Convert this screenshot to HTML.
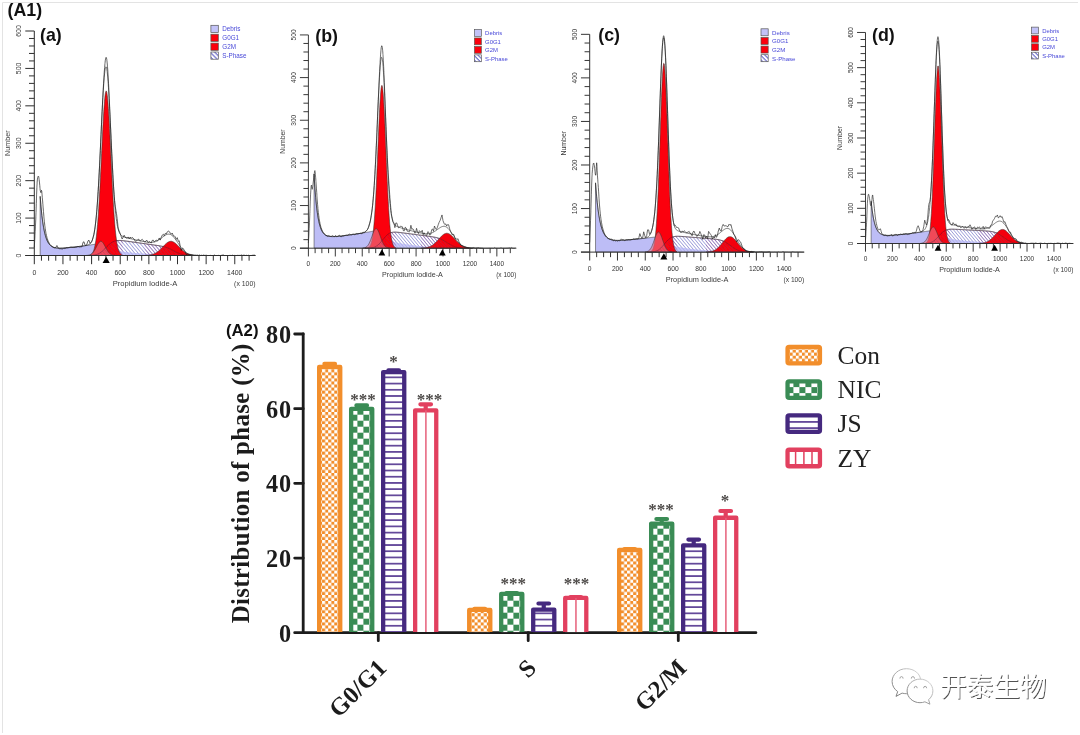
<!DOCTYPE html>
<html lang="en"><head><meta charset="utf-8"><title>Cell cycle distribution</title>
<style>
html,body{margin:0;padding:0;background:#fff;}
body{width:1080px;height:735px;overflow:hidden;}
svg{display:block;}
</style></head><body>
<svg width="1080" height="735" viewBox="0 0 1080 735">
<defs>
<pattern id="hatch" width="2.6" height="2.6" patternUnits="userSpaceOnUse" patternTransform="rotate(-40)"><rect width="2.6" height="2.6" fill="#fff" fill-opacity="0.85"/><rect width="0.62" height="2.6" fill="#7878cc"/></pattern>
<pattern id="hatch2" width="2.6" height="2.6" patternUnits="userSpaceOnUse" patternTransform="rotate(-40)"><rect width="0.6" height="2.6" fill="#8a2a7a" fill-opacity="0.55"/></pattern>
<pattern id="hatchL" width="3.2" height="3.2" patternUnits="userSpaceOnUse" patternTransform="rotate(45)"><rect width="3.2" height="3.2" fill="#fff"/><rect width="3.2" height="1.3" fill="#7a7ad0"/></pattern>
<filter id="soft" x="0" y="0" width="100%" height="100%" filterUnits="userSpaceOnUse"><feGaussianBlur stdDeviation="0.38"/></filter>

<pattern id="pO" width="6.1" height="6.1" patternUnits="userSpaceOnUse"><rect width="6.1" height="6.1" fill="#fff"/><rect x="3.05" width="3.05" height="3.05" fill="#f28e2b"/><rect y="3.05" width="3.05" height="3.05" fill="#f28e2b"/></pattern>
<pattern id="pG" width="12" height="12" patternUnits="userSpaceOnUse"><rect width="12" height="12" fill="#fff"/><rect x="6" width="6" height="6" fill="#3a8c55"/><rect y="6" width="6" height="6" fill="#3a8c55"/></pattern>
<pattern id="pP" width="40" height="6.21" patternUnits="userSpaceOnUse"><rect width="40" height="6.21" fill="#fff"/><rect width="40" height="0.85" fill="#5d4196"/><rect y="5.36" width="40" height="0.85" fill="#5d4196"/></pattern>
<filter id="wsh" x="-10%" y="-10%" width="130%" height="130%"><feGaussianBlur in="SourceAlpha" stdDeviation="0.55"/><feOffset dx="1" dy="1"/><feComponentTransfer><feFuncA type="linear" slope="0.68"/></feComponentTransfer><feMerge><feMergeNode/><feMergeNode in="SourceGraphic"/></feMerge></filter>
<linearGradient id="wg" x1="1" y1="0" x2="0" y2="1"><stop offset="0" stop-color="#d8d8d8"/><stop offset="0.45" stop-color="#a8a8a8"/><stop offset="1" stop-color="#6e6e6e"/></linearGradient>
<filter id="wsh3" x="-10%" y="-10%" width="130%" height="130%"><feGaussianBlur stdDeviation="0.35"/></filter>
<filter id="wsh2" x="-50%" y="-50%" width="200%" height="200%"><feGaussianBlur in="SourceAlpha" stdDeviation="0.4"/><feOffset dx="0.6" dy="0.6"/><feComponentTransfer><feFuncA type="linear" slope="0.5"/></feComponentTransfer><feMerge><feMergeNode/><feMergeNode in="SourceGraphic"/></feMerge></filter>
</defs>
<rect width="1080" height="735" fill="#fff"/>
<path d="M2.5 733V2.5H1078" fill="none" stroke="#e3e3e3" stroke-width="1"/>
<g font-family="'Liberation Sans', sans-serif" filter="url(#soft)">
<g transform="translate(34.3 255.5) scale(1 1)">
<path d="M5.87 0 L5.87 -59.12 L6.44 -51.81 L7.02 -45.5 L7.59 -40.07 L8.16 -35.4 L8.74 -31.36 L9.31 -27.89 L9.88 -24.9 L10.45 -22.33 L11.03 -20.11 L11.6 -18.21 L12.17 -16.57 L12.74 -15.16 L13.32 -13.95 L13.89 -12.91 L14.46 -12.02 L15.04 -11.25 L15.61 -10.6 L16.18 -10.04 L16.75 -9.57 L17.33 -9.16 L17.9 -8.82 L18.47 -8.53 L19.05 -8.28 L19.62 -8.08 L20.19 -7.91 L20.76 -7.77 L21.34 -7.65 L21.91 -7.56 L22.48 -7.49 L23.06 -7.43 L23.63 -7.39 L24.2 -7.36 L24.77 -7.34 L25.35 -7.34 L25.92 -7.34 L26.49 -7.34 L27.06 -7.36 L27.64 -7.38 L28.21 -7.4 L28.78 -7.43 L29.36 -7.46 L29.93 -7.5 L30.5 -7.54 L31.07 -7.58 L31.65 -7.63 L32.22 -7.67 L32.79 -7.72 L33.37 -7.77 L33.94 -7.83 L34.51 -7.88 L35.08 -7.94 L35.66 -7.99 L36.23 -8.05 L36.8 -8.11 L37.38 -8.17 L37.95 -8.23 L38.52 -8.29 L39.09 -8.36 L39.67 -8.42 L40.24 -8.49 L40.81 -8.55 L41.38 -8.62 L41.96 -8.69 L42.53 -8.75 L43.1 -8.82 L43.68 -8.89 L44.25 -8.96 L44.82 -9.03 L45.39 -9.11 L45.97 -9.18 L46.54 -9.25 L47.11 -9.33 L47.69 -9.4 L48.26 -9.47 L48.83 -9.55 L49.4 -9.63 L49.98 -9.7 L50.55 -9.78 L51.12 -9.86 L51.7 -9.94 L52.27 -10.02 L52.84 -10.1 L53.41 -10.18 L53.99 -10.26 L54.56 -10.34 L55.13 -10.42 L55.7 -10.5 L56.28 -10.59 L56.85 -10.67 L57.42 -10.76 L58 -10.84 L58.57 -10.93 L59.14 -11.01 L59.71 -11.1 L60.29 -11.19 L60.86 -11.27 L61.43 -11.36 L62.01 -11.45 L62.58 -11.54 L63.15 -11.63 L63.72 -11.72 L64.3 -11.81 L64.87 -11.9 L65.44 -12 L66.02 -12.09 L66.59 -12.18 L67.16 -12.28 L67.73 -12.2 L68.31 -11.65 L68.88 -11.13 L69.45 -10.64 L70.02 -10.19 L70.6 -9.76 L71.17 -9.36 L71.74 -8.99 L72.32 -8.64 L72.89 -8.32 L73.46 -8.01 L74.03 -7.72 L74.61 -7.45 L75.18 -7.2 L75.75 -6.96 L76.33 -6.74 L76.9 -6.52 L77.47 -6.32 L78.04 -6.13 L78.62 -5.96 L79.19 -5.79 L79.76 -5.63 L80.34 -5.47 L80.91 -5.33 L81.48 -5.19 L82.05 -5.06 L82.63 -4.94 L83.2 -4.82 L83.77 -4.7 L84.34 -4.59 L84.92 -4.49 L85.49 -4.39 L86.06 -4.29 L86.64 -4.2 L87.21 -4.11 L87.78 -4.03 L88.35 -3.94 L88.93 -3.86 L89.5 -3.79 L90.07 -3.71 L90.65 -3.64 L91.22 -3.57 L91.79 -3.5 L92.36 -3.43 L92.94 -3.37 L93.51 -3.3 L94.08 -3.24 L94.66 -3.18 L95.23 -3.12 L95.8 -3.06 L96.37 -3.01 L96.95 -2.95 L97.52 -2.9 L98.09 -2.84 L98.66 -2.79 L99.24 -2.74 L99.81 -2.69 L100.38 -2.64 L100.96 -2.59 L101.53 -2.54 L102.1 -2.49 L102.67 -2.45 L103.25 -2.4 L103.82 -2.35 L104.39 -2.31 L104.97 -2.26 L105.54 -2.22 L106.11 -2.18 L106.68 -2.13 L107.26 -2.09 L107.83 -2.05 L108.4 -2.01 L108.98 -1.97 L109.55 -1.93 L110.12 -1.89 L110.69 -1.85 L111.27 -1.81 L111.84 -1.77 L112.41 -1.73 L112.98 -1.69 L113.56 -1.66 L114.13 -1.62 L114.7 -1.58 L115.28 -1.55 L115.85 -1.51 L116.42 -1.47 L116.99 -1.44 L117.57 -1.4 L118.14 -1.37 L118.71 -1.34 L119.29 -1.3 L119.86 -1.27 L120.43 -1.24 L121 -1.2 L121.58 -1.17 L122.15 -1.14 L122.72 -1.11 L123.3 -1.08 L123.87 -1.05 L124.44 -1.02 L125.01 -0.99 L125.59 -0.96 L126.16 -0.93 L126.73 -0.9 L127.3 -0.87 L127.88 -0.84 L128.45 -0.82 L129.02 -0.79 L129.6 -0.76 L130.17 -0.74 L130.74 -0.71 L131.31 -0.68 L131.89 -0.66 L132.46 -0.63 L133.03 -0.61 L133.61 -0.58 L134.18 -0.56 L134.75 -0.54 L135.32 -0.52 L135.9 -0.49 L136.47 -0.47 L137.04 -0.45 L137.62 -0.43 L138.19 -0.41 L138.76 -0.39 L139.33 -0.37 L139.91 -0.35 L140.48 -0.33 L141.05 -0.31 L141.62 -0.29 L142.2 -0.27 L142.77 -0.26 L143.34 -0.24 L143.92 -0.22 L144.49 -0.21 L145.06 -0.19 L145.63 -0.18 L146.21 -0.16 L146.78 -0.15 L147.35 -0.14 L147.93 -0.12 L148.5 -0.11 L149.07 -0.1 L149.64 -0.09 L150.22 -0.08 L150.79 -0.07 L151.36 -0.06 L151.94 -0.05 L152.51 -0.04 L153.08 -0.03 L153.65 -0.03 L154.23 -0.02 L154.8 -0.01 L155.37 -0.01 L155.94 -0.01 L156.52 -0 L157.09 -0 L157.52 0Z" fill="#bdbdf6" stroke="#333" stroke-width="0.55" stroke-linejoin="round"/>
<path d="M51.7 0 L51.7 -0.01 L52.27 -0.02 L52.84 -0.02 L53.41 -0.03 L53.99 -0.04 L54.56 -0.05 L55.13 -0.07 L55.7 -0.09 L56.28 -0.11 L56.85 -0.14 L57.42 -0.18 L58 -0.23 L58.57 -0.28 L59.14 -0.35 L59.71 -0.43 L60.29 -0.53 L60.86 -0.65 L61.43 -0.78 L62.01 -0.94 L62.58 -1.12 L63.15 -1.33 L63.72 -1.57 L64.3 -1.84 L64.87 -2.13 L65.44 -2.46 L66.02 -2.82 L66.59 -3.22 L67.16 -3.65 L67.73 -4.1 L68.31 -4.59 L68.88 -5.11 L69.45 -5.65 L70.02 -6.21 L70.6 -6.8 L71.17 -7.39 L71.74 -8 L72.32 -8.61 L72.89 -9.17 L73.46 -9.73 L74.03 -10.27 L74.61 -10.79 L75.18 -11.29 L75.75 -11.76 L76.33 -12.2 L76.9 -12.61 L77.47 -12.99 L78.04 -13.33 L78.62 -13.64 L79.19 -13.92 L79.76 -14.16 L80.34 -14.36 L80.91 -14.54 L81.48 -14.68 L82.05 -14.8 L82.63 -14.89 L83.2 -14.96 L83.77 -15 L84.34 -15.03 L84.92 -15.04 L85.49 -15.03 L86.06 -15.02 L86.64 -14.99 L87.21 -14.95 L87.78 -14.9 L88.35 -14.85 L88.93 -14.79 L89.5 -14.72 L90.07 -14.66 L90.65 -14.58 L91.22 -14.51 L91.79 -14.44 L92.36 -14.36 L92.94 -14.28 L93.51 -14.2 L94.08 -14.13 L94.66 -14.05 L95.23 -13.97 L95.8 -13.89 L96.37 -13.81 L96.95 -13.72 L97.52 -13.64 L98.09 -13.56 L98.66 -13.48 L99.24 -13.4 L99.81 -13.32 L100.38 -13.24 L100.96 -13.16 L101.53 -13.08 L102.1 -13 L102.67 -12.91 L103.25 -12.83 L103.82 -12.75 L104.39 -12.67 L104.97 -12.59 L105.54 -12.51 L106.11 -12.43 L106.68 -12.35 L107.26 -12.27 L107.83 -12.19 L108.4 -12.1 L108.98 -12.02 L109.55 -11.94 L110.12 -11.86 L110.69 -11.78 L111.27 -11.7 L111.84 -11.62 L112.41 -11.54 L112.98 -11.46 L113.56 -11.37 L114.13 -11.29 L114.7 -11.21 L115.28 -11.13 L115.85 -11.05 L116.42 -10.97 L116.99 -10.89 L117.57 -10.81 L118.14 -10.72 L118.71 -10.64 L119.29 -10.56 L119.86 -10.48 L120.43 -10.39 L121 -10.31 L121.58 -10.23 L122.15 -10.14 L122.72 -10.06 L123.3 -9.97 L123.87 -9.88 L124.44 -9.79 L125.01 -9.69 L125.59 -9.59 L126.16 -9.49 L126.73 -9.39 L127.3 -9.27 L127.88 -9.16 L128.45 -9.03 L129.02 -8.9 L129.6 -8.76 L130.17 -8.61 L130.74 -8.45 L131.31 -8.28 L131.89 -8.1 L132.46 -7.91 L133.03 -7.7 L133.61 -7.48 L134.18 -7.25 L134.75 -7 L135.32 -6.74 L135.9 -6.47 L136.47 -6.19 L137.04 -5.9 L137.62 -5.6 L138.19 -5.3 L138.76 -4.99 L139.33 -4.68 L139.91 -4.36 L140.48 -4.05 L141.05 -3.74 L141.62 -3.48 L142.2 -3.21 L142.77 -2.95 L143.34 -2.7 L143.92 -2.46 L144.49 -2.22 L145.06 -2 L145.63 -1.78 L146.21 -1.59 L146.78 -1.4 L147.35 -1.23 L147.93 -1.07 L148.5 -0.93 L149.07 -0.8 L149.64 -0.68 L150.22 -0.58 L150.79 -0.49 L151.36 -0.41 L151.94 -0.34 L152.51 -0.28 L153.08 -0.23 L153.65 -0.19 L154.23 -0.15 L154.8 -0.12 L155.37 -0.1 L155.94 -0.08 L156.52 -0.06 L157.09 -0.05 L157.66 -0.04 L158.24 -0.03 L158.81 -0.02 L159.38 -0.02 L159.95 -0.01 L160.53 -0.01 L161.1 -0.01 L161.67 -0.01 L161.67 0Z" fill="#fff" />
<path d="M51.7 0 L51.7 -0.01 L52.27 -0.02 L52.84 -0.02 L53.41 -0.03 L53.99 -0.04 L54.56 -0.05 L55.13 -0.07 L55.7 -0.09 L56.28 -0.11 L56.85 -0.14 L57.42 -0.18 L58 -0.23 L58.57 -0.28 L59.14 -0.35 L59.71 -0.43 L60.29 -0.53 L60.86 -0.65 L61.43 -0.78 L62.01 -0.94 L62.58 -1.12 L63.15 -1.33 L63.72 -1.57 L64.3 -1.84 L64.87 -2.13 L65.44 -2.46 L66.02 -2.82 L66.59 -3.22 L67.16 -3.65 L67.73 -4.1 L68.31 -4.59 L68.88 -5.11 L69.45 -5.65 L70.02 -6.21 L70.6 -6.8 L71.17 -7.39 L71.74 -8 L72.32 -8.61 L72.89 -9.17 L73.46 -9.73 L74.03 -10.27 L74.61 -10.79 L75.18 -11.29 L75.75 -11.76 L76.33 -12.2 L76.9 -12.61 L77.47 -12.99 L78.04 -13.33 L78.62 -13.64 L79.19 -13.92 L79.76 -14.16 L80.34 -14.36 L80.91 -14.54 L81.48 -14.68 L82.05 -14.8 L82.63 -14.89 L83.2 -14.96 L83.77 -15 L84.34 -15.03 L84.92 -15.04 L85.49 -15.03 L86.06 -15.02 L86.64 -14.99 L87.21 -14.95 L87.78 -14.9 L88.35 -14.85 L88.93 -14.79 L89.5 -14.72 L90.07 -14.66 L90.65 -14.58 L91.22 -14.51 L91.79 -14.44 L92.36 -14.36 L92.94 -14.28 L93.51 -14.2 L94.08 -14.13 L94.66 -14.05 L95.23 -13.97 L95.8 -13.89 L96.37 -13.81 L96.95 -13.72 L97.52 -13.64 L98.09 -13.56 L98.66 -13.48 L99.24 -13.4 L99.81 -13.32 L100.38 -13.24 L100.96 -13.16 L101.53 -13.08 L102.1 -13 L102.67 -12.91 L103.25 -12.83 L103.82 -12.75 L104.39 -12.67 L104.97 -12.59 L105.54 -12.51 L106.11 -12.43 L106.68 -12.35 L107.26 -12.27 L107.83 -12.19 L108.4 -12.1 L108.98 -12.02 L109.55 -11.94 L110.12 -11.86 L110.69 -11.78 L111.27 -11.7 L111.84 -11.62 L112.41 -11.54 L112.98 -11.46 L113.56 -11.37 L114.13 -11.29 L114.7 -11.21 L115.28 -11.13 L115.85 -11.05 L116.42 -10.97 L116.99 -10.89 L117.57 -10.81 L118.14 -10.72 L118.71 -10.64 L119.29 -10.56 L119.86 -10.48 L120.43 -10.39 L121 -10.31 L121.58 -10.23 L122.15 -10.14 L122.72 -10.06 L123.3 -9.97 L123.87 -9.88 L124.44 -9.79 L125.01 -9.69 L125.59 -9.59 L126.16 -9.49 L126.73 -9.39 L127.3 -9.27 L127.88 -9.16 L128.45 -9.03 L129.02 -8.9 L129.6 -8.76 L130.17 -8.61 L130.74 -8.45 L131.31 -8.28 L131.89 -8.1 L132.46 -7.91 L133.03 -7.7 L133.61 -7.48 L134.18 -7.25 L134.75 -7 L135.32 -6.74 L135.9 -6.47 L136.47 -6.19 L137.04 -5.9 L137.62 -5.6 L138.19 -5.3 L138.76 -4.99 L139.33 -4.68 L139.91 -4.36 L140.48 -4.05 L141.05 -3.74 L141.62 -3.48 L142.2 -3.21 L142.77 -2.95 L143.34 -2.7 L143.92 -2.46 L144.49 -2.22 L145.06 -2 L145.63 -1.78 L146.21 -1.59 L146.78 -1.4 L147.35 -1.23 L147.93 -1.07 L148.5 -0.93 L149.07 -0.8 L149.64 -0.68 L150.22 -0.58 L150.79 -0.49 L151.36 -0.41 L151.94 -0.34 L152.51 -0.28 L153.08 -0.23 L153.65 -0.19 L154.23 -0.15 L154.8 -0.12 L155.37 -0.1 L155.94 -0.08 L156.52 -0.06 L157.09 -0.05 L157.66 -0.04 L158.24 -0.03 L158.81 -0.02 L159.38 -0.02 L159.95 -0.01 L160.53 -0.01 L161.1 -0.01 L161.67 -0.01 L161.67 0Z" fill="url(#hatch)" stroke="#333" stroke-width="0.55" stroke-linejoin="round"/>
<path d="M77.61 0 L77.61 -6.27 L78.19 -6.09 L78.76 -5.91 L79.33 -5.75 L79.91 -5.59 L80.48 -5.44 L81.05 -5.29 L81.62 -5.16 L82.2 -5.03 L82.77 -4.91 L83.34 -4.79 L83.92 -4.68 L84.49 -4.57 L85.06 -4.46 L85.63 -4.37 L86.21 -4.27 L86.78 -4.18 L87.35 -4.09 L87.92 -4.01 L88.5 -3.92 L89.07 -3.84 L89.64 -3.77 L90.22 -3.69 L90.79 -3.62 L91.36 -3.55 L91.93 -3.48 L92.51 -3.42 L93.08 -3.35 L93.65 -3.29 L94.23 -3.23 L94.8 -3.17 L95.37 -3.11 L95.94 -3.05 L96.52 -2.99 L97.09 -2.94 L97.66 -2.88 L98.24 -2.83 L98.81 -2.78 L99.38 -2.73 L99.95 -2.68 L100.53 -2.63 L101.1 -2.58 L101.67 -2.53 L102.24 -2.48 L102.82 -2.43 L103.39 -2.39 L103.96 -2.34 L104.54 -2.3 L105.11 -2.25 L105.68 -2.21 L106.25 -2.17 L106.83 -2.12 L107.4 -2.08 L107.97 -2.04 L108.55 -2 L109.12 -1.96 L109.69 -1.92 L110.26 -1.88 L110.84 -1.84 L111.41 -1.8 L111.98 -1.76 L112.56 -1.72 L113.13 -1.68 L113.7 -1.65 L114.27 -1.61 L114.85 -1.57 L115.42 -1.54 L115.99 -1.5 L116.56 -1.47 L117.14 -1.43 L117.71 -1.4 L118.28 -1.36 L118.86 -1.33 L119.43 -1.29 L120 -1.26 L120.57 -1.23 L121.15 -1.2 L121.72 -1.16 L122.29 -1.13 L122.87 -1.1 L123.44 -1.07 L124.01 -1.04 L124.58 -1.01 L125.16 -0.98 L125.73 -0.95 L126.3 -0.92 L126.88 -0.89 L127.45 -0.86 L128.02 -0.84 L128.59 -0.81 L129.17 -0.78 L129.74 -0.75 L130.31 -0.73 L130.88 -0.7 L131.46 -0.68 L132.03 -0.65 L132.6 -0.63 L133.18 -0.6 L133.75 -0.58 L134.32 -0.56 L134.89 -0.53 L135.47 -0.51 L136.04 -0.49 L136.61 -0.47 L137.19 -0.44 L137.76 -0.42 L138.33 -0.4 L138.9 -0.38 L139.48 -0.36 L140.05 -0.34 L140.62 -0.32 L141.2 -0.31 L141.77 -0.29 L142.34 -0.27 L142.91 -0.25 L143.49 -0.24 L144.06 -0.22 L144.63 -0.2 L145.2 -0.19 L145.78 -0.17 L146.35 -0.16 L146.92 -0.15 L147.5 -0.13 L148.07 -0.12 L148.64 -0.11 L149.21 -0.1 L149.79 -0.09 L150.36 -0.08 L150.93 -0.07 L151.51 -0.06 L152.08 -0.05 L152.65 -0.04 L153.22 -0.03 L153.8 -0.02 L154.37 -0.02 L154.94 -0.01 L155.52 -0.01 L156.09 -0 L156.66 -0 L157.23 -0 L157.52 0Z" fill="#b4b4f4" opacity="0.75"/>
<path d="M55.82 0 L55.82 -0.51 L56.39 -0.76 L56.96 -1.13 L57.54 -1.64 L58.11 -2.35 L58.68 -3.32 L59.26 -4.63 L59.83 -6.35 L60.4 -8.59 L60.97 -11.45 L61.55 -15.03 L62.12 -19.46 L62.69 -24.81 L63.27 -31.18 L63.84 -38.61 L64.41 -47.12 L64.98 -56.66 L65.56 -67.14 L66.13 -78.39 L66.7 -90.2 L67.28 -102.28 L67.85 -114.27 L68.42 -125.82 L68.99 -136.51 L69.57 -145.94 L70.14 -153.76 L70.71 -159.63 L71.28 -163.31 L71.86 -164.63 L72.43 -163.55 L73 -160.1 L73.58 -154.44 L74.15 -146.8 L74.72 -137.51 L75.29 -126.93 L75.87 -115.46 L76.44 -103.48 L77.01 -91.4 L77.59 -79.55 L78.16 -68.23 L78.73 -57.67 L79.3 -48.03 L79.88 -39.41 L80.45 -31.88 L81.02 -25.4 L81.6 -19.95 L82.17 -15.44 L82.74 -11.77 L83.31 -8.85 L83.89 -6.55 L84.46 -4.78 L85.03 -3.44 L85.6 -2.43 L86.18 -1.7 L86.75 -1.17 L87.32 -0.79 L87.9 -0.53 L87.95 0Z" fill="#fb0207" stroke="#333" stroke-width="0.55" stroke-linejoin="round"/>
<path d="M110.49 0 L110.49 -0.08 L111.07 -0.11 L111.64 -0.13 L112.21 -0.16 L112.78 -0.2 L113.36 -0.25 L113.93 -0.3 L114.5 -0.36 L115.08 -0.44 L115.65 -0.53 L116.22 -0.63 L116.79 -0.75 L117.37 -0.88 L117.94 -1.04 L118.51 -1.22 L119.09 -1.42 L119.66 -1.64 L120.23 -1.9 L120.8 -2.18 L121.38 -2.49 L121.95 -2.83 L122.52 -3.2 L123.09 -3.61 L123.67 -4.04 L124.24 -4.51 L124.81 -5 L125.39 -5.52 L125.96 -6.07 L126.53 -6.63 L127.1 -7.21 L127.68 -7.81 L128.25 -8.41 L128.82 -9.02 L129.4 -9.62 L129.97 -10.21 L130.54 -10.78 L131.11 -11.33 L131.69 -11.85 L132.26 -12.33 L132.83 -12.77 L133.41 -13.16 L133.98 -13.5 L134.55 -13.77 L135.12 -13.98 L135.7 -14.13 L136.27 -14.21 L136.84 -14.21 L137.41 -14.15 L137.99 -14.02 L138.56 -13.82 L139.13 -13.56 L139.71 -13.23 L140.28 -12.85 L140.85 -12.42 L141.42 -11.95 L142 -11.44 L142.57 -10.89 L143.14 -10.32 L143.72 -9.74 L144.29 -9.14 L144.86 -8.53 L145.43 -7.93 L146.01 -7.33 L146.58 -6.75 L147.15 -6.18 L147.73 -5.63 L148.3 -5.1 L148.87 -4.6 L149.44 -4.13 L150.02 -3.69 L150.59 -3.28 L151.16 -2.9 L151.73 -2.56 L152.31 -2.24 L152.88 -1.95 L153.45 -1.69 L154.03 -1.46 L154.6 -1.25 L155.17 -1.07 L155.74 -0.91 L156.32 -0.77 L156.89 -0.65 L157.46 -0.54 L158.04 -0.45 L158.61 -0.38 L159.18 -0.31 L159.75 -0.26 L160.33 -0.21 L160.9 -0.17 L161.47 -0.14 L162.05 -0.11 L162.62 -0.09 L162.73 0Z" fill="#f4060c" stroke="#333" stroke-width="0.55" stroke-linejoin="round"/>
<path d="M52.38 0 L52.38 -0.08 L52.96 -0.13 L53.53 -0.19 L54.1 -0.27 L54.67 -0.39 L55.25 -0.54 L55.82 -0.75 L56.39 -1.02 L56.96 -1.36 L57.54 -1.78 L58.11 -2.3 L58.68 -2.91 L59.26 -3.64 L59.83 -4.46 L60.4 -5.38 L60.97 -6.39 L61.55 -7.46 L62.12 -8.57 L62.69 -9.68 L63.27 -10.75 L63.84 -11.74 L64.41 -12.61 L64.98 -13.32 L65.56 -13.84 L66.13 -14.14 L66.7 -14.21 L67.28 -14.05 L67.85 -13.66 L68.42 -13.06 L68.99 -12.28 L69.57 -11.35 L70.14 -10.32 L70.71 -9.23 L71.28 -8.12 L71.86 -7.03 L72.43 -5.98 L73 -5 L73.58 -4.12 L74.15 -3.33 L74.72 -2.65 L75.29 -2.08 L75.87 -1.6 L76.44 -1.21 L77.01 -0.9 L77.59 -0.66 L78.16 -0.48 L78.73 -0.34 L79.3 -0.23 L79.88 -0.16 L80.45 -0.11 L80.79 0Z" fill="#e8788c" fill-opacity="0.62" stroke="#333" stroke-width="0.55" stroke-linejoin="round"/>
<path d="M51.7 0 L51.7 -0.01 L52.27 -0.02 L52.84 -0.02 L53.41 -0.03 L53.99 -0.04 L54.56 -0.05 L55.13 -0.07 L55.7 -0.09 L56.28 -0.11 L56.85 -0.14 L57.42 -0.18 L58 -0.23 L58.57 -0.28 L59.14 -0.35 L59.71 -0.43 L60.29 -0.53 L60.86 -0.65 L61.43 -0.78 L62.01 -0.94 L62.58 -1.12 L63.15 -1.33 L63.72 -1.57 L64.3 -1.84 L64.87 -2.13 L65.44 -2.46 L66.02 -2.82 L66.59 -3.22 L67.16 -3.65 L67.73 -4.1 L68.31 -4.59 L68.88 -5.11 L69.45 -5.65 L70.02 -6.21 L70.6 -6.8 L71.17 -7.39 L71.74 -8 L72.32 -8.61 L72.89 -9.17 L73.46 -9.73 L74.03 -10.27 L74.61 -10.79 L75.18 -11.29 L75.75 -11.76 L76.33 -12.2 L76.9 -12.61 L77.47 -12.99 L78.04 -13.33 L78.62 -13.64 L79.19 -13.92 L79.76 -14.16 L80.34 -14.36 L80.91 -14.54 L81.48 -14.68 L82.05 -14.8 L82.63 -14.89 L83.2 -14.96 L83.77 -15 L84.34 -15.03 L84.92 -15.04 L85.49 -15.03 L86.06 -15.02 L86.64 -14.99 L87.21 -14.95 L87.78 -14.9 L88.35 -14.85 L88.43 0Z" fill="url(#hatch2)" opacity="0.8"/>
<path d="M110.49 0 L110.49 -11.81 L111.07 -11.73 L111.64 -11.65 L112.21 -11.57 L112.78 -11.48 L113.36 -11.4 L113.93 -11.32 L114.5 -11.24 L115.08 -11.16 L115.65 -11.08 L116.22 -11 L116.79 -10.92 L117.37 -10.83 L117.94 -10.75 L118.51 -10.67 L119.09 -10.59 L119.66 -10.51 L120.23 -10.42 L120.8 -10.34 L121.38 -10.26 L121.95 -10.17 L122.52 -10.09 L123.09 -10 L123.67 -9.91 L124.24 -9.82 L124.81 -9.72 L125.39 -9.63 L125.96 -9.53 L126.53 -9.42 L127.1 -9.31 L127.68 -9.2 L128.25 -9.08 L128.82 -8.95 L129.4 -8.81 L129.97 -8.67 L130.54 -8.51 L131.11 -8.34 L131.69 -8.17 L132.26 -7.98 L132.83 -7.77 L133.41 -7.56 L133.98 -7.33 L134.55 -7.09 L135.12 -6.83 L135.7 -6.57 L136.27 -6.29 L136.84 -6 L137.41 -5.71 L137.99 -5.41 L138.56 -5.1 L139.13 -4.79 L139.71 -4.47 L140.28 -4.16 L140.85 -3.85 L141.42 -3.57 L142 -3.31 L142.57 -3.04 L143.14 -2.79 L143.72 -2.54 L144.29 -2.3 L144.86 -2.07 L145.43 -1.86 L146.01 -1.65 L146.58 -1.46 L147.15 -1.29 L147.73 -1.12 L148.3 -0.98 L148.87 -0.84 L149.44 -0.72 L150.02 -0.61 L150.59 -0.52 L151.16 -0.44 L151.73 -0.36 L152.31 -0.3 L152.88 -0.25 L153.45 -0.2 L154.03 -0.16 L154.6 -0.13 L155.17 -0.11 L155.74 -0.08 L156.32 -0.07 L156.89 -0.05 L157.46 -0.04 L158.04 -0.03 L158.61 -0.02 L159.18 -0.02 L159.75 -0.01 L160.33 -0.01 L160.9 -0.01 L161.47 -0.01 L161.67 0Z" fill="url(#hatch2)" opacity="0.8"/>
<path d="M51.7 -0.01 L52.41 -0.02 L53.13 -0.02 L53.84 -0.04 L54.56 -0.05 L55.28 -0.07 L55.99 -0.1 L56.71 -0.13 L57.42 -0.18 L58.14 -0.24 L58.86 -0.32 L59.57 -0.41 L60.29 -0.53 L61 -0.68 L61.72 -0.86 L62.44 -1.08 L63.15 -1.33 L63.87 -1.63 L64.58 -1.98 L65.3 -2.38 L66.02 -2.82 L66.73 -3.32 L67.45 -3.87 L68.16 -4.47 L68.88 -5.11 L69.6 -5.79 L70.31 -6.5 L71.03 -7.24 L71.74 -8 L72.46 -8.75 L73.18 -9.45 L73.89 -10.13 L74.61 -10.79 L75.32 -11.41 L76.04 -11.99 L76.76 -12.51 L77.47 -12.99 L78.19 -13.41 L78.9 -13.78 L79.62 -14.1 L80.34 -14.36 L81.05 -14.58 L81.77 -14.74 L82.48 -14.87 L83.2 -14.96 L83.92 -15.01 L84.63 -15.04 L85.35 -15.04 L86.06 -15.02 L86.78 -14.98 L87.5 -14.92 L88.21 -14.86 L88.93 -14.79 L89.64 -14.71 L90.36 -14.62 L91.08 -14.53 L91.79 -14.44 L92.51 -14.34 L93.22 -14.24 L93.94 -14.15 L94.66 -14.05 L95.37 -13.95 L96.09 -13.85 L96.8 -13.74 L97.52 -13.64 L98.24 -13.54 L98.95 -13.44 L99.67 -13.34 L100.38 -13.24 L101.1 -13.14 L101.82 -13.04 L102.53 -12.94 L103.25 -12.83 L103.96 -12.73 L104.68 -12.63 L105.4 -12.53 L106.11 -12.43 L106.83 -12.33 L107.54 -12.23 L108.26 -12.12 L108.98 -12.02 L109.69 -11.92 L110.41 -11.82 L111.12 -11.72 L111.84 -11.62 L112.56 -11.52 L113.27 -11.42 L113.99 -11.31 L114.7 -11.21 L115.42 -11.11 L116.14 -11.01 L116.85 -10.91 L117.57 -10.81 L118.28 -10.7 L119 -10.6 L119.72 -10.5 L120.43 -10.39 L121.15 -10.29 L121.86 -10.18 L122.58 -10.08 L123.3 -9.97 L124.01 -9.85 L124.73 -9.74 L125.44 -9.62 L126.16 -9.49 L126.88 -9.36 L127.59 -9.22 L128.31 -9.06 L129.02 -8.9 L129.74 -8.73 L130.46 -8.53 L131.17 -8.33 L131.89 -8.1 L132.6 -7.86 L133.32 -7.59 L134.04 -7.31 L134.75 -7 L135.47 -6.68 L136.18 -6.33 L136.9 -5.98 L137.62 -5.6 L138.33 -5.22 L139.05 -4.83 L139.76 -4.44 L140.48 -4.05 L141.2 -3.68 L141.91 -3.34 L142.63 -3.02 L143.34 -2.7 L144.06 -2.4 L144.78 -2.11 L145.49 -1.84 L146.21 -1.59 L146.92 -1.36 L147.64 -1.15 L148.36 -0.96 L149.07 -0.8 L149.79 -0.66 L150.5 -0.53 L151.22 -0.43 L151.94 -0.34 L152.65 -0.27 L153.37 -0.21 L154.08 -0.16 L154.8 -0.12 L155.52 -0.09 L156.23 -0.07 L156.95 -0.05 L157.66 -0.04 L158.38 -0.03 L159.1 -0.02 L159.81 -0.01 L160.53 -0.01 L161.24 -0.01" fill="none" stroke="#3a1030" stroke-width="0.45" opacity="0.85"/>
<path d="M5.87 -59.12 L6.73 -48.54 L7.59 -40.07 L8.45 -33.3 L9.31 -27.89 L10.17 -23.57 L11.03 -20.11 L11.89 -17.35 L12.74 -15.16 L13.6 -13.41 L14.46 -12.02 L15.32 -10.91 L16.18 -10.04 L17.04 -9.36 L17.9 -8.82 L18.76 -8.4 L19.62 -8.08 L20.48 -7.84 L21.34 -7.65 L22.2 -7.52 L23.06 -7.43 L23.91 -7.38 L24.77 -7.34 L25.63 -7.34 L26.49 -7.34 L27.35 -7.37 L28.21 -7.4 L29.07 -7.45 L29.93 -7.5 L30.79 -7.56 L31.65 -7.63 L32.51 -7.7 L33.37 -7.77 L34.22 -7.85 L35.08 -7.94 L35.94 -8.02 L36.8 -8.11 L37.66 -8.2 L38.52 -8.29 L39.38 -8.39 L40.24 -8.49 L41.1 -8.59 L41.96 -8.69 L42.82 -8.79 L43.68 -8.89 L44.54 -9 L45.39 -9.11 L46.25 -9.22 L47.11 -9.33 L47.97 -9.44 L48.83 -9.56 L49.69 -9.68 L50.55 -9.81 L51.41 -9.96 L52.27 -10.14 L53.13 -10.37 L53.99 -10.67 L54.85 -11.11 L55.28 -11.41 L55.7 -11.76 L56.13 -12.2 L56.56 -12.72 L56.99 -13.37 L57.42 -14.14 L57.85 -15.09 L58.28 -16.22 L58.71 -17.57 L59.14 -19.18 L59.57 -21.08 L60 -23.32 L60.43 -25.92 L60.86 -28.93 L61.29 -32.39 L61.72 -36.33 L62.15 -40.79 L62.58 -45.78 L63.01 -51.34 L63.44 -57.47 L63.87 -64.17 L64.3 -71.43 L64.73 -79.2 L65.16 -87.45 L65.59 -96.11 L66.02 -105.1 L66.44 -114.32 L66.87 -123.66 L67.3 -132.97 L67.73 -141.96 L68.16 -150.3 L68.59 -158.2 L69.02 -165.49 L69.45 -172.01 L69.88 -177.63 L70.31 -182.21 L70.74 -185.65 L71.17 -187.86 L71.6 -188.78 L72.03 -188.38 L72.46 -186.67 L72.89 -183.65 L73.32 -179.43 L73.75 -174.08 L74.18 -167.73 L74.61 -160.51 L75.04 -152.58 L75.47 -144.09 L75.9 -135.22 L76.33 -126.12 L76.76 -116.95 L77.18 -107.86 L77.61 -98.98 L78.04 -90.42 L78.47 -82.28 L78.9 -74.63 L79.33 -67.53 L79.76 -61.01 L80.19 -55.09 L80.62 -49.77 L81.05 -45.05 L81.48 -40.89 L81.91 -37.26 L82.34 -34.12 L82.77 -31.44 L83.2 -29.16 L83.63 -27.24 L84.06 -25.64 L84.49 -24.31 L84.92 -23.21 L85.35 -22.3 L85.78 -21.56 L86.21 -20.95 L86.64 -20.45 L87.07 -20.04 L87.5 -19.7 L87.92 -19.41 L88.35 -19.17 L88.78 -18.96 L89.21 -18.78 L90.07 -18.47 L90.93 -18.2 L91.79 -17.96 L92.65 -17.73 L93.51 -17.51 L94.37 -17.3 L95.23 -17.09 L96.09 -16.88 L96.95 -16.68 L97.81 -16.47 L98.66 -16.27 L99.52 -16.08 L100.38 -15.88 L101.24 -15.68 L102.1 -15.49 L102.96 -15.3 L103.82 -15.11 L104.68 -14.92 L105.54 -14.74 L106.4 -14.56 L107.26 -14.38 L108.12 -14.21 L108.98 -14.04 L109.83 -13.87 L110.69 -13.72 L111.55 -13.57 L112.41 -13.44 L113.27 -13.33 L114.13 -13.23 L114.99 -13.16 L115.85 -13.12 L116.71 -13.11 L117.57 -13.14 L118.43 -13.22 L119.29 -13.36 L120.14 -13.55 L121 -13.8 L121.86 -14.12 L122.72 -14.51 L123.58 -14.96 L124.44 -15.48 L125.3 -16.06 L126.16 -16.68 L127.02 -17.34 L127.88 -18.02 L128.74 -18.7 L129.6 -19.35 L130.46 -19.95 L131.31 -20.48 L132.17 -20.91 L133.03 -21.22 L133.89 -21.39 L134.75 -21.39 L135.61 -21.23 L136.47 -20.88 L137.33 -20.36 L138.19 -19.66 L139.05 -18.81 L139.91 -17.82 L140.77 -16.71 L141.62 -15.54 L142.48 -14.33 L143.34 -13.06 L144.2 -11.78 L145.06 -10.51 L145.92 -9.28 L146.78 -8.09 L147.64 -6.99 L148.5 -5.96 L149.36 -5.03 L150.22 -4.2 L151.08 -3.47 L151.94 -2.83 L152.79 -2.29 L153.65 -1.82 L154.51 -1.44 L155.37 -1.12 L156.23 -0.86 L157.09 -0.66 L157.95 -0.5 L158.81 -0.37 L159.67 -0.28 L160.53 -0.2 L161.39 -0.15 L162.25 -0.11 L163.1 -0.08 L163.96 -0.05 L164.82 -0.04 L165.68 -0.03 L166.54 -0.02 L167.4 -0.01 L168.26 -0.01 L169.12 -0.01 L169.98 -0 L170.84 -0 L171.7 -0 L172.56 -0 L173.42 -0 L174.27 -0 L175.13 -0 L175.99 -0 L176.85 -0 L177.71 -0 L178.57 -0 L179.43 -0 L180.29 -0 L181.15 -0 L182.01 -0 L182.87 -0 L183.73 -0 L184.58 -0 L185.44 -0" fill="none" stroke="#222" stroke-width="0.6" stroke-linejoin="round"/>
<path d="M0 -8.23 L0.29 -13.51 L0.57 -18.6 L0.86 -23.79 L1.15 -29.34 L1.43 -35.55 L1.72 -43.14 L2 -51.91 L2.29 -60.65 L2.58 -68.16 L2.86 -73.38 L3.15 -76.49 L3.44 -78.15 L3.72 -79 L4.01 -79.49 L4.3 -79.02 L4.58 -77.74 L4.87 -75.96 L5.16 -73.42 L5.44 -70.19 L5.73 -67.1 L6.01 -64.86 L6.3 -63.44 L6.59 -62.86 L6.87 -63.89 L7.16 -65.25 L7.45 -64.24 L7.73 -61.36 L8.02 -57.82 L8.31 -54.49 L8.59 -51.09 L8.88 -47.61 L9.16 -44.15 L9.59 -38.8 L10.02 -34.28 L10.45 -30.45 L10.88 -27.19 L11.31 -24.41 L11.74 -22.04 L12.17 -20.01 L12.6 -18.27 L13.03 -16.77 L13.46 -15.48 L13.89 -14.37 L14.32 -13.41 L14.75 -12.57 L15.18 -11.85 L15.61 -11.22 L16.04 -10.67 L16.47 -10.2 L16.9 -9.78 L17.33 -9.42 L17.76 -9.11 L18.19 -8.84 L18.62 -8.6 L19.62 -7.66 L20.62 -7.68 L21.62 -8.16 L22.63 -10.03 L23.63 -7.66 L24.63 -7.14 L25.63 -6.52 L26.64 -6.92 L27.64 -6.43 L28.64 -6.61 L29.64 -7.65 L30.64 -6.78 L31.65 -7.69 L32.65 -7.85 L33.65 -7.73 L34.65 -8.04 L35.66 -8.24 L36.66 -8.56 L37.66 -8.25 L38.66 -8.1 L39.67 -8.13 L40.67 -8.08 L41.67 -8.5 L42.67 -8.43 L43.68 -9.19 L44.68 -8.41 L45.68 -8.55 L46.68 -8.74 L47.69 -8.75 L48.69 -13.14 L49.69 -13.74 L50.69 -10.54 L51.7 -9.77 L52.7 -11.54 L53.7 -14.66 L54.7 -15.33 L55.7 -12.06 L56.71 -12.81 L57.71 -14.47 L58.71 -17.73 L59.71 -21.41 L60.72 -27.73 L61.72 -36.29 L62.08 -39.99 L62.44 -44.05 L62.79 -48.49 L63.15 -53.32 L63.51 -58.55 L63.87 -64.17 L64.23 -70.18 L64.58 -76.56 L64.94 -83.27 L65.3 -90.31 L65.66 -97.61 L66.02 -105.14 L66.37 -112.85 L66.73 -120.68 L67.09 -128.56 L67.45 -136.43 L67.81 -143.99 L68.16 -151.25 L68.52 -158.33 L68.88 -165.15 L69.24 -171.64 L69.6 -177.69 L69.95 -183.21 L70.31 -188.06 L70.67 -192.12 L71.03 -195.25 L71.39 -197.3 L71.74 -198.19 L72.1 -197.83 L72.46 -196.2 L72.82 -193.33 L73.18 -189.31 L73.53 -184.27 L73.89 -178.37 L74.25 -171.76 L74.61 -164.62 L74.97 -157.08 L75.32 -149.28 L75.68 -141.33 L76.04 -133.32 L76.4 -125.33 L76.76 -117.42 L77.11 -109.65 L77.47 -102.08 L77.83 -94.75 L78.19 -87.72 L78.55 -81.02 L78.9 -74.72 L79.26 -68.86 L79.62 -63.52 L79.98 -58.78 L80.34 -54.71 L80.69 -51.34 L81.05 -48.62 L81.41 -46.38 L81.77 -44.35 L82.13 -42.25 L82.48 -39.86 L82.84 -37.13 L83.84 -27.51 L84.85 -24.33 L85.85 -22.07 L86.85 -19.25 L87.85 -16.46 L88.86 -18.41 L89.86 -20.26 L90.86 -18.14 L91.86 -17.66 L92.87 -17.22 L93.87 -18.56 L94.87 -16.68 L95.87 -18.5 L96.87 -17.15 L97.88 -18.23 L98.88 -17.19 L99.88 -16.37 L100.88 -14.28 L101.89 -14.56 L102.89 -15.06 L103.89 -16.3 L104.89 -15.96 L105.9 -14.44 L106.9 -15.33 L107.9 -16.24 L108.9 -14.84 L109.91 -13.9 L110.91 -13.56 L111.91 -14.97 L112.91 -14.93 L113.92 -12.86 L114.92 -13.95 L115.92 -13.1 L116.92 -12.5 L117.93 -15.07 L118.93 -15.39 L119.93 -13.58 L120.93 -14.37 L121.93 -15.5 L122.94 -14.7 L123.94 -15.63 L124.94 -17.52 L125.94 -15.39 L126.95 -18.25 L127.95 -20.33 L128.95 -21.3 L129.95 -19.73 L130.96 -22.03 L131.96 -21.55 L132.96 -23.62 L133.96 -24.38 L134.97 -24 L135.97 -22.26 L136.97 -21.48 L137.97 -22.51 L138.98 -19.61 L139.98 -19.63 L140.98 -18.58 L141.98 -16.12 L142.99 -17.85 L143.99 -14.11 L144.99 -14.67 L145.99 -8.19 L146.99 -4.97 L148 -7.47 L149 -6.97 L150 -4.86 L151 -4 L152.01 -0.76 L153.01 -1.23 L154.01 -1.11 L155.01 -1.02 L156.02 -1.09 L157.02 -0.74 L158.02 -0.6 L159.02 -0.2 L160.03 -0.09 L161.03 -0.15 L162.03 -0.04 L163.03 -0.39 L164.04 0 L165.04 -0.49 L166.04 0 L167.04 -0.26 L168.05 0 L169.05 -0.4 L170.05 -0.16 L171.05 -0.15 L172.05 -0.24 L173.06 0 L174.06 0 L175.06 0 L176.06 -0.13 L177.07 0 L178.07 0 L179.07 0 L180.07 -0.5 L181.08 0 L182.08 0 L183.08 0 L184.08 -0.11 L185.09 0 L186.09 0 L187.09 -0.15 L188.09 -0.45 L189.1 -0.55 L190.1 0 L191.1 0 L192.1 0 L193.11 0 L194.11 0 L195.11 -0.05 L196.11 -0.08 L197.11 0 L198.12 -0.31 L199.12 0 L200.12 -0.09 L201.12 -0.03 L202.13 0 L203.13 -0.13 L204.13 -0.08 L205.13 -0.1 L206.14 -0.1 L207.14 -0.54 L208.14 -0.08 L209.14 -0.29 L210.15 -0.25 L211.15 0 L212.15 -0.2 L213.15 0 L214.16 -0.25 L215.16 0 L216.16 0 L217.16 -0.03 L218.17 -0.23 L219.17 -0.31 L220.17 -0.33 L221.17 -0.04" fill="none" stroke="#1a1a1a" stroke-width="0.65" stroke-linejoin="round"/>
<g stroke="#2e2e2e" stroke-width="1" fill="none"><path d="M-9 0H221.24"/><path d="M0 0V-224.5"/><path d="M-9 0H0M-5.3 -7.48H0M-5.3 -14.97H0M-5.3 -22.45H0M-5.3 -29.93H0M-9 -37.42H0M-5.3 -44.9H0M-5.3 -52.38H0M-5.3 -59.87H0M-5.3 -67.35H0M-9 -74.83H0M-5.3 -82.32H0M-5.3 -89.8H0M-5.3 -97.28H0M-5.3 -104.77H0M-9 -112.25H0M-5.3 -119.73H0M-5.3 -127.22H0M-5.3 -134.7H0M-5.3 -142.18H0M-9 -149.67H0M-5.3 -157.15H0M-5.3 -164.63H0M-5.3 -172.12H0M-5.3 -179.6H0M-9 -187.08H0M-5.3 -194.57H0M-5.3 -202.05H0M-5.3 -209.53H0M-5.3 -217.02H0M-9 -224.5H0"/><path d="M0 0V8.7M7.16 0V5.2M14.32 0V5.2M21.48 0V5.2M28.64 0V8.7M35.8 0V5.2M42.96 0V5.2M50.12 0V5.2M57.28 0V8.7M64.44 0V5.2M71.6 0V5.2M78.76 0V5.2M85.92 0V8.7M93.08 0V5.2M100.24 0V5.2M107.4 0V5.2M114.56 0V8.7M121.72 0V5.2M128.88 0V5.2M136.04 0V5.2M143.2 0V8.7M150.36 0V5.2M157.52 0V5.2M164.68 0V5.2M171.84 0V8.7M179 0V5.2M186.16 0V5.2M193.32 0V5.2M200.48 0V8.7M207.64 0V5.2M214.8 0V5.2"/></g>
<g font-size="6.9" fill="#333" text-anchor="middle"><text x="0" y="19">0</text><text x="28.64" y="19">200</text><text x="57.28" y="19">400</text><text x="85.92" y="19">600</text><text x="114.56" y="19">800</text><text x="143.2" y="19">1000</text><text x="171.84" y="19">1200</text><text x="200.48" y="19">1400</text><text transform="translate(-13.3 0) rotate(-90)">0</text><text transform="translate(-13.3 -37.42) rotate(-90)">100</text><text transform="translate(-13.3 -74.83) rotate(-90)">200</text><text transform="translate(-13.3 -112.25) rotate(-90)">300</text><text transform="translate(-13.3 -149.67) rotate(-90)">400</text><text transform="translate(-13.3 -187.08) rotate(-90)">500</text><text transform="translate(-13.3 -224.5) rotate(-90)">600</text></g>
<text x="110.69" y="30.8" font-size="7.6" fill="#3a3a3a" text-anchor="middle">Propidium Iodide-A</text>
<text x="221.24" y="30.8" font-size="6.9" fill="#3a3a3a" text-anchor="end">(x 100)</text>
<text transform="translate(-24.5 -112.25) rotate(-90)" font-size="7.2" fill="#3a3a3a" text-anchor="middle">Number</text>
<path d="M71.89 1.2L75.49 7.6H68.29Z" fill="#000"/>
<rect x="176.6" y="-230.2" width="7.4" height="7.2" fill="#c3c3f8" stroke="#555" stroke-width="0.7"/>
<text x="188" y="-224.2" font-size="6.3" fill="#4848d8">Debris</text>
<rect x="176.6" y="-221.3" width="7.4" height="7.2" fill="#fb0207" stroke="#555" stroke-width="0.7"/>
<text x="188" y="-215.3" font-size="6.3" fill="#4848d8">G0G1</text>
<rect x="176.6" y="-212.4" width="7.4" height="7.2" fill="#fb0207" stroke="#555" stroke-width="0.7"/>
<text x="188" y="-206.4" font-size="6.3" fill="#4848d8">G2M</text>
<rect x="176.6" y="-203.5" width="7.4" height="7.2" fill="#fff"/>
<rect x="176.6" y="-203.5" width="7.4" height="7.2" fill="url(#hatchL)" stroke="#555" stroke-width="0.7"/>
<text x="188" y="-197.5" font-size="6.3" fill="#4848d8">S-Phase</text>
</g>
<g transform="translate(308.4 248.2) scale(0.94 0.95)">
<path d="M6.01 0 L6.01 -78.13 L6.59 -68.53 L7.16 -60.3 L7.73 -53.25 L8.31 -47.21 L8.88 -42.03 L9.45 -37.6 L10.02 -33.81 L10.6 -30.56 L11.17 -27.77 L11.74 -25.39 L12.32 -23.35 L12.89 -21.61 L13.46 -20.13 L14.03 -18.86 L14.61 -17.77 L15.18 -16.85 L15.75 -16.06 L16.32 -15.4 L16.9 -14.83 L17.47 -14.35 L18.04 -13.95 L18.62 -13.6 L19.19 -13.32 L19.76 -13.08 L20.33 -12.89 L20.91 -12.72 L21.48 -12.59 L22.05 -12.49 L22.63 -12.4 L23.2 -12.34 L23.77 -12.29 L24.34 -12.26 L24.92 -12.24 L25.49 -12.23 L26.06 -12.23 L26.64 -12.24 L27.21 -12.26 L27.78 -12.28 L28.35 -12.31 L28.93 -12.34 L29.5 -12.38 L30.07 -12.42 L30.64 -12.46 L31.22 -12.51 L31.79 -12.56 L32.36 -12.61 L32.94 -12.67 L33.51 -12.72 L34.08 -12.78 L34.65 -12.84 L35.23 -12.9 L35.8 -12.96 L36.37 -13.03 L36.95 -13.09 L37.52 -13.16 L38.09 -13.22 L38.66 -13.29 L39.24 -13.36 L39.81 -13.43 L40.38 -13.5 L40.96 -13.57 L41.53 -13.65 L42.1 -13.72 L42.67 -13.8 L43.25 -13.87 L43.82 -13.95 L44.39 -14.02 L44.96 -14.1 L45.54 -14.18 L46.11 -14.26 L46.68 -14.34 L47.26 -14.42 L47.83 -14.5 L48.4 -14.58 L48.97 -14.66 L49.55 -14.75 L50.12 -14.83 L50.69 -14.92 L51.27 -15 L51.84 -15.09 L52.41 -15.17 L52.98 -15.26 L53.56 -15.35 L54.13 -15.44 L54.7 -15.53 L55.28 -15.62 L55.85 -15.71 L56.42 -15.8 L56.99 -15.89 L57.57 -15.98 L58.14 -16.07 L58.71 -16.17 L59.28 -16.26 L59.86 -16.36 L60.43 -16.45 L61 -16.55 L61.58 -16.64 L62.15 -16.74 L62.72 -16.84 L63.29 -16.94 L63.87 -17.03 L64.44 -17.13 L65.01 -17.23 L65.59 -17.33 L66.16 -17.44 L66.73 -17.54 L67.3 -17.64 L67.88 -17.74 L68.45 -17.85 L69.02 -17.95 L69.6 -18.06 L70.17 -18.16 L70.74 -18.27 L71.31 -18.37 L71.89 -18.48 L72.46 -18.59 L73.03 -18.69 L73.6 -18.8 L74.18 -18.41 L74.75 -17.56 L75.32 -16.77 L75.9 -16.02 L76.47 -15.33 L77.04 -14.68 L77.61 -14.08 L78.19 -13.51 L78.76 -12.98 L79.33 -12.48 L79.91 -12.01 L80.48 -11.57 L81.05 -11.16 L81.62 -10.77 L82.2 -10.41 L82.77 -10.06 L83.34 -9.74 L83.92 -9.43 L84.49 -9.14 L85.06 -8.87 L85.63 -8.61 L86.21 -8.36 L86.78 -8.13 L87.35 -7.9 L87.92 -7.69 L88.5 -7.49 L89.07 -7.3 L89.64 -7.11 L90.22 -6.94 L90.79 -6.77 L91.36 -6.61 L91.93 -6.45 L92.51 -6.31 L93.08 -6.16 L93.65 -6.02 L94.23 -5.89 L94.8 -5.76 L95.37 -5.64 L95.94 -5.52 L96.52 -5.4 L97.09 -5.29 L97.66 -5.18 L98.24 -5.07 L98.81 -4.96 L99.38 -4.86 L99.95 -4.76 L100.53 -4.67 L101.1 -4.57 L101.67 -4.48 L102.24 -4.39 L102.82 -4.3 L103.39 -4.21 L103.96 -4.13 L104.54 -4.04 L105.11 -3.96 L105.68 -3.88 L106.25 -3.8 L106.83 -3.72 L107.4 -3.64 L107.97 -3.57 L108.55 -3.49 L109.12 -3.42 L109.69 -3.34 L110.26 -3.27 L110.84 -3.2 L111.41 -3.13 L111.98 -3.06 L112.56 -3 L113.13 -2.93 L113.7 -2.86 L114.27 -2.8 L114.85 -2.73 L115.42 -2.67 L115.99 -2.61 L116.56 -2.54 L117.14 -2.48 L117.71 -2.42 L118.28 -2.36 L118.86 -2.3 L119.43 -2.24 L120 -2.18 L120.57 -2.13 L121.15 -2.07 L121.72 -2.02 L122.29 -1.96 L122.87 -1.91 L123.44 -1.85 L124.01 -1.8 L124.58 -1.75 L125.16 -1.69 L125.73 -1.64 L126.3 -1.59 L126.88 -1.54 L127.45 -1.49 L128.02 -1.45 L128.59 -1.4 L129.17 -1.35 L129.74 -1.31 L130.31 -1.26 L130.88 -1.22 L131.46 -1.17 L132.03 -1.13 L132.6 -1.08 L133.18 -1.04 L133.75 -1 L134.32 -0.96 L134.89 -0.92 L135.47 -0.88 L136.04 -0.84 L136.61 -0.8 L137.19 -0.77 L137.76 -0.73 L138.33 -0.7 L138.9 -0.66 L139.48 -0.63 L140.05 -0.59 L140.62 -0.56 L141.2 -0.53 L141.77 -0.5 L142.34 -0.47 L142.91 -0.44 L143.49 -0.41 L144.06 -0.38 L144.63 -0.35 L145.2 -0.33 L145.78 -0.3 L146.35 -0.28 L146.92 -0.25 L147.5 -0.23 L148.07 -0.21 L148.64 -0.19 L149.21 -0.17 L149.79 -0.15 L150.36 -0.13 L150.93 -0.11 L151.51 -0.1 L152.08 -0.08 L152.65 -0.07 L153.22 -0.05 L153.8 -0.04 L154.37 -0.03 L154.94 -0.02 L155.52 -0.01 L156.09 -0.01 L156.66 -0 L157.23 -0 L157.52 0Z" fill="#bdbdf6" stroke="#333" stroke-width="0.55" stroke-linejoin="round"/>
<path d="M60.23 0 L60.23 -0.01 L60.8 -0.02 L61.38 -0.02 L61.95 -0.03 L62.52 -0.05 L63.09 -0.06 L63.67 -0.08 L64.24 -0.11 L64.81 -0.14 L65.39 -0.18 L65.96 -0.23 L66.53 -0.3 L67.1 -0.37 L67.68 -0.47 L68.25 -0.58 L68.82 -0.72 L69.39 -0.88 L69.97 -1.07 L70.54 -1.29 L71.11 -1.55 L71.69 -1.84 L72.26 -2.17 L72.83 -2.54 L73.4 -2.95 L73.98 -3.4 L74.55 -3.89 L75.12 -4.42 L75.7 -4.99 L76.27 -5.6 L76.84 -6.24 L77.41 -6.9 L77.99 -7.58 L78.56 -8.29 L79.13 -9 L79.71 -9.7 L80.28 -10.37 L80.85 -11.03 L81.42 -11.67 L82 -12.28 L82.57 -12.86 L83.14 -13.4 L83.71 -13.91 L84.29 -14.37 L84.86 -14.8 L85.43 -15.18 L86.01 -15.51 L86.58 -15.81 L87.15 -16.06 L87.72 -16.28 L88.3 -16.46 L88.87 -16.6 L89.44 -16.71 L90.02 -16.8 L90.59 -16.86 L91.16 -16.9 L91.73 -16.91 L92.31 -16.92 L92.88 -16.9 L93.45 -16.88 L94.03 -16.84 L94.6 -16.8 L95.17 -16.75 L95.74 -16.7 L96.32 -16.64 L96.89 -16.58 L97.46 -16.51 L98.03 -16.44 L98.61 -16.37 L99.18 -16.3 L99.75 -16.23 L100.33 -16.16 L100.9 -16.09 L101.47 -16.01 L102.04 -15.94 L102.62 -15.86 L103.19 -15.79 L103.76 -15.72 L104.34 -15.64 L104.91 -15.57 L105.48 -15.5 L106.05 -15.42 L106.63 -15.35 L107.2 -15.27 L107.77 -15.2 L108.35 -15.13 L108.92 -15.05 L109.49 -14.98 L110.06 -14.9 L110.64 -14.83 L111.21 -14.75 L111.78 -14.68 L112.35 -14.61 L112.93 -14.53 L113.5 -14.46 L114.07 -14.38 L114.65 -14.31 L115.22 -14.24 L115.79 -14.16 L116.36 -14.09 L116.94 -14.01 L117.51 -13.94 L118.08 -13.87 L118.66 -13.79 L119.23 -13.72 L119.8 -13.64 L120.37 -13.57 L120.95 -13.5 L121.52 -13.42 L122.09 -13.35 L122.67 -13.27 L123.24 -13.2 L123.81 -13.12 L124.38 -13.05 L124.96 -12.97 L125.53 -12.9 L126.1 -12.82 L126.67 -12.75 L127.25 -12.67 L127.82 -12.59 L128.39 -12.52 L128.97 -12.44 L129.54 -12.36 L130.11 -12.27 L130.68 -12.19 L131.26 -12.1 L131.83 -12.01 L132.4 -11.92 L132.98 -11.82 L133.55 -11.72 L134.12 -11.61 L134.69 -11.49 L135.27 -11.37 L135.84 -11.24 L136.41 -11.1 L136.99 -10.95 L137.56 -10.79 L138.13 -10.62 L138.7 -10.43 L139.28 -10.23 L139.85 -10.02 L140.42 -9.79 L140.99 -9.55 L141.57 -9.29 L142.14 -9.02 L142.71 -8.73 L143.29 -8.42 L143.86 -8.11 L144.43 -7.78 L145 -7.44 L145.58 -7.08 L146.15 -6.73 L146.72 -6.36 L147.3 -5.99 L147.87 -5.62 L148.44 -5.25 L149.01 -4.89 L149.59 -4.56 L150.16 -4.24 L150.73 -3.92 L151.31 -3.6 L151.88 -3.3 L152.45 -3 L153.02 -2.72 L153.6 -2.45 L154.17 -2.2 L154.74 -1.96 L155.31 -1.74 L155.89 -1.54 L156.46 -1.35 L157.03 -1.18 L157.61 -1.02 L158.18 -0.88 L158.75 -0.76 L159.32 -0.64 L159.9 -0.55 L160.47 -0.46 L161.04 -0.38 L161.62 -0.32 L162.19 -0.27 L162.76 -0.22 L163.33 -0.18 L163.91 -0.14 L164.48 -0.12 L165.05 -0.09 L165.63 -0.07 L166.2 -0.06 L166.77 -0.05 L167.34 -0.04 L167.92 -0.03 L168.49 -0.02 L169.06 -0.02 L169.63 -0.01 L170.21 -0.01 L170.78 -0.01 L170.92 0Z" fill="#fff" />
<path d="M60.23 0 L60.23 -0.01 L60.8 -0.02 L61.38 -0.02 L61.95 -0.03 L62.52 -0.05 L63.09 -0.06 L63.67 -0.08 L64.24 -0.11 L64.81 -0.14 L65.39 -0.18 L65.96 -0.23 L66.53 -0.3 L67.1 -0.37 L67.68 -0.47 L68.25 -0.58 L68.82 -0.72 L69.39 -0.88 L69.97 -1.07 L70.54 -1.29 L71.11 -1.55 L71.69 -1.84 L72.26 -2.17 L72.83 -2.54 L73.4 -2.95 L73.98 -3.4 L74.55 -3.89 L75.12 -4.42 L75.7 -4.99 L76.27 -5.6 L76.84 -6.24 L77.41 -6.9 L77.99 -7.58 L78.56 -8.29 L79.13 -9 L79.71 -9.7 L80.28 -10.37 L80.85 -11.03 L81.42 -11.67 L82 -12.28 L82.57 -12.86 L83.14 -13.4 L83.71 -13.91 L84.29 -14.37 L84.86 -14.8 L85.43 -15.18 L86.01 -15.51 L86.58 -15.81 L87.15 -16.06 L87.72 -16.28 L88.3 -16.46 L88.87 -16.6 L89.44 -16.71 L90.02 -16.8 L90.59 -16.86 L91.16 -16.9 L91.73 -16.91 L92.31 -16.92 L92.88 -16.9 L93.45 -16.88 L94.03 -16.84 L94.6 -16.8 L95.17 -16.75 L95.74 -16.7 L96.32 -16.64 L96.89 -16.58 L97.46 -16.51 L98.03 -16.44 L98.61 -16.37 L99.18 -16.3 L99.75 -16.23 L100.33 -16.16 L100.9 -16.09 L101.47 -16.01 L102.04 -15.94 L102.62 -15.86 L103.19 -15.79 L103.76 -15.72 L104.34 -15.64 L104.91 -15.57 L105.48 -15.5 L106.05 -15.42 L106.63 -15.35 L107.2 -15.27 L107.77 -15.2 L108.35 -15.13 L108.92 -15.05 L109.49 -14.98 L110.06 -14.9 L110.64 -14.83 L111.21 -14.75 L111.78 -14.68 L112.35 -14.61 L112.93 -14.53 L113.5 -14.46 L114.07 -14.38 L114.65 -14.31 L115.22 -14.24 L115.79 -14.16 L116.36 -14.09 L116.94 -14.01 L117.51 -13.94 L118.08 -13.87 L118.66 -13.79 L119.23 -13.72 L119.8 -13.64 L120.37 -13.57 L120.95 -13.5 L121.52 -13.42 L122.09 -13.35 L122.67 -13.27 L123.24 -13.2 L123.81 -13.12 L124.38 -13.05 L124.96 -12.97 L125.53 -12.9 L126.1 -12.82 L126.67 -12.75 L127.25 -12.67 L127.82 -12.59 L128.39 -12.52 L128.97 -12.44 L129.54 -12.36 L130.11 -12.27 L130.68 -12.19 L131.26 -12.1 L131.83 -12.01 L132.4 -11.92 L132.98 -11.82 L133.55 -11.72 L134.12 -11.61 L134.69 -11.49 L135.27 -11.37 L135.84 -11.24 L136.41 -11.1 L136.99 -10.95 L137.56 -10.79 L138.13 -10.62 L138.7 -10.43 L139.28 -10.23 L139.85 -10.02 L140.42 -9.79 L140.99 -9.55 L141.57 -9.29 L142.14 -9.02 L142.71 -8.73 L143.29 -8.42 L143.86 -8.11 L144.43 -7.78 L145 -7.44 L145.58 -7.08 L146.15 -6.73 L146.72 -6.36 L147.3 -5.99 L147.87 -5.62 L148.44 -5.25 L149.01 -4.89 L149.59 -4.56 L150.16 -4.24 L150.73 -3.92 L151.31 -3.6 L151.88 -3.3 L152.45 -3 L153.02 -2.72 L153.6 -2.45 L154.17 -2.2 L154.74 -1.96 L155.31 -1.74 L155.89 -1.54 L156.46 -1.35 L157.03 -1.18 L157.61 -1.02 L158.18 -0.88 L158.75 -0.76 L159.32 -0.64 L159.9 -0.55 L160.47 -0.46 L161.04 -0.38 L161.62 -0.32 L162.19 -0.27 L162.76 -0.22 L163.33 -0.18 L163.91 -0.14 L164.48 -0.12 L165.05 -0.09 L165.63 -0.07 L166.2 -0.06 L166.77 -0.05 L167.34 -0.04 L167.92 -0.03 L168.49 -0.02 L169.06 -0.02 L169.63 -0.01 L170.21 -0.01 L170.78 -0.01 L170.92 0Z" fill="url(#hatch)" stroke="#333" stroke-width="0.55" stroke-linejoin="round"/>
<path d="M83.92 0 L83.92 -9.43 L84.49 -9.14 L85.06 -8.87 L85.63 -8.61 L86.21 -8.36 L86.78 -8.13 L87.35 -7.9 L87.92 -7.69 L88.5 -7.49 L89.07 -7.3 L89.64 -7.11 L90.22 -6.94 L90.79 -6.77 L91.36 -6.61 L91.93 -6.45 L92.51 -6.31 L93.08 -6.16 L93.65 -6.02 L94.23 -5.89 L94.8 -5.76 L95.37 -5.64 L95.94 -5.52 L96.52 -5.4 L97.09 -5.29 L97.66 -5.18 L98.24 -5.07 L98.81 -4.96 L99.38 -4.86 L99.95 -4.76 L100.53 -4.67 L101.1 -4.57 L101.67 -4.48 L102.24 -4.39 L102.82 -4.3 L103.39 -4.21 L103.96 -4.13 L104.54 -4.04 L105.11 -3.96 L105.68 -3.88 L106.25 -3.8 L106.83 -3.72 L107.4 -3.64 L107.97 -3.57 L108.55 -3.49 L109.12 -3.42 L109.69 -3.34 L110.26 -3.27 L110.84 -3.2 L111.41 -3.13 L111.98 -3.06 L112.56 -3 L113.13 -2.93 L113.7 -2.86 L114.27 -2.8 L114.85 -2.73 L115.42 -2.67 L115.99 -2.61 L116.56 -2.54 L117.14 -2.48 L117.71 -2.42 L118.28 -2.36 L118.86 -2.3 L119.43 -2.24 L120 -2.18 L120.57 -2.13 L121.15 -2.07 L121.72 -2.02 L122.29 -1.96 L122.87 -1.91 L123.44 -1.85 L124.01 -1.8 L124.58 -1.75 L125.16 -1.69 L125.73 -1.64 L126.3 -1.59 L126.88 -1.54 L127.45 -1.49 L128.02 -1.45 L128.59 -1.4 L129.17 -1.35 L129.74 -1.31 L130.31 -1.26 L130.88 -1.22 L131.46 -1.17 L132.03 -1.13 L132.6 -1.08 L133.18 -1.04 L133.75 -1 L134.32 -0.96 L134.89 -0.92 L135.47 -0.88 L136.04 -0.84 L136.61 -0.8 L137.19 -0.77 L137.76 -0.73 L138.33 -0.7 L138.9 -0.66 L139.48 -0.63 L140.05 -0.59 L140.62 -0.56 L141.2 -0.53 L141.77 -0.5 L142.34 -0.47 L142.91 -0.44 L143.49 -0.41 L144.06 -0.38 L144.63 -0.35 L145.2 -0.33 L145.78 -0.3 L146.35 -0.28 L146.92 -0.25 L147.5 -0.23 L148.07 -0.21 L148.64 -0.19 L149.21 -0.17 L149.79 -0.15 L150.36 -0.13 L150.93 -0.11 L151.51 -0.1 L152.08 -0.08 L152.65 -0.07 L153.22 -0.05 L153.8 -0.04 L154.37 -0.03 L154.94 -0.02 L155.52 -0.01 L156.09 -0.01 L156.66 -0 L157.23 -0 L157.52 0Z" fill="#b4b4f4" opacity="0.75"/>
<path d="M63.58 0 L63.58 -0.53 L64.15 -0.83 L64.73 -1.27 L65.3 -1.91 L65.87 -2.82 L66.44 -4.09 L67.02 -5.84 L67.59 -8.19 L68.16 -11.27 L68.74 -15.25 L69.31 -20.27 L69.88 -26.46 L70.45 -33.94 L71.03 -42.77 L71.6 -52.94 L72.17 -64.37 L72.75 -76.9 L73.32 -90.24 L73.89 -104.03 L74.46 -117.82 L75.04 -131.08 L75.61 -143.26 L76.18 -153.82 L76.76 -162.25 L77.33 -168.12 L77.9 -171.14 L78.47 -171.14 L79.05 -168.12 L79.62 -162.25 L80.19 -153.82 L80.76 -143.26 L81.34 -131.08 L81.91 -117.82 L82.48 -104.03 L83.06 -90.24 L83.63 -76.9 L84.2 -64.37 L84.77 -52.94 L85.35 -42.77 L85.92 -33.94 L86.49 -26.46 L87.07 -20.27 L87.64 -15.25 L88.21 -11.27 L88.78 -8.19 L89.36 -5.84 L89.93 -4.09 L90.5 -2.82 L91.08 -1.91 L91.65 -1.27 L92.22 -0.83 L92.79 -0.53 L92.79 0Z" fill="#fb0207" stroke="#333" stroke-width="0.55" stroke-linejoin="round"/>
<path d="M119.72 0 L119.72 -0.09 L120.29 -0.12 L120.86 -0.14 L121.43 -0.17 L122.01 -0.21 L122.58 -0.26 L123.15 -0.31 L123.72 -0.37 L124.3 -0.45 L124.87 -0.54 L125.44 -0.63 L126.02 -0.75 L126.59 -0.88 L127.16 -1.03 L127.73 -1.2 L128.31 -1.4 L128.88 -1.61 L129.45 -1.86 L130.03 -2.13 L130.6 -2.42 L131.17 -2.75 L131.74 -3.11 L132.32 -3.5 L132.89 -3.92 L133.46 -4.37 L134.04 -4.85 L134.61 -5.36 L135.18 -5.9 L135.75 -6.46 L136.33 -7.05 L136.9 -7.65 L137.47 -8.27 L138.04 -8.9 L138.62 -9.53 L139.19 -10.17 L139.76 -10.79 L140.34 -11.41 L140.91 -12.01 L141.48 -12.58 L142.05 -13.13 L142.63 -13.63 L143.2 -14.09 L143.77 -14.51 L144.35 -14.87 L144.92 -15.17 L145.49 -15.4 L146.06 -15.58 L146.64 -15.68 L147.21 -15.71 L147.78 -15.68 L148.36 -15.58 L148.93 -15.4 L149.5 -15.17 L150.07 -14.87 L150.65 -14.51 L151.22 -14.09 L151.79 -13.63 L152.36 -13.13 L152.94 -12.58 L153.51 -12.01 L154.08 -11.41 L154.66 -10.79 L155.23 -10.17 L155.8 -9.53 L156.37 -8.9 L156.95 -8.27 L157.52 -7.65 L158.09 -7.05 L158.67 -6.46 L159.24 -5.9 L159.81 -5.36 L160.38 -4.85 L160.96 -4.37 L161.53 -3.92 L162.1 -3.5 L162.68 -3.11 L163.25 -2.75 L163.82 -2.42 L164.39 -2.13 L164.97 -1.86 L165.54 -1.61 L166.11 -1.4 L166.68 -1.2 L167.26 -1.03 L167.83 -0.88 L168.4 -0.75 L168.98 -0.63 L169.55 -0.54 L170.12 -0.45 L170.69 -0.37 L171.27 -0.31 L171.84 -0.26 L172.41 -0.21 L172.99 -0.17 L173.56 -0.14 L174.13 -0.12 L174.7 -0.09 L174.7 0Z" fill="#f4060c" stroke="#333" stroke-width="0.55" stroke-linejoin="round"/>
<path d="M57.82 0 L57.82 -0.12 L58.4 -0.18 L58.97 -0.27 L59.54 -0.4 L60.12 -0.56 L60.69 -0.79 L61.26 -1.09 L61.83 -1.48 L62.41 -1.97 L62.98 -2.59 L63.55 -3.34 L64.12 -4.23 L64.7 -5.28 L65.27 -6.48 L65.84 -7.82 L66.42 -9.29 L66.99 -10.84 L67.56 -12.45 L68.13 -14.05 L68.71 -15.61 L69.28 -17.05 L69.85 -18.31 L70.43 -19.35 L71 -20.1 L71.57 -20.54 L72.14 -20.65 L72.72 -20.41 L73.29 -19.84 L73.86 -18.97 L74.44 -17.83 L75.01 -16.49 L75.58 -15 L76.15 -13.41 L76.73 -11.8 L77.3 -10.21 L77.87 -8.69 L78.44 -7.27 L79.02 -5.98 L79.59 -4.84 L80.16 -3.85 L80.74 -3.02 L81.31 -2.32 L81.88 -1.76 L82.45 -1.31 L83.03 -0.96 L83.6 -0.69 L84.17 -0.49 L84.75 -0.34 L85.32 -0.23 L85.89 -0.16 L86.24 0Z" fill="#e8788c" fill-opacity="0.62" stroke="#333" stroke-width="0.55" stroke-linejoin="round"/>
<path d="M60.23 0 L60.23 -0.01 L60.8 -0.02 L61.38 -0.02 L61.95 -0.03 L62.52 -0.05 L63.09 -0.06 L63.67 -0.08 L64.24 -0.11 L64.81 -0.14 L65.39 -0.18 L65.96 -0.23 L66.53 -0.3 L67.1 -0.37 L67.68 -0.47 L68.25 -0.58 L68.82 -0.72 L69.39 -0.88 L69.97 -1.07 L70.54 -1.29 L71.11 -1.55 L71.69 -1.84 L72.26 -2.17 L72.83 -2.54 L73.4 -2.95 L73.98 -3.4 L74.55 -3.89 L75.12 -4.42 L75.7 -4.99 L76.27 -5.6 L76.84 -6.24 L77.41 -6.9 L77.99 -7.58 L78.56 -8.29 L79.13 -9 L79.71 -9.7 L80.28 -10.37 L80.85 -11.03 L81.42 -11.67 L82 -12.28 L82.57 -12.86 L83.14 -13.4 L83.71 -13.91 L84.29 -14.37 L84.86 -14.8 L85.43 -15.18 L86.01 -15.51 L86.58 -15.81 L87.15 -16.06 L87.72 -16.28 L88.3 -16.46 L88.87 -16.6 L89.44 -16.71 L90.02 -16.8 L90.59 -16.86 L91.16 -16.9 L91.73 -16.91 L92.31 -16.92 L92.88 -16.9 L93.22 0Z" fill="url(#hatch2)" opacity="0.8"/>
<path d="M119.72 0 L119.72 -13.66 L120.29 -13.58 L120.86 -13.51 L121.43 -13.43 L122.01 -13.36 L122.58 -13.28 L123.15 -13.21 L123.72 -13.14 L124.3 -13.06 L124.87 -12.99 L125.44 -12.91 L126.02 -12.83 L126.59 -12.76 L127.16 -12.68 L127.73 -12.61 L128.31 -12.53 L128.88 -12.45 L129.45 -12.37 L130.03 -12.29 L130.6 -12.2 L131.17 -12.11 L131.74 -12.02 L132.32 -11.93 L132.89 -11.83 L133.46 -11.73 L134.04 -11.63 L134.61 -11.51 L135.18 -11.39 L135.75 -11.26 L136.33 -11.12 L136.9 -10.98 L137.47 -10.82 L138.04 -10.65 L138.62 -10.46 L139.19 -10.27 L139.76 -10.05 L140.34 -9.83 L140.91 -9.59 L141.48 -9.33 L142.05 -9.06 L142.63 -8.77 L143.2 -8.47 L143.77 -8.16 L144.35 -7.83 L144.92 -7.49 L145.49 -7.14 L146.06 -6.78 L146.64 -6.42 L147.21 -6.05 L147.78 -5.68 L148.36 -5.31 L148.93 -4.94 L149.5 -4.61 L150.07 -4.29 L150.65 -3.96 L151.22 -3.65 L151.79 -3.34 L152.36 -3.05 L152.94 -2.76 L153.51 -2.49 L154.08 -2.24 L154.66 -2 L155.23 -1.77 L155.8 -1.57 L156.37 -1.38 L156.95 -1.2 L157.52 -1.04 L158.09 -0.9 L158.67 -0.77 L159.24 -0.66 L159.81 -0.56 L160.38 -0.47 L160.96 -0.4 L161.53 -0.33 L162.1 -0.27 L162.68 -0.22 L163.25 -0.18 L163.82 -0.15 L164.39 -0.12 L164.97 -0.1 L165.54 -0.08 L166.11 -0.06 L166.68 -0.05 L167.26 -0.04 L167.83 -0.03 L168.4 -0.02 L168.98 -0.02 L169.55 -0.01 L170.12 -0.01 L170.69 -0.01 L170.92 0Z" fill="url(#hatch2)" opacity="0.8"/>
<path d="M60.23 -0.01 L60.95 -0.02 L61.66 -0.03 L62.38 -0.04 L63.09 -0.06 L63.81 -0.09 L64.53 -0.12 L65.24 -0.17 L65.96 -0.23 L66.67 -0.31 L67.39 -0.42 L68.11 -0.55 L68.82 -0.72 L69.54 -0.93 L70.25 -1.18 L70.97 -1.48 L71.69 -1.84 L72.4 -2.26 L73.12 -2.74 L73.83 -3.28 L74.55 -3.89 L75.27 -4.56 L75.98 -5.29 L76.7 -6.07 L77.41 -6.9 L78.13 -7.76 L78.85 -8.64 L79.56 -9.53 L80.28 -10.37 L80.99 -11.19 L81.71 -11.97 L82.43 -12.71 L83.14 -13.4 L83.86 -14.03 L84.57 -14.59 L85.29 -15.09 L86.01 -15.51 L86.72 -15.88 L87.44 -16.17 L88.15 -16.41 L88.87 -16.6 L89.59 -16.74 L90.3 -16.83 L91.02 -16.89 L91.73 -16.91 L92.45 -16.91 L93.17 -16.89 L93.88 -16.85 L94.6 -16.8 L95.31 -16.74 L96.03 -16.67 L96.75 -16.59 L97.46 -16.51 L98.18 -16.42 L98.89 -16.34 L99.61 -16.25 L100.33 -16.16 L101.04 -16.07 L101.76 -15.98 L102.47 -15.88 L103.19 -15.79 L103.91 -15.7 L104.62 -15.61 L105.34 -15.51 L106.05 -15.42 L106.77 -15.33 L107.49 -15.24 L108.2 -15.14 L108.92 -15.05 L109.63 -14.96 L110.35 -14.87 L111.07 -14.77 L111.78 -14.68 L112.5 -14.59 L113.21 -14.5 L113.93 -14.4 L114.65 -14.31 L115.36 -14.22 L116.08 -14.13 L116.79 -14.03 L117.51 -13.94 L118.23 -13.85 L118.94 -13.76 L119.66 -13.66 L120.37 -13.57 L121.09 -13.48 L121.81 -13.38 L122.52 -13.29 L123.24 -13.2 L123.95 -13.11 L124.67 -13.01 L125.39 -12.92 L126.1 -12.82 L126.82 -12.73 L127.53 -12.63 L128.25 -12.54 L128.97 -12.44 L129.68 -12.33 L130.4 -12.23 L131.11 -12.12 L131.83 -12.01 L132.55 -11.89 L133.26 -11.77 L133.98 -11.64 L134.69 -11.49 L135.41 -11.34 L136.13 -11.17 L136.84 -10.99 L137.56 -10.79 L138.27 -10.57 L138.99 -10.34 L139.71 -10.08 L140.42 -9.79 L141.14 -9.49 L141.85 -9.16 L142.57 -8.8 L143.29 -8.42 L144 -8.03 L144.72 -7.61 L145.43 -7.17 L146.15 -6.73 L146.87 -6.27 L147.58 -5.81 L148.3 -5.34 L149.01 -4.89 L149.73 -4.48 L150.45 -4.08 L151.16 -3.68 L151.88 -3.3 L152.59 -2.93 L153.31 -2.59 L154.03 -2.26 L154.74 -1.96 L155.46 -1.69 L156.17 -1.44 L156.89 -1.22 L157.61 -1.02 L158.32 -0.85 L159.04 -0.7 L159.75 -0.57 L160.47 -0.46 L161.19 -0.37 L161.9 -0.29 L162.62 -0.23 L163.33 -0.18 L164.05 -0.14 L164.77 -0.1 L165.48 -0.08 L166.2 -0.06 L166.91 -0.04 L167.63 -0.03 L168.35 -0.02 L169.06 -0.02 L169.78 -0.01 L170.49 -0.01" fill="none" stroke="#3a1030" stroke-width="0.45" opacity="0.85"/>
<path d="M6.01 -78.13 L6.87 -64.25 L7.73 -53.25 L8.59 -44.52 L9.45 -37.6 L10.31 -32.12 L11.17 -27.77 L12.03 -24.33 L12.89 -21.61 L13.75 -19.47 L14.61 -17.77 L15.47 -16.44 L16.32 -15.4 L17.18 -14.58 L18.04 -13.95 L18.9 -13.46 L19.76 -13.08 L20.62 -12.8 L21.48 -12.59 L22.34 -12.44 L23.2 -12.34 L24.06 -12.28 L24.92 -12.24 L25.78 -12.23 L26.64 -12.24 L27.49 -12.27 L28.35 -12.31 L29.21 -12.36 L30.07 -12.42 L30.93 -12.49 L31.79 -12.56 L32.65 -12.64 L33.51 -12.72 L34.37 -12.81 L35.23 -12.9 L36.09 -12.99 L36.95 -13.09 L37.8 -13.19 L38.66 -13.29 L39.52 -13.4 L40.38 -13.5 L41.24 -13.61 L42.1 -13.72 L42.96 -13.83 L43.82 -13.95 L44.68 -14.06 L45.54 -14.18 L46.4 -14.3 L47.26 -14.42 L48.12 -14.54 L48.97 -14.66 L49.83 -14.79 L50.69 -14.92 L51.55 -15.04 L52.41 -15.17 L53.27 -15.31 L54.13 -15.44 L54.99 -15.58 L55.85 -15.73 L56.71 -15.9 L57.57 -16.09 L58.43 -16.32 L59.28 -16.61 L60.14 -17.01 L61 -17.57 L61.86 -18.35 L62.29 -18.85 L62.72 -19.44 L63.15 -20.14 L63.58 -20.97 L64.01 -21.94 L64.44 -23.07 L64.87 -24.38 L65.3 -25.91 L65.73 -27.67 L66.16 -29.7 L66.59 -32.04 L67.02 -34.71 L67.45 -37.75 L67.88 -41.21 L68.31 -45.13 L68.74 -49.53 L69.17 -54.47 L69.6 -59.98 L70.02 -66.09 L70.45 -72.81 L70.88 -80.15 L71.31 -88.1 L71.74 -96.62 L72.17 -105.67 L72.6 -115.16 L73.03 -124.99 L73.46 -135.04 L73.89 -145.13 L74.32 -154.36 L74.75 -163.3 L75.18 -171.74 L75.61 -179.48 L76.04 -186.3 L76.47 -192.01 L76.9 -196.43 L77.33 -199.43 L77.76 -200.89 L78.19 -200.75 L78.62 -199 L79.05 -195.66 L79.48 -190.82 L79.91 -184.56 L80.34 -177.07 L80.76 -168.54 L81.19 -159.17 L81.62 -149.2 L82.05 -138.84 L82.48 -128.32 L82.91 -117.85 L83.34 -107.61 L83.77 -97.76 L84.2 -88.44 L84.63 -79.75 L85.06 -71.77 L85.49 -64.53 L85.92 -58.05 L86.35 -52.32 L86.78 -47.32 L87.21 -43.01 L87.64 -39.34 L88.07 -36.24 L88.5 -33.65 L88.93 -31.51 L89.36 -29.75 L89.79 -28.32 L90.22 -27.17 L90.65 -26.24 L91.08 -25.49 L91.5 -24.89 L91.93 -24.4 L92.36 -24 L92.79 -23.67 L93.22 -23.39 L93.65 -23.16 L94.08 -22.95 L94.51 -22.76 L94.94 -22.59 L95.37 -22.43 L96.23 -22.13 L97.09 -21.85 L97.95 -21.58 L98.81 -21.31 L99.67 -21.05 L100.53 -20.8 L101.39 -20.55 L102.24 -20.3 L103.1 -20.06 L103.96 -19.82 L104.82 -19.58 L105.68 -19.35 L106.54 -19.12 L107.4 -18.89 L108.26 -18.67 L109.12 -18.44 L109.98 -18.22 L110.84 -18.01 L111.7 -17.79 L112.56 -17.58 L113.41 -17.37 L114.27 -17.17 L115.13 -16.96 L115.99 -16.76 L116.85 -16.57 L117.71 -16.38 L118.57 -16.19 L119.43 -16.02 L120.29 -15.85 L121.15 -15.7 L122.01 -15.56 L122.87 -15.44 L123.72 -15.34 L124.58 -15.26 L125.44 -15.21 L126.3 -15.2 L127.16 -15.23 L128.02 -15.31 L128.88 -15.44 L129.74 -15.62 L130.6 -15.86 L131.46 -16.17 L132.32 -16.54 L133.18 -16.97 L134.04 -17.46 L134.89 -18 L135.75 -18.58 L136.61 -19.2 L137.47 -19.83 L138.33 -20.47 L139.19 -21.07 L140.05 -21.64 L140.91 -22.14 L141.77 -22.55 L142.63 -22.86 L143.49 -23.03 L144.35 -23.06 L145.2 -22.93 L146.06 -22.65 L146.92 -22.19 L147.78 -21.58 L148.64 -20.81 L149.5 -19.93 L150.36 -18.95 L151.22 -17.85 L152.08 -16.66 L152.94 -15.41 L153.8 -14.12 L154.66 -12.82 L155.52 -11.53 L156.37 -10.28 L157.23 -9.08 L158.09 -7.95 L158.95 -6.89 L159.81 -5.92 L160.67 -5.04 L161.53 -4.25 L162.39 -3.55 L163.25 -2.94 L164.11 -2.41 L164.97 -1.95 L165.83 -1.57 L166.68 -1.25 L167.54 -0.99 L168.4 -0.77 L169.26 -0.6 L170.12 -0.46 L170.98 -0.35 L171.84 -0.26 L172.7 -0.2 L173.56 -0.14 L174.42 -0.11 L175.28 -0.08 L176.14 -0.05 L177 -0.04 L177.85 -0.03 L178.71 -0.02 L179.57 -0.01 L180.43 -0.01 L181.29 -0.01 L182.15 -0 L183.01 -0 L183.87 -0 L184.73 -0 L185.59 -0" fill="none" stroke="#222" stroke-width="0.6" stroke-linejoin="round"/>
<path d="M0 -5.39 L0.29 -10.6 L0.57 -15.69 L0.86 -21.02 L1.15 -26.94 L1.43 -34.01 L1.72 -41.88 L2 -49.58 L2.29 -56.12 L2.58 -61.09 L2.86 -64.6 L3.15 -66.45 L3.44 -65.69 L3.72 -63.28 L4.01 -61.96 L4.3 -62.97 L4.58 -65.07 L4.87 -67.35 L5.16 -69.52 L5.44 -71.84 L5.73 -74.16 L6.01 -76.33 L6.3 -78.72 L6.59 -80.94 L6.87 -81.72 L7.16 -80.31 L7.45 -77.46 L7.73 -74.09 L8.02 -70.49 L8.31 -66.52 L8.59 -62.41 L8.88 -58.37 L9.31 -51.83 L9.74 -46.27 L10.17 -41.53 L10.6 -37.49 L11.03 -34.02 L11.46 -31.05 L11.89 -28.5 L12.32 -26.3 L12.74 -24.4 L13.17 -22.76 L13.6 -21.34 L14.03 -20.1 L14.46 -19.04 L14.89 -18.11 L15.32 -17.3 L15.75 -16.59 L16.18 -15.98 L16.61 -15.45 L17.04 -14.98 L17.47 -14.57 L17.9 -14.22 L18.33 -13.91 L18.76 -13.41 L19.76 -12.91 L20.76 -12.57 L21.77 -13.4 L22.77 -12.66 L23.77 -12.46 L24.77 -12.6 L25.78 -13.25 L26.78 -12.45 L27.78 -12.06 L28.78 -13.38 L29.79 -12.06 L30.79 -12.21 L31.79 -12.78 L32.79 -13.74 L33.8 -12.65 L34.8 -11.73 L35.8 -12.92 L36.8 -12.83 L37.8 -12.94 L38.81 -13.44 L39.81 -13.57 L40.81 -13.73 L41.81 -13.54 L42.82 -14.35 L43.82 -14.78 L44.82 -14.35 L45.82 -14.1 L46.83 -14.65 L47.83 -14.8 L48.83 -14.27 L49.83 -14.47 L50.84 -15.31 L51.84 -15.16 L52.84 -15.11 L53.84 -15.45 L54.85 -15.56 L55.85 -15.73 L56.85 -15.06 L57.85 -16.68 L58.86 -16.7 L59.86 -16.55 L60.86 -17.81 L61.86 -18.59 L62.86 -19.74 L63.87 -22.09 L64.87 -25.54 L65.87 -28.92 L66.87 -34.67 L67.88 -41.48 L68.23 -44.52 L68.59 -48.03 L68.95 -51.94 L69.31 -56.25 L69.67 -60.96 L70.02 -66.09 L70.38 -71.65 L70.74 -77.64 L71.1 -84.05 L71.46 -90.88 L71.81 -98.11 L72.17 -105.71 L72.53 -113.63 L72.89 -121.82 L73.25 -130.24 L73.6 -138.81 L73.96 -147.35 L74.32 -155.4 L74.68 -163.41 L75.04 -171.27 L75.39 -178.9 L75.75 -186.17 L76.11 -192.93 L76.47 -199.02 L76.83 -204.26 L77.18 -208.45 L77.54 -211.41 L77.9 -212.97 L78.26 -213.01 L78.62 -211.49 L78.97 -208.4 L79.33 -203.85 L79.69 -197.97 L80.05 -190.95 L80.41 -183.02 L80.76 -174.42 L81.12 -165.36 L81.48 -156.03 L81.84 -146.61 L82.2 -137.25 L82.55 -128.1 L82.91 -119.27 L83.27 -110.88 L83.63 -103.01 L83.99 -95.71 L84.34 -88.99 L84.7 -82.8 L85.06 -77.04 L85.42 -71.6 L85.78 -66.38 L86.13 -61.31 L86.49 -56.38 L86.85 -51.65 L87.21 -47.21 L87.57 -43.15 L87.92 -39.57 L88.28 -36.5 L88.64 -33.92 L89 -32.66 L90 -27.8 L91 -26.6 L92.01 -21.64 L93.01 -26.56 L94.01 -26.56 L95.01 -23.54 L96.02 -21.5 L97.02 -22.14 L98.02 -23.2 L99.02 -22.9 L100.03 -22.56 L101.03 -18.42 L102.03 -18.34 L103.03 -22.11 L104.03 -21.27 L105.04 -17.97 L106.04 -17.86 L107.04 -16.87 L108.04 -19.06 L109.05 -24.15 L110.05 -19.82 L111.05 -20.48 L112.05 -19.23 L113.06 -15.93 L114.06 -16.17 L115.06 -20.89 L116.06 -17.14 L117.07 -15.39 L118.07 -18.47 L119.07 -17.38 L120.07 -16.76 L121.08 -18.89 L122.08 -14.12 L123.08 -16.21 L124.08 -14.38 L125.09 -13.25 L126.09 -13.93 L127.09 -17.47 L128.09 -16.57 L129.09 -13.73 L130.1 -14.38 L131.1 -19.29 L132.1 -20.39 L133.1 -17.76 L134.11 -23.35 L135.11 -21.06 L136.11 -19.66 L137.11 -21.65 L138.12 -24.67 L139.12 -27.4 L140.12 -29.14 L141.12 -32.11 L142.13 -35.01 L143.13 -29.18 L144.13 -26.52 L145.13 -24.86 L146.14 -25.61 L147.14 -23.3 L148.14 -24.91 L149.14 -24.7 L150.15 -20.95 L151.15 -17.51 L152.15 -15.71 L153.15 -13.82 L154.15 -14.98 L155.16 -13.41 L156.16 -9.5 L157.16 -10.33 L158.16 -9.26 L159.17 -10.03 L160.17 -6.77 L161.17 -5.1 L162.17 -3.23 L163.18 -2.69 L164.18 -2.45 L165.18 -1.94 L166.18 -1.38 L167.19 -1.26 L168.19 -0.9 L169.19 -0.72 L170.19 -0.18 L171.2 -0.31 L172.2 0 L173.2 0 L174.2 -0.06 L175.21 -0.74 L176.21 -0.57 L177.21 -0.19 L178.21 -0.01 L179.21 -0.33 L180.22 -0.55 L181.22 -0.56 L182.22 -0.11 L183.22 -0.09 L184.23 0 L185.23 0 L186.23 0 L187.23 0 L188.24 0 L189.24 0 L190.24 0 L191.24 0 L192.25 -0.08 L193.25 0 L194.25 0 L195.25 -0.06 L196.26 0 L197.26 0 L198.26 -0.7 L199.26 0 L200.27 0 L201.27 0 L202.27 0 L203.27 0 L204.27 -0.31 L205.28 -0.35 L206.28 0 L207.28 0 L208.28 0 L209.29 0 L210.29 0 L211.29 -0.11 L212.29 -0.07 L213.3 -0.28 L214.3 -0.39 L215.3 -0.06 L216.3 -0.69 L217.31 -0.04 L218.31 0 L219.31 0 L220.31 -0.31" fill="none" stroke="#1a1a1a" stroke-width="0.65" stroke-linejoin="round"/>
<g stroke="#2e2e2e" stroke-width="1" fill="none"><path d="M-9 0H221.24"/><path d="M0 0V-224.5"/><path d="M-9 0H0M-5.3 -8.98H0M-5.3 -17.96H0M-5.3 -26.94H0M-5.3 -35.92H0M-9 -44.9H0M-5.3 -53.88H0M-5.3 -62.86H0M-5.3 -71.84H0M-5.3 -80.82H0M-9 -89.8H0M-5.3 -98.78H0M-5.3 -107.76H0M-5.3 -116.74H0M-5.3 -125.72H0M-9 -134.7H0M-5.3 -143.68H0M-5.3 -152.66H0M-5.3 -161.64H0M-5.3 -170.62H0M-9 -179.6H0M-5.3 -188.58H0M-5.3 -197.56H0M-5.3 -206.54H0M-5.3 -215.52H0M-9 -224.5H0"/><path d="M0 0V8.7M7.16 0V5.2M14.32 0V5.2M21.48 0V5.2M28.64 0V8.7M35.8 0V5.2M42.96 0V5.2M50.12 0V5.2M57.28 0V8.7M64.44 0V5.2M71.6 0V5.2M78.76 0V5.2M85.92 0V8.7M93.08 0V5.2M100.24 0V5.2M107.4 0V5.2M114.56 0V8.7M121.72 0V5.2M128.88 0V5.2M136.04 0V5.2M143.2 0V8.7M150.36 0V5.2M157.52 0V5.2M164.68 0V5.2M171.84 0V8.7M179 0V5.2M186.16 0V5.2M193.32 0V5.2M200.48 0V8.7M207.64 0V5.2M214.8 0V5.2"/></g>
<g font-size="6.9" fill="#333" text-anchor="middle"><text x="0" y="19">0</text><text x="28.64" y="19">200</text><text x="57.28" y="19">400</text><text x="85.92" y="19">600</text><text x="114.56" y="19">800</text><text x="143.2" y="19">1000</text><text x="171.84" y="19">1200</text><text x="200.48" y="19">1400</text><text transform="translate(-13.3 0) rotate(-90)">0</text><text transform="translate(-13.3 -44.9) rotate(-90)">100</text><text transform="translate(-13.3 -89.8) rotate(-90)">200</text><text transform="translate(-13.3 -134.7) rotate(-90)">300</text><text transform="translate(-13.3 -179.6) rotate(-90)">400</text><text transform="translate(-13.3 -224.5) rotate(-90)">500</text></g>
<text x="110.69" y="30.8" font-size="7.6" fill="#3a3a3a" text-anchor="middle">Propidium Iodide-A</text>
<text x="221.24" y="30.8" font-size="6.9" fill="#3a3a3a" text-anchor="end">(x 100)</text>
<text transform="translate(-24.5 -112.25) rotate(-90)" font-size="7.2" fill="#3a3a3a" text-anchor="middle">Number</text>
<path d="M78.19 1.2L81.79 7.6H74.59Z" fill="#000"/>
<path d="M142.48 1.2L146.08 7.6H138.88Z" fill="#000"/>
<rect x="176.6" y="-230.2" width="7.4" height="7.2" fill="#c3c3f8" stroke="#555" stroke-width="0.7"/>
<text x="188" y="-224.2" font-size="6.3" fill="#4848d8">Debris</text>
<rect x="176.6" y="-221.3" width="7.4" height="7.2" fill="#fb0207" stroke="#555" stroke-width="0.7"/>
<text x="188" y="-215.3" font-size="6.3" fill="#4848d8">G0G1</text>
<rect x="176.6" y="-212.4" width="7.4" height="7.2" fill="#fb0207" stroke="#555" stroke-width="0.7"/>
<text x="188" y="-206.4" font-size="6.3" fill="#4848d8">G2M</text>
<rect x="176.6" y="-203.5" width="7.4" height="7.2" fill="#fff"/>
<rect x="176.6" y="-203.5" width="7.4" height="7.2" fill="url(#hatchL)" stroke="#555" stroke-width="0.7"/>
<text x="188" y="-197.5" font-size="6.3" fill="#4848d8">S-Phase</text>
</g>
<g transform="translate(589.7 252.1) scale(0.97 0.97)">
<path d="M6.01 0 L6.01 -71.39 L6.59 -63.83 L7.16 -57.21 L7.73 -51.42 L8.31 -46.36 L8.88 -41.93 L9.45 -38.06 L10.02 -34.67 L10.6 -31.71 L11.17 -29.12 L11.74 -26.86 L12.32 -24.88 L12.89 -23.16 L13.46 -21.65 L14.03 -20.33 L14.61 -19.18 L15.18 -18.18 L15.75 -17.31 L16.32 -16.55 L16.9 -15.89 L17.47 -15.31 L18.04 -14.81 L18.62 -14.38 L19.19 -14.01 L19.76 -13.68 L20.33 -13.4 L20.91 -13.16 L21.48 -12.96 L22.05 -12.78 L22.63 -12.63 L23.2 -12.51 L23.77 -12.4 L24.34 -12.32 L24.92 -12.25 L25.49 -12.19 L26.06 -12.14 L26.64 -12.11 L27.21 -12.08 L27.78 -12.07 L28.35 -12.06 L28.93 -12.06 L29.5 -12.06 L30.07 -12.07 L30.64 -12.08 L31.22 -12.1 L31.79 -12.12 L32.36 -12.14 L32.94 -12.17 L33.51 -12.2 L34.08 -12.23 L34.65 -12.26 L35.23 -12.3 L35.8 -12.34 L36.37 -12.38 L36.95 -12.42 L37.52 -12.46 L38.09 -12.5 L38.66 -12.55 L39.24 -12.59 L39.81 -12.64 L40.38 -12.69 L40.96 -12.73 L41.53 -12.78 L42.1 -12.83 L42.67 -12.88 L43.25 -12.93 L43.82 -12.99 L44.39 -13.04 L44.96 -13.09 L45.54 -13.15 L46.11 -13.2 L46.68 -13.25 L47.26 -13.31 L47.83 -13.37 L48.4 -13.42 L48.97 -13.48 L49.55 -13.54 L50.12 -13.59 L50.69 -13.65 L51.27 -13.71 L51.84 -13.77 L52.41 -13.83 L52.98 -13.89 L53.56 -13.95 L54.13 -14.01 L54.7 -14.08 L55.28 -14.14 L55.85 -14.2 L56.42 -14.26 L56.99 -14.33 L57.57 -14.39 L58.14 -14.46 L58.71 -14.52 L59.28 -14.59 L59.86 -14.65 L60.43 -14.72 L61 -14.78 L61.58 -14.85 L62.15 -14.92 L62.72 -14.99 L63.29 -15.05 L63.87 -15.12 L64.44 -15.19 L65.01 -15.26 L65.59 -15.33 L66.16 -15.4 L66.73 -15.47 L67.3 -15.54 L67.88 -15.62 L68.45 -15.69 L69.02 -15.76 L69.6 -15.83 L70.17 -15.91 L70.74 -15.98 L71.31 -16.05 L71.89 -16.13 L72.46 -15.78 L73.03 -15.06 L73.6 -14.38 L74.18 -13.75 L74.75 -13.16 L75.32 -12.6 L75.9 -12.09 L76.47 -11.6 L77.04 -11.15 L77.61 -10.72 L78.19 -10.32 L78.76 -9.95 L79.33 -9.6 L79.91 -9.26 L80.48 -8.95 L81.05 -8.66 L81.62 -8.38 L82.2 -8.12 L82.77 -7.87 L83.34 -7.64 L83.92 -7.42 L84.49 -7.21 L85.06 -7.01 L85.63 -6.82 L86.21 -6.64 L86.78 -6.47 L87.35 -6.3 L87.92 -6.15 L88.5 -6 L89.07 -5.85 L89.64 -5.72 L90.22 -5.58 L90.79 -5.46 L91.36 -5.34 L91.93 -5.22 L92.51 -5.1 L93.08 -5 L93.65 -4.89 L94.23 -4.79 L94.8 -4.69 L95.37 -4.59 L95.94 -4.5 L96.52 -4.41 L97.09 -4.32 L97.66 -4.23 L98.24 -4.15 L98.81 -4.06 L99.38 -3.98 L99.95 -3.9 L100.53 -3.83 L101.1 -3.75 L101.67 -3.68 L102.24 -3.6 L102.82 -3.53 L103.39 -3.46 L103.96 -3.39 L104.54 -3.33 L105.11 -3.26 L105.68 -3.19 L106.25 -3.13 L106.83 -3.07 L107.4 -3 L107.97 -2.94 L108.55 -2.88 L109.12 -2.82 L109.69 -2.76 L110.26 -2.7 L110.84 -2.64 L111.41 -2.59 L111.98 -2.53 L112.56 -2.47 L113.13 -2.42 L113.7 -2.36 L114.27 -2.31 L114.85 -2.26 L115.42 -2.21 L115.99 -2.15 L116.56 -2.1 L117.14 -2.05 L117.71 -2 L118.28 -1.95 L118.86 -1.9 L119.43 -1.85 L120 -1.81 L120.57 -1.76 L121.15 -1.71 L121.72 -1.67 L122.29 -1.62 L122.87 -1.58 L123.44 -1.53 L124.01 -1.49 L124.58 -1.45 L125.16 -1.4 L125.73 -1.36 L126.3 -1.32 L126.88 -1.28 L127.45 -1.24 L128.02 -1.2 L128.59 -1.16 L129.17 -1.12 L129.74 -1.08 L130.31 -1.04 L130.88 -1.01 L131.46 -0.97 L132.03 -0.93 L132.6 -0.9 L133.18 -0.86 L133.75 -0.83 L134.32 -0.8 L134.89 -0.76 L135.47 -0.73 L136.04 -0.7 L136.61 -0.67 L137.19 -0.64 L137.76 -0.61 L138.33 -0.58 L138.9 -0.55 L139.48 -0.52 L140.05 -0.49 L140.62 -0.46 L141.2 -0.44 L141.77 -0.41 L142.34 -0.39 L142.91 -0.36 L143.49 -0.34 L144.06 -0.31 L144.63 -0.29 L145.2 -0.27 L145.78 -0.25 L146.35 -0.23 L146.92 -0.21 L147.5 -0.19 L148.07 -0.17 L148.64 -0.16 L149.21 -0.14 L149.79 -0.12 L150.36 -0.11 L150.93 -0.09 L151.51 -0.08 L152.08 -0.07 L152.65 -0.06 L153.22 -0.05 L153.8 -0.04 L154.37 -0.03 L154.94 -0.02 L155.52 -0.01 L156.09 -0.01 L156.66 -0 L157.23 -0 L157.52 0Z" fill="#bdbdf6" stroke="#333" stroke-width="0.55" stroke-linejoin="round"/>
<path d="M59 0 L59 -0.01 L59.57 -0.02 L60.14 -0.02 L60.72 -0.03 L61.29 -0.04 L61.86 -0.06 L62.44 -0.08 L63.01 -0.11 L63.58 -0.14 L64.15 -0.19 L64.73 -0.24 L65.3 -0.31 L65.87 -0.4 L66.44 -0.5 L67.02 -0.63 L67.59 -0.78 L68.16 -0.96 L68.74 -1.17 L69.31 -1.41 L69.88 -1.69 L70.45 -2.01 L71.03 -2.38 L71.6 -2.78 L72.17 -3.22 L72.75 -3.71 L73.32 -4.24 L73.89 -4.8 L74.46 -5.4 L75.04 -6.03 L75.61 -6.69 L76.18 -7.37 L76.76 -8.06 L77.33 -8.76 L77.9 -9.43 L78.47 -10.09 L79.05 -10.74 L79.62 -11.36 L80.19 -11.95 L80.76 -12.51 L81.34 -13.04 L81.91 -13.52 L82.48 -13.96 L83.06 -14.36 L83.63 -14.71 L84.2 -15.02 L84.77 -15.29 L85.35 -15.52 L85.92 -15.71 L86.49 -15.87 L87.07 -16 L87.64 -16.1 L88.21 -16.18 L88.78 -16.24 L89.36 -16.27 L89.93 -16.29 L90.5 -16.3 L91.08 -16.3 L91.65 -16.29 L92.22 -16.27 L92.79 -16.24 L93.37 -16.21 L93.94 -16.18 L94.51 -16.14 L95.08 -16.1 L95.66 -16.06 L96.23 -16.02 L96.8 -15.98 L97.38 -15.94 L97.95 -15.89 L98.52 -15.85 L99.09 -15.8 L99.67 -15.76 L100.24 -15.71 L100.81 -15.67 L101.39 -15.62 L101.96 -15.58 L102.53 -15.54 L103.1 -15.49 L103.68 -15.45 L104.25 -15.4 L104.82 -15.36 L105.4 -15.31 L105.97 -15.27 L106.54 -15.22 L107.11 -15.18 L107.69 -15.13 L108.26 -15.09 L108.83 -15.04 L109.4 -15 L109.98 -14.95 L110.55 -14.91 L111.12 -14.86 L111.7 -14.82 L112.27 -14.77 L112.84 -14.73 L113.41 -14.68 L113.99 -14.64 L114.56 -14.59 L115.13 -14.55 L115.71 -14.5 L116.28 -14.46 L116.85 -14.41 L117.42 -14.37 L118 -14.32 L118.57 -14.28 L119.14 -14.23 L119.72 -14.19 L120.29 -14.14 L120.86 -14.1 L121.43 -14.05 L122.01 -14.01 L122.58 -13.96 L123.15 -13.91 L123.72 -13.87 L124.3 -13.82 L124.87 -13.77 L125.44 -13.72 L126.02 -13.67 L126.59 -13.62 L127.16 -13.56 L127.73 -13.51 L128.31 -13.45 L128.88 -13.39 L129.45 -13.32 L130.03 -13.25 L130.6 -13.17 L131.17 -13.09 L131.74 -13 L132.32 -12.9 L132.89 -12.79 L133.46 -12.67 L134.04 -12.54 L134.61 -12.4 L135.18 -12.24 L135.75 -12.07 L136.33 -11.88 L136.9 -11.67 L137.47 -11.44 L138.04 -11.2 L138.62 -10.94 L139.19 -10.65 L139.76 -10.35 L140.34 -10.03 L140.91 -9.69 L141.48 -9.33 L142.05 -8.96 L142.63 -8.57 L143.2 -8.17 L143.77 -7.76 L144.35 -7.34 L144.92 -6.91 L145.49 -6.49 L146.06 -6.06 L146.64 -5.66 L147.21 -5.26 L147.78 -4.86 L148.36 -4.48 L148.93 -4.1 L149.5 -3.74 L150.07 -3.39 L150.65 -3.06 L151.22 -2.75 L151.79 -2.45 L152.36 -2.18 L152.94 -1.92 L153.51 -1.69 L154.08 -1.47 L154.66 -1.28 L155.23 -1.11 L155.8 -0.95 L156.37 -0.81 L156.95 -0.69 L157.52 -0.58 L158.09 -0.49 L158.67 -0.4 L159.24 -0.33 L159.81 -0.28 L160.38 -0.23 L160.96 -0.18 L161.53 -0.15 L162.1 -0.12 L162.68 -0.09 L163.25 -0.08 L163.82 -0.06 L164.39 -0.05 L164.97 -0.04 L165.54 -0.03 L166.11 -0.02 L166.68 -0.02 L167.26 -0.01 L167.83 -0.01 L168.06 0Z" fill="#fff" />
<path d="M59 0 L59 -0.01 L59.57 -0.02 L60.14 -0.02 L60.72 -0.03 L61.29 -0.04 L61.86 -0.06 L62.44 -0.08 L63.01 -0.11 L63.58 -0.14 L64.15 -0.19 L64.73 -0.24 L65.3 -0.31 L65.87 -0.4 L66.44 -0.5 L67.02 -0.63 L67.59 -0.78 L68.16 -0.96 L68.74 -1.17 L69.31 -1.41 L69.88 -1.69 L70.45 -2.01 L71.03 -2.38 L71.6 -2.78 L72.17 -3.22 L72.75 -3.71 L73.32 -4.24 L73.89 -4.8 L74.46 -5.4 L75.04 -6.03 L75.61 -6.69 L76.18 -7.37 L76.76 -8.06 L77.33 -8.76 L77.9 -9.43 L78.47 -10.09 L79.05 -10.74 L79.62 -11.36 L80.19 -11.95 L80.76 -12.51 L81.34 -13.04 L81.91 -13.52 L82.48 -13.96 L83.06 -14.36 L83.63 -14.71 L84.2 -15.02 L84.77 -15.29 L85.35 -15.52 L85.92 -15.71 L86.49 -15.87 L87.07 -16 L87.64 -16.1 L88.21 -16.18 L88.78 -16.24 L89.36 -16.27 L89.93 -16.29 L90.5 -16.3 L91.08 -16.3 L91.65 -16.29 L92.22 -16.27 L92.79 -16.24 L93.37 -16.21 L93.94 -16.18 L94.51 -16.14 L95.08 -16.1 L95.66 -16.06 L96.23 -16.02 L96.8 -15.98 L97.38 -15.94 L97.95 -15.89 L98.52 -15.85 L99.09 -15.8 L99.67 -15.76 L100.24 -15.71 L100.81 -15.67 L101.39 -15.62 L101.96 -15.58 L102.53 -15.54 L103.1 -15.49 L103.68 -15.45 L104.25 -15.4 L104.82 -15.36 L105.4 -15.31 L105.97 -15.27 L106.54 -15.22 L107.11 -15.18 L107.69 -15.13 L108.26 -15.09 L108.83 -15.04 L109.4 -15 L109.98 -14.95 L110.55 -14.91 L111.12 -14.86 L111.7 -14.82 L112.27 -14.77 L112.84 -14.73 L113.41 -14.68 L113.99 -14.64 L114.56 -14.59 L115.13 -14.55 L115.71 -14.5 L116.28 -14.46 L116.85 -14.41 L117.42 -14.37 L118 -14.32 L118.57 -14.28 L119.14 -14.23 L119.72 -14.19 L120.29 -14.14 L120.86 -14.1 L121.43 -14.05 L122.01 -14.01 L122.58 -13.96 L123.15 -13.91 L123.72 -13.87 L124.3 -13.82 L124.87 -13.77 L125.44 -13.72 L126.02 -13.67 L126.59 -13.62 L127.16 -13.56 L127.73 -13.51 L128.31 -13.45 L128.88 -13.39 L129.45 -13.32 L130.03 -13.25 L130.6 -13.17 L131.17 -13.09 L131.74 -13 L132.32 -12.9 L132.89 -12.79 L133.46 -12.67 L134.04 -12.54 L134.61 -12.4 L135.18 -12.24 L135.75 -12.07 L136.33 -11.88 L136.9 -11.67 L137.47 -11.44 L138.04 -11.2 L138.62 -10.94 L139.19 -10.65 L139.76 -10.35 L140.34 -10.03 L140.91 -9.69 L141.48 -9.33 L142.05 -8.96 L142.63 -8.57 L143.2 -8.17 L143.77 -7.76 L144.35 -7.34 L144.92 -6.91 L145.49 -6.49 L146.06 -6.06 L146.64 -5.66 L147.21 -5.26 L147.78 -4.86 L148.36 -4.48 L148.93 -4.1 L149.5 -3.74 L150.07 -3.39 L150.65 -3.06 L151.22 -2.75 L151.79 -2.45 L152.36 -2.18 L152.94 -1.92 L153.51 -1.69 L154.08 -1.47 L154.66 -1.28 L155.23 -1.11 L155.8 -0.95 L156.37 -0.81 L156.95 -0.69 L157.52 -0.58 L158.09 -0.49 L158.67 -0.4 L159.24 -0.33 L159.81 -0.28 L160.38 -0.23 L160.96 -0.18 L161.53 -0.15 L162.1 -0.12 L162.68 -0.09 L163.25 -0.08 L163.82 -0.06 L164.39 -0.05 L164.97 -0.04 L165.54 -0.03 L166.11 -0.02 L166.68 -0.02 L167.26 -0.01 L167.83 -0.01 L168.06 0Z" fill="url(#hatch)" stroke="#333" stroke-width="0.55" stroke-linejoin="round"/>
<path d="M82.2 0 L82.2 -8.12 L82.77 -7.87 L83.34 -7.64 L83.92 -7.42 L84.49 -7.21 L85.06 -7.01 L85.63 -6.82 L86.21 -6.64 L86.78 -6.47 L87.35 -6.3 L87.92 -6.15 L88.5 -6 L89.07 -5.85 L89.64 -5.72 L90.22 -5.58 L90.79 -5.46 L91.36 -5.34 L91.93 -5.22 L92.51 -5.1 L93.08 -5 L93.65 -4.89 L94.23 -4.79 L94.8 -4.69 L95.37 -4.59 L95.94 -4.5 L96.52 -4.41 L97.09 -4.32 L97.66 -4.23 L98.24 -4.15 L98.81 -4.06 L99.38 -3.98 L99.95 -3.9 L100.53 -3.83 L101.1 -3.75 L101.67 -3.68 L102.24 -3.6 L102.82 -3.53 L103.39 -3.46 L103.96 -3.39 L104.54 -3.33 L105.11 -3.26 L105.68 -3.19 L106.25 -3.13 L106.83 -3.07 L107.4 -3 L107.97 -2.94 L108.55 -2.88 L109.12 -2.82 L109.69 -2.76 L110.26 -2.7 L110.84 -2.64 L111.41 -2.59 L111.98 -2.53 L112.56 -2.47 L113.13 -2.42 L113.7 -2.36 L114.27 -2.31 L114.85 -2.26 L115.42 -2.21 L115.99 -2.15 L116.56 -2.1 L117.14 -2.05 L117.71 -2 L118.28 -1.95 L118.86 -1.9 L119.43 -1.85 L120 -1.81 L120.57 -1.76 L121.15 -1.71 L121.72 -1.67 L122.29 -1.62 L122.87 -1.58 L123.44 -1.53 L124.01 -1.49 L124.58 -1.45 L125.16 -1.4 L125.73 -1.36 L126.3 -1.32 L126.88 -1.28 L127.45 -1.24 L128.02 -1.2 L128.59 -1.16 L129.17 -1.12 L129.74 -1.08 L130.31 -1.04 L130.88 -1.01 L131.46 -0.97 L132.03 -0.93 L132.6 -0.9 L133.18 -0.86 L133.75 -0.83 L134.32 -0.8 L134.89 -0.76 L135.47 -0.73 L136.04 -0.7 L136.61 -0.67 L137.19 -0.64 L137.76 -0.61 L138.33 -0.58 L138.9 -0.55 L139.48 -0.52 L140.05 -0.49 L140.62 -0.46 L141.2 -0.44 L141.77 -0.41 L142.34 -0.39 L142.91 -0.36 L143.49 -0.34 L144.06 -0.31 L144.63 -0.29 L145.2 -0.27 L145.78 -0.25 L146.35 -0.23 L146.92 -0.21 L147.5 -0.19 L148.07 -0.17 L148.64 -0.16 L149.21 -0.14 L149.79 -0.12 L150.36 -0.11 L150.93 -0.09 L151.51 -0.08 L152.08 -0.07 L152.65 -0.06 L153.22 -0.05 L153.8 -0.04 L154.37 -0.03 L154.94 -0.02 L155.52 -0.01 L156.09 -0.01 L156.66 -0 L157.23 -0 L157.52 0Z" fill="#b4b4f4" opacity="0.75"/>
<path d="M63.08 0 L63.08 -0.6 L63.65 -0.98 L64.23 -1.55 L64.8 -2.41 L65.37 -3.67 L65.94 -5.48 L66.52 -7.99 L67.09 -11.42 L67.66 -15.99 L68.23 -21.9 L68.81 -29.37 L69.38 -38.56 L69.95 -49.58 L70.53 -62.4 L71.1 -76.9 L71.67 -92.79 L72.24 -109.61 L72.82 -126.77 L73.39 -143.55 L73.96 -159.15 L74.54 -172.74 L75.11 -183.58 L75.68 -191.01 L76.25 -194.58 L76.83 -194.06 L77.4 -189.5 L77.97 -181.17 L78.55 -169.58 L79.12 -155.4 L79.69 -139.44 L80.26 -122.49 L80.84 -105.35 L81.41 -88.71 L81.98 -73.14 L82.55 -59.03 L83.13 -46.65 L83.7 -36.1 L84.27 -27.34 L84.85 -20.28 L85.42 -14.73 L85.99 -10.47 L86.56 -7.29 L87.14 -4.97 L87.71 -3.31 L88.28 -2.16 L88.86 -1.38 L89.43 -0.87 L89.86 0Z" fill="#fb0207" stroke="#333" stroke-width="0.55" stroke-linejoin="round"/>
<path d="M119.89 0 L119.89 -0.1 L120.46 -0.12 L121.03 -0.15 L121.61 -0.19 L122.18 -0.24 L122.75 -0.29 L123.32 -0.36 L123.9 -0.44 L124.47 -0.53 L125.04 -0.64 L125.62 -0.77 L126.19 -0.93 L126.76 -1.1 L127.33 -1.31 L127.91 -1.54 L128.48 -1.8 L129.05 -2.09 L129.62 -2.42 L130.2 -2.79 L130.77 -3.2 L131.34 -3.64 L131.92 -4.12 L132.49 -4.64 L133.06 -5.2 L133.63 -5.8 L134.21 -6.42 L134.78 -7.08 L135.35 -7.76 L135.93 -8.46 L136.5 -9.17 L137.07 -9.88 L137.64 -10.6 L138.22 -11.3 L138.79 -11.98 L139.36 -12.64 L139.94 -13.25 L140.51 -13.83 L141.08 -14.34 L141.65 -14.8 L142.23 -15.19 L142.8 -15.5 L143.37 -15.73 L143.94 -15.88 L144.52 -15.94 L145.09 -15.91 L145.66 -15.8 L146.24 -15.6 L146.81 -15.32 L147.38 -14.96 L147.95 -14.53 L148.53 -14.04 L149.1 -13.49 L149.67 -12.89 L150.25 -12.25 L150.82 -11.57 L151.39 -10.88 L151.96 -10.17 L152.54 -9.45 L153.11 -8.74 L153.68 -8.04 L154.26 -7.35 L154.83 -6.68 L155.4 -6.04 L155.97 -5.44 L156.55 -4.86 L157.12 -4.33 L157.69 -3.83 L158.26 -3.37 L158.84 -2.95 L159.41 -2.57 L159.98 -2.22 L160.56 -1.91 L161.13 -1.64 L161.7 -1.39 L162.27 -1.18 L162.85 -0.99 L163.42 -0.83 L163.99 -0.69 L164.57 -0.57 L165.14 -0.47 L165.71 -0.39 L166.28 -0.32 L166.86 -0.26 L167.43 -0.21 L168 -0.17 L168.58 -0.13 L169.15 -0.1 L169.38 0Z" fill="#f4060c" stroke="#333" stroke-width="0.55" stroke-linejoin="round"/>
<path d="M57.14 0 L57.14 -0.12 L57.71 -0.19 L58.28 -0.28 L58.86 -0.41 L59.43 -0.59 L60 -0.83 L60.57 -1.16 L61.15 -1.58 L61.72 -2.12 L62.29 -2.8 L62.86 -3.62 L63.44 -4.6 L64.01 -5.74 L64.58 -7.05 L65.16 -8.49 L65.73 -10.05 L66.3 -11.69 L66.87 -13.36 L67.45 -15 L68.02 -16.54 L68.59 -17.92 L69.17 -19.07 L69.74 -19.93 L70.31 -20.47 L70.88 -20.65 L71.46 -20.47 L72.03 -19.93 L72.6 -19.07 L73.18 -17.92 L73.75 -16.54 L74.32 -15 L74.89 -13.36 L75.47 -11.69 L76.04 -10.05 L76.61 -8.49 L77.18 -7.05 L77.76 -5.74 L78.33 -4.6 L78.9 -3.62 L79.48 -2.8 L80.05 -2.12 L80.62 -1.58 L81.19 -1.16 L81.77 -0.83 L82.34 -0.59 L82.91 -0.41 L83.49 -0.28 L84.06 -0.19 L84.63 -0.12 L84.63 0Z" fill="#e8788c" fill-opacity="0.62" stroke="#333" stroke-width="0.55" stroke-linejoin="round"/>
<path d="M59 0 L59 -0.01 L59.57 -0.02 L60.14 -0.02 L60.72 -0.03 L61.29 -0.04 L61.86 -0.06 L62.44 -0.08 L63.01 -0.11 L63.58 -0.14 L64.15 -0.19 L64.73 -0.24 L65.3 -0.31 L65.87 -0.4 L66.44 -0.5 L67.02 -0.63 L67.59 -0.78 L68.16 -0.96 L68.74 -1.17 L69.31 -1.41 L69.88 -1.69 L70.45 -2.01 L71.03 -2.38 L71.6 -2.78 L72.17 -3.22 L72.75 -3.71 L73.32 -4.24 L73.89 -4.8 L74.46 -5.4 L75.04 -6.03 L75.61 -6.69 L76.18 -7.37 L76.76 -8.06 L77.33 -8.76 L77.9 -9.43 L78.47 -10.09 L79.05 -10.74 L79.62 -11.36 L80.19 -11.95 L80.76 -12.51 L81.34 -13.04 L81.91 -13.52 L82.48 -13.96 L83.06 -14.36 L83.63 -14.71 L84.2 -15.02 L84.77 -15.29 L85.35 -15.52 L85.92 -15.71 L86.49 -15.87 L87.07 -16 L87.64 -16.1 L88.21 -16.18 L88.78 -16.24 L89.36 -16.27 L89.93 -16.29 L90.25 0Z" fill="url(#hatch2)" opacity="0.8"/>
<path d="M119.89 0 L119.89 -14.17 L120.46 -14.13 L121.03 -14.08 L121.61 -14.04 L122.18 -13.99 L122.75 -13.95 L123.32 -13.9 L123.9 -13.85 L124.47 -13.8 L125.04 -13.76 L125.62 -13.71 L126.19 -13.65 L126.76 -13.6 L127.33 -13.55 L127.91 -13.49 L128.48 -13.43 L129.05 -13.37 L129.62 -13.3 L130.2 -13.23 L130.77 -13.15 L131.34 -13.06 L131.92 -12.97 L132.49 -12.87 L133.06 -12.76 L133.63 -12.64 L134.21 -12.5 L134.78 -12.35 L135.35 -12.19 L135.93 -12.01 L136.5 -11.82 L137.07 -11.6 L137.64 -11.37 L138.22 -11.12 L138.79 -10.85 L139.36 -10.56 L139.94 -10.26 L140.51 -9.93 L141.08 -9.58 L141.65 -9.22 L142.23 -8.84 L142.8 -8.45 L143.37 -8.05 L143.94 -7.63 L144.52 -7.21 L145.09 -6.79 L145.66 -6.36 L146.24 -5.94 L146.81 -5.54 L147.38 -5.14 L147.95 -4.75 L148.53 -4.36 L149.1 -3.99 L149.67 -3.63 L150.25 -3.29 L150.82 -2.96 L151.39 -2.66 L151.96 -2.37 L152.54 -2.1 L153.11 -1.85 L153.68 -1.62 L154.26 -1.41 L154.83 -1.23 L155.4 -1.06 L155.97 -0.91 L156.55 -0.77 L157.12 -0.65 L157.69 -0.55 L158.26 -0.46 L158.84 -0.38 L159.41 -0.32 L159.98 -0.26 L160.56 -0.21 L161.13 -0.17 L161.7 -0.14 L162.27 -0.11 L162.85 -0.09 L163.42 -0.07 L163.99 -0.06 L164.57 -0.04 L165.14 -0.03 L165.71 -0.03 L166.28 -0.02 L166.86 -0.02 L167.43 -0.01 L168 -0.01 L168.06 0Z" fill="url(#hatch2)" opacity="0.8"/>
<path d="M59 -0.01 L59.71 -0.02 L60.43 -0.03 L61.15 -0.04 L61.86 -0.06 L62.58 -0.09 L63.29 -0.12 L64.01 -0.18 L64.73 -0.24 L65.44 -0.33 L66.16 -0.45 L66.87 -0.6 L67.59 -0.78 L68.31 -1.01 L69.02 -1.29 L69.74 -1.62 L70.45 -2.01 L71.17 -2.47 L71.89 -2.99 L72.6 -3.58 L73.32 -4.24 L74.03 -4.95 L74.75 -5.71 L75.47 -6.52 L76.18 -7.37 L76.9 -8.23 L77.61 -9.09 L78.33 -9.93 L79.05 -10.74 L79.76 -11.51 L80.48 -12.24 L81.19 -12.91 L81.91 -13.52 L82.63 -14.06 L83.34 -14.54 L84.06 -14.95 L84.77 -15.29 L85.49 -15.57 L86.21 -15.8 L86.92 -15.97 L87.64 -16.1 L88.35 -16.2 L89.07 -16.26 L89.79 -16.29 L90.5 -16.3 L91.22 -16.3 L91.93 -16.28 L92.65 -16.25 L93.37 -16.21 L94.08 -16.17 L94.8 -16.12 L95.51 -16.07 L96.23 -16.02 L96.95 -15.97 L97.66 -15.91 L98.38 -15.86 L99.09 -15.8 L99.81 -15.75 L100.53 -15.69 L101.24 -15.64 L101.96 -15.58 L102.67 -15.52 L103.39 -15.47 L104.11 -15.41 L104.82 -15.36 L105.54 -15.3 L106.25 -15.24 L106.97 -15.19 L107.69 -15.13 L108.4 -15.08 L109.12 -15.02 L109.83 -14.96 L110.55 -14.91 L111.27 -14.85 L111.98 -14.79 L112.7 -14.74 L113.41 -14.68 L114.13 -14.63 L114.85 -14.57 L115.56 -14.51 L116.28 -14.46 L116.99 -14.4 L117.71 -14.35 L118.43 -14.29 L119.14 -14.23 L119.86 -14.18 L120.57 -14.12 L121.29 -14.06 L122.01 -14.01 L122.72 -13.95 L123.44 -13.89 L124.15 -13.83 L124.87 -13.77 L125.59 -13.71 L126.3 -13.64 L127.02 -13.58 L127.73 -13.51 L128.45 -13.43 L129.17 -13.35 L129.88 -13.27 L130.6 -13.17 L131.31 -13.07 L132.03 -12.95 L132.75 -12.82 L133.46 -12.67 L134.18 -12.51 L134.89 -12.32 L135.61 -12.11 L136.33 -11.88 L137.04 -11.62 L137.76 -11.33 L138.47 -11 L139.19 -10.65 L139.91 -10.27 L140.62 -9.86 L141.34 -9.42 L142.05 -8.96 L142.77 -8.47 L143.49 -7.96 L144.2 -7.44 L144.92 -6.91 L145.63 -6.38 L146.35 -5.86 L147.07 -5.36 L147.78 -4.86 L148.5 -4.38 L149.21 -3.92 L149.93 -3.48 L150.65 -3.06 L151.36 -2.67 L152.08 -2.31 L152.79 -1.98 L153.51 -1.69 L154.23 -1.42 L154.94 -1.19 L155.66 -0.99 L156.37 -0.81 L157.09 -0.66 L157.81 -0.53 L158.52 -0.42 L159.24 -0.33 L159.95 -0.26 L160.67 -0.2 L161.39 -0.16 L162.1 -0.12 L162.82 -0.09 L163.53 -0.07 L164.25 -0.05 L164.97 -0.04 L165.68 -0.03 L166.4 -0.02 L167.11 -0.01 L167.83 -0.01" fill="none" stroke="#3a1030" stroke-width="0.45" opacity="0.85"/>
<path d="M6.01 -71.39 L6.87 -60.41 L7.73 -51.42 L8.59 -44.07 L9.45 -38.06 L10.31 -33.14 L11.17 -29.12 L12.03 -25.84 L12.89 -23.16 L13.75 -20.97 L14.61 -19.18 L15.47 -17.73 L16.32 -16.55 L17.18 -15.59 L18.04 -14.81 L18.9 -14.19 L19.76 -13.68 L20.62 -13.28 L21.48 -12.96 L22.34 -12.71 L23.2 -12.51 L24.06 -12.36 L24.92 -12.25 L25.78 -12.16 L26.64 -12.11 L27.49 -12.08 L28.35 -12.06 L29.21 -12.06 L30.07 -12.07 L30.93 -12.09 L31.79 -12.12 L32.65 -12.16 L33.51 -12.2 L34.37 -12.25 L35.23 -12.3 L36.09 -12.36 L36.95 -12.42 L37.8 -12.48 L38.66 -12.55 L39.52 -12.62 L40.38 -12.69 L41.24 -12.76 L42.1 -12.83 L42.96 -12.91 L43.82 -12.99 L44.68 -13.06 L45.54 -13.15 L46.4 -13.23 L47.26 -13.31 L48.12 -13.39 L48.97 -13.48 L49.83 -13.57 L50.69 -13.65 L51.55 -13.74 L52.41 -13.83 L53.27 -13.93 L54.13 -14.02 L54.99 -14.13 L55.85 -14.25 L56.71 -14.39 L57.57 -14.57 L58.43 -14.81 L59.28 -15.15 L60.14 -15.65 L60.57 -15.98 L61 -16.38 L61.43 -16.85 L61.86 -17.42 L62.29 -18.11 L62.72 -18.92 L63.15 -19.88 L63.58 -21.02 L64.01 -22.37 L64.44 -23.95 L64.87 -25.8 L65.3 -27.97 L65.73 -30.5 L66.16 -33.46 L66.59 -36.88 L67.02 -40.85 L67.45 -45.43 L67.88 -50.68 L68.31 -56.67 L68.74 -63.46 L69.17 -71.1 L69.6 -79.61 L70.02 -88.99 L70.45 -99.21 L70.88 -110.22 L71.31 -121.89 L71.74 -134.09 L72.17 -146.61 L72.6 -158.59 L73.03 -170.4 L73.46 -181.75 L73.89 -192.32 L74.32 -201.77 L74.75 -209.82 L75.18 -216.17 L75.61 -220.59 L76.04 -222.92 L76.47 -223.05 L76.9 -220.95 L77.33 -216.67 L77.76 -210.33 L78.19 -202.12 L78.62 -192.31 L79.05 -181.19 L79.48 -169.1 L79.91 -156.35 L80.34 -143.3 L80.76 -130.26 L81.19 -117.51 L81.62 -105.29 L82.05 -93.81 L82.48 -83.2 L82.91 -73.57 L83.34 -64.96 L83.77 -57.4 L84.2 -50.84 L84.63 -45.25 L85.06 -40.54 L85.49 -36.63 L85.92 -33.42 L86.35 -30.83 L86.78 -28.76 L87.21 -27.12 L87.64 -25.83 L88.07 -24.82 L88.5 -24.05 L88.93 -23.45 L89.36 -22.98 L89.79 -22.61 L90.22 -22.32 L90.65 -22.09 L91.08 -21.9 L91.5 -21.73 L91.93 -21.58 L92.36 -21.45 L92.79 -21.33 L93.22 -21.21 L93.65 -21.1 L94.51 -20.88 L95.37 -20.68 L96.23 -20.47 L97.09 -20.27 L97.95 -20.08 L98.81 -19.89 L99.67 -19.7 L100.53 -19.52 L101.39 -19.34 L102.24 -19.16 L103.1 -18.99 L103.96 -18.82 L104.82 -18.65 L105.68 -18.48 L106.54 -18.32 L107.4 -18.16 L108.26 -18 L109.12 -17.84 L109.98 -17.68 L110.84 -17.53 L111.7 -17.38 L112.56 -17.23 L113.41 -17.08 L114.27 -16.93 L115.13 -16.79 L115.99 -16.65 L116.85 -16.51 L117.71 -16.38 L118.57 -16.26 L119.43 -16.14 L120.29 -16.04 L121.15 -15.95 L122.01 -15.87 L122.87 -15.82 L123.72 -15.79 L124.58 -15.79 L125.44 -15.84 L126.3 -15.92 L127.16 -16.06 L128.02 -16.26 L128.88 -16.53 L129.74 -16.86 L130.6 -17.27 L131.46 -17.75 L132.32 -18.3 L133.18 -18.92 L134.04 -19.59 L134.89 -20.3 L135.75 -21.03 L136.61 -21.75 L137.47 -22.45 L138.33 -23.08 L139.19 -23.63 L140.05 -24.06 L140.91 -24.33 L141.77 -24.44 L142.63 -24.36 L143.49 -24.07 L144.35 -23.57 L145.2 -22.87 L146.06 -21.97 L146.92 -20.92 L147.78 -19.72 L148.64 -18.38 L149.5 -16.94 L150.36 -15.45 L151.22 -13.92 L152.08 -12.41 L152.94 -10.93 L153.8 -9.51 L154.66 -8.18 L155.52 -6.96 L156.37 -5.85 L157.23 -4.86 L158.09 -3.99 L158.95 -3.24 L159.81 -2.6 L160.67 -2.06 L161.53 -1.61 L162.39 -1.25 L163.25 -0.95 L164.11 -0.72 L164.97 -0.54 L165.83 -0.4 L166.68 -0.29 L167.54 -0.21 L168.4 -0.15 L169.26 -0.1 L170.12 -0.07 L170.98 -0.05 L171.84 -0.03 L172.7 -0.02 L173.56 -0.01 L174.42 -0.01 L175.28 -0.01 L176.14 -0 L177 -0 L177.85 -0 L178.71 -0 L179.57 -0 L180.43 -0 L181.29 -0 L182.15 -0 L183.01 -0 L183.87 -0 L184.73 -0 L185.59 -0" fill="none" stroke="#222" stroke-width="0.6" stroke-linejoin="round"/>
<path d="M0 -9.88 L0.29 -17.38 L0.57 -24.81 L0.86 -32.4 L1.15 -40.41 L1.43 -49.64 L1.72 -59.7 L2 -69.1 L2.29 -76.33 L2.58 -81.26 L2.86 -84.93 L3.15 -87.63 L3.44 -89.61 L3.72 -91.15 L4.01 -91.86 L4.3 -91.46 L4.58 -90.34 L4.87 -88.9 L5.16 -86.51 L5.44 -83.31 L5.73 -80.82 L6.01 -79.38 L6.3 -79.17 L6.59 -81.92 L6.87 -88.4 L7.16 -92.05 L7.45 -89.37 L7.73 -83.87 L8.02 -78.58 L8.31 -74.51 L8.59 -70.6 L8.88 -66.74 L9.16 -62.86 L9.59 -55.68 L10.02 -49.61 L10.45 -44.47 L10.88 -40.1 L11.31 -36.38 L11.74 -33.2 L12.17 -30.47 L12.6 -28.12 L13.03 -26.09 L13.46 -24.34 L13.89 -22.82 L14.32 -21.49 L14.75 -20.34 L15.18 -19.32 L15.61 -18.44 L16.04 -17.66 L16.47 -16.98 L16.9 -16.37 L17.33 -15.84 L17.76 -15.37 L18.19 -14.95 L18.62 -14.59 L19.62 -13.86 L20.62 -13.47 L21.62 -13.3 L22.63 -13.26 L23.63 -12.72 L24.63 -11.57 L25.63 -12.28 L26.64 -11.51 L27.64 -11.81 L28.64 -11.32 L29.64 -11.84 L30.64 -11.67 L31.65 -12.08 L32.65 -13.63 L33.65 -12.63 L34.65 -12.77 L35.66 -11.89 L36.66 -12.13 L37.66 -12.69 L38.66 -12.57 L39.67 -12.8 L40.67 -12.81 L41.67 -12.37 L42.67 -13.01 L43.68 -12.65 L44.68 -13.81 L45.68 -13.15 L46.68 -13.56 L47.69 -13.44 L48.69 -13.91 L49.69 -13.42 L50.69 -14.79 L51.7 -19.05 L52.7 -16.2 L53.7 -14.47 L54.7 -15.27 L55.7 -20.9 L56.71 -16.98 L57.71 -14.95 L58.71 -16.95 L59.71 -22.96 L60.72 -22.9 L61.72 -18.33 L62.72 -19.15 L63.72 -21.61 L64.73 -25.28 L65.73 -30.54 L66.73 -38.15 L67.09 -41.57 L67.45 -45.43 L67.81 -49.75 L68.16 -54.59 L68.52 -59.96 L68.88 -65.91 L69.24 -72.45 L69.6 -79.6 L69.95 -87.36 L70.31 -95.71 L70.67 -104.61 L71.03 -114.02 L71.39 -123.86 L71.74 -134.03 L72.1 -144.41 L72.46 -154.45 L72.82 -164.3 L73.18 -173.92 L73.53 -183.1 L73.89 -191.66 L74.25 -199.42 L74.61 -206.21 L74.97 -211.87 L75.32 -216.27 L75.68 -219.32 L76.04 -220.93 L76.4 -221.08 L76.76 -219.75 L77.11 -216.98 L77.47 -212.79 L77.83 -207.27 L78.19 -200.53 L78.55 -192.7 L78.9 -183.93 L79.26 -174.38 L79.62 -164.25 L79.98 -153.71 L80.34 -142.97 L80.69 -132.19 L81.05 -121.56 L81.41 -111.23 L81.77 -101.32 L82.13 -91.94 L82.48 -83.18 L82.84 -75.09 L83.2 -67.71 L83.56 -61.05 L83.92 -55.1 L84.27 -49.85 L84.63 -45.25 L84.99 -41.27 L85.35 -37.85 L85.71 -34.94 L86.06 -32.5 L86.42 -30.45 L86.78 -28.76 L87.14 -27.36 L87.5 -28.06 L88.5 -27.37 L89.5 -25.43 L90.5 -25.38 L91.5 -25.05 L92.51 -22.76 L93.51 -20.42 L94.51 -20.23 L95.51 -21.86 L96.52 -20.7 L97.52 -22.01 L98.52 -21.11 L99.52 -20.01 L100.53 -20.26 L101.53 -20.7 L102.53 -21.38 L103.53 -19.28 L104.54 -18.91 L105.54 -16.84 L106.54 -20.88 L107.54 -21.72 L108.55 -19.2 L109.55 -17.84 L110.55 -16.08 L111.55 -17.7 L112.56 -18.12 L113.56 -21.32 L114.56 -19.03 L115.56 -16.58 L116.56 -13.04 L117.57 -18.1 L118.57 -17.55 L119.57 -14.38 L120.57 -16.25 L121.58 -13.85 L122.58 -21.32 L123.58 -19.73 L124.58 -18.39 L125.59 -16.85 L126.59 -13.35 L127.59 -15.76 L128.59 -14.49 L129.6 -18 L130.6 -15.17 L131.6 -16.99 L132.6 -21.77 L133.61 -24.79 L134.61 -22.1 L135.61 -21.7 L136.61 -26.4 L137.62 -28.55 L138.62 -26.81 L139.62 -27.11 L140.62 -27.26 L141.62 -26.28 L142.63 -26.33 L143.63 -28.75 L144.63 -27.66 L145.63 -28.48 L146.64 -24.1 L147.64 -21.46 L148.64 -18 L149.64 -17.02 L150.65 -13.48 L151.65 -10.37 L152.65 -12.2 L153.65 -12.79 L154.66 -10.93 L155.66 -10.22 L156.66 -7.42 L157.66 -4.29 L158.67 -4.05 L159.67 -2.74 L160.67 -1.52 L161.67 -0.85 L162.68 -0.47 L163.68 -0.63 L164.68 -0.58 L165.68 -0.26 L166.68 -0.69 L167.69 -0.37 L168.69 -0.37 L169.69 -0.54 L170.69 0 L171.7 0 L172.7 -0.06 L173.7 0 L174.7 -0.36 L175.71 -0.22 L176.71 -0.38 L177.71 -0.36 L178.71 0 L179.72 -0.06 L180.72 0 L181.72 0 L182.72 0 L183.73 -0.17 L184.73 -0.33 L185.73 -0.42 L186.73 0 L187.74 0 L188.74 0 L189.74 0 L190.74 -0.1 L191.74 0 L192.75 -0.01 L193.75 -0.08 L194.75 -0.34 L195.75 0 L196.76 0 L197.76 0 L198.76 -0.45 L199.76 -0.48 L200.77 -0.1 L201.77 -0.1 L202.77 -0.07 L203.77 -0.08 L204.78 0 L205.78 0 L206.78 0 L207.78 0 L208.79 -0.42 L209.79 -0.29 L210.79 -0.11 L211.79 0 L212.8 -0.01 L213.8 -0.11 L214.8 0 L215.8 -0.01 L216.8 -0.08 L217.81 0 L218.81 0 L219.81 0 L220.81 0" fill="none" stroke="#1a1a1a" stroke-width="0.65" stroke-linejoin="round"/>
<g stroke="#2e2e2e" stroke-width="1" fill="none"><path d="M-9 0H221.24"/><path d="M0 0V-224.5"/><path d="M-9 0H0M-5.3 -8.98H0M-5.3 -17.96H0M-5.3 -26.94H0M-5.3 -35.92H0M-9 -44.9H0M-5.3 -53.88H0M-5.3 -62.86H0M-5.3 -71.84H0M-5.3 -80.82H0M-9 -89.8H0M-5.3 -98.78H0M-5.3 -107.76H0M-5.3 -116.74H0M-5.3 -125.72H0M-9 -134.7H0M-5.3 -143.68H0M-5.3 -152.66H0M-5.3 -161.64H0M-5.3 -170.62H0M-9 -179.6H0M-5.3 -188.58H0M-5.3 -197.56H0M-5.3 -206.54H0M-5.3 -215.52H0M-9 -224.5H0"/><path d="M0 0V8.7M7.16 0V5.2M14.32 0V5.2M21.48 0V5.2M28.64 0V8.7M35.8 0V5.2M42.96 0V5.2M50.12 0V5.2M57.28 0V8.7M64.44 0V5.2M71.6 0V5.2M78.76 0V5.2M85.92 0V8.7M93.08 0V5.2M100.24 0V5.2M107.4 0V5.2M114.56 0V8.7M121.72 0V5.2M128.88 0V5.2M136.04 0V5.2M143.2 0V8.7M150.36 0V5.2M157.52 0V5.2M164.68 0V5.2M171.84 0V8.7M179 0V5.2M186.16 0V5.2M193.32 0V5.2M200.48 0V8.7M207.64 0V5.2M214.8 0V5.2"/></g>
<g font-size="6.9" fill="#333" text-anchor="middle"><text x="0" y="19">0</text><text x="28.64" y="19">200</text><text x="57.28" y="19">400</text><text x="85.92" y="19">600</text><text x="114.56" y="19">800</text><text x="143.2" y="19">1000</text><text x="171.84" y="19">1200</text><text x="200.48" y="19">1400</text><text transform="translate(-13.3 0) rotate(-90)">0</text><text transform="translate(-13.3 -44.9) rotate(-90)">100</text><text transform="translate(-13.3 -89.8) rotate(-90)">200</text><text transform="translate(-13.3 -134.7) rotate(-90)">300</text><text transform="translate(-13.3 -179.6) rotate(-90)">400</text><text transform="translate(-13.3 -224.5) rotate(-90)">500</text></g>
<text x="110.69" y="30.8" font-size="7.6" fill="#3a3a3a" text-anchor="middle">Propidium Iodide-A</text>
<text x="221.24" y="30.8" font-size="6.9" fill="#3a3a3a" text-anchor="end">(x 100)</text>
<text transform="translate(-24.5 -112.25) rotate(-90)" font-size="7.2" fill="#3a3a3a" text-anchor="middle">Number</text>
<path d="M76.47 1.2L80.07 7.6H72.87Z" fill="#000"/>
<rect x="176.6" y="-230.2" width="7.4" height="7.2" fill="#c3c3f8" stroke="#555" stroke-width="0.7"/>
<text x="188" y="-224.2" font-size="6.3" fill="#4848d8">Debris</text>
<rect x="176.6" y="-221.3" width="7.4" height="7.2" fill="#fb0207" stroke="#555" stroke-width="0.7"/>
<text x="188" y="-215.3" font-size="6.3" fill="#4848d8">G0G1</text>
<rect x="176.6" y="-212.4" width="7.4" height="7.2" fill="#fb0207" stroke="#555" stroke-width="0.7"/>
<text x="188" y="-206.4" font-size="6.3" fill="#4848d8">G2M</text>
<rect x="176.6" y="-203.5" width="7.4" height="7.2" fill="#fff"/>
<rect x="176.6" y="-203.5" width="7.4" height="7.2" fill="url(#hatchL)" stroke="#555" stroke-width="0.7"/>
<text x="188" y="-197.5" font-size="6.3" fill="#4848d8">S-Phase</text>
</g>
<g transform="translate(865.5 243.5) scale(0.94 0.94)">
<path d="M6.01 0 L6.01 -44.9 L6.59 -39.57 L7.16 -35 L7.73 -31.09 L8.31 -27.74 L8.88 -24.86 L9.45 -22.41 L10.02 -20.3 L10.6 -18.5 L11.17 -16.96 L11.74 -15.65 L12.32 -14.53 L12.89 -13.57 L13.46 -12.75 L14.03 -12.05 L14.61 -11.46 L15.18 -10.96 L15.75 -10.53 L16.32 -10.17 L16.9 -9.86 L17.47 -9.61 L18.04 -9.4 L18.62 -9.22 L19.19 -9.07 L19.76 -8.95 L20.33 -8.85 L20.91 -8.78 L21.48 -8.72 L22.05 -8.67 L22.63 -8.64 L23.2 -8.62 L23.77 -8.61 L24.34 -8.6 L24.92 -8.61 L25.49 -8.62 L26.06 -8.63 L26.64 -8.66 L27.21 -8.68 L27.78 -8.71 L28.35 -8.74 L28.93 -8.78 L29.5 -8.81 L30.07 -8.85 L30.64 -8.9 L31.22 -8.94 L31.79 -8.99 L32.36 -9.03 L32.94 -9.08 L33.51 -9.13 L34.08 -9.18 L34.65 -9.23 L35.23 -9.29 L35.8 -9.34 L36.37 -9.4 L36.95 -9.45 L37.52 -9.51 L38.09 -9.57 L38.66 -9.63 L39.24 -9.69 L39.81 -9.75 L40.38 -9.81 L40.96 -9.87 L41.53 -9.93 L42.1 -10 L42.67 -10.06 L43.25 -10.12 L43.82 -10.19 L44.39 -10.25 L44.96 -10.32 L45.54 -10.39 L46.11 -10.45 L46.68 -10.52 L47.26 -10.59 L47.83 -10.66 L48.4 -10.73 L48.97 -10.8 L49.55 -10.87 L50.12 -10.94 L50.69 -11.02 L51.27 -11.09 L51.84 -11.16 L52.41 -11.24 L52.98 -11.31 L53.56 -11.39 L54.13 -11.46 L54.7 -11.54 L55.28 -11.61 L55.85 -11.69 L56.42 -11.77 L56.99 -11.85 L57.57 -11.92 L58.14 -12 L58.71 -12.08 L59.28 -12.16 L59.86 -12.24 L60.43 -12.33 L61 -12.41 L61.58 -12.49 L62.15 -12.57 L62.72 -12.66 L63.29 -12.74 L63.87 -12.82 L64.44 -12.91 L65.01 -12.99 L65.59 -13.08 L66.16 -13.17 L66.73 -13.25 L67.3 -13.34 L67.88 -13.43 L68.45 -13.52 L69.02 -13.61 L69.6 -13.7 L70.17 -13.79 L70.74 -13.88 L71.31 -13.97 L71.89 -14.06 L72.46 -14.15 L73.03 -14.05 L73.6 -13.4 L74.18 -12.8 L74.75 -12.24 L75.32 -11.71 L75.9 -11.22 L76.47 -10.76 L77.04 -10.33 L77.61 -9.93 L78.19 -9.55 L78.76 -9.19 L79.33 -8.86 L79.91 -8.55 L80.48 -8.25 L81.05 -7.98 L81.62 -7.72 L82.2 -7.47 L82.77 -7.24 L83.34 -7.02 L83.92 -6.81 L84.49 -6.62 L85.06 -6.43 L85.63 -6.25 L86.21 -6.09 L86.78 -5.93 L87.35 -5.77 L87.92 -5.63 L88.5 -5.49 L89.07 -5.36 L89.64 -5.23 L90.22 -5.11 L90.79 -5 L91.36 -4.88 L91.93 -4.78 L92.51 -4.67 L93.08 -4.57 L93.65 -4.48 L94.23 -4.38 L94.8 -4.29 L95.37 -4.21 L95.94 -4.12 L96.52 -4.04 L97.09 -3.96 L97.66 -3.88 L98.24 -3.81 L98.81 -3.73 L99.38 -3.66 L99.95 -3.59 L100.53 -3.52 L101.1 -3.45 L101.67 -3.39 L102.24 -3.32 L102.82 -3.26 L103.39 -3.2 L103.96 -3.13 L104.54 -3.07 L105.11 -3.02 L105.68 -2.96 L106.25 -2.9 L106.83 -2.84 L107.4 -2.79 L107.97 -2.73 L108.55 -2.68 L109.12 -2.63 L109.69 -2.57 L110.26 -2.52 L110.84 -2.47 L111.41 -2.42 L111.98 -2.37 L112.56 -2.32 L113.13 -2.27 L113.7 -2.22 L114.27 -2.17 L114.85 -2.13 L115.42 -2.08 L115.99 -2.04 L116.56 -1.99 L117.14 -1.94 L117.71 -1.9 L118.28 -1.86 L118.86 -1.81 L119.43 -1.77 L120 -1.73 L120.57 -1.69 L121.15 -1.64 L121.72 -1.6 L122.29 -1.56 L122.87 -1.52 L123.44 -1.48 L124.01 -1.44 L124.58 -1.4 L125.16 -1.37 L125.73 -1.33 L126.3 -1.29 L126.88 -1.25 L127.45 -1.22 L128.02 -1.18 L128.59 -1.15 L129.17 -1.11 L129.74 -1.08 L130.31 -1.04 L130.88 -1.01 L131.46 -0.98 L132.03 -0.94 L132.6 -0.91 L133.18 -0.88 L133.75 -0.85 L134.32 -0.82 L134.89 -0.79 L135.47 -0.76 L136.04 -0.73 L136.61 -0.7 L137.19 -0.67 L137.76 -0.64 L138.33 -0.61 L138.9 -0.59 L139.48 -0.56 L140.05 -0.54 L140.62 -0.51 L141.2 -0.49 L141.77 -0.46 L142.34 -0.44 L142.91 -0.41 L143.49 -0.39 L144.06 -0.37 L144.63 -0.35 L145.2 -0.33 L145.78 -0.31 L146.35 -0.29 L146.92 -0.27 L147.5 -0.25 L148.07 -0.23 L148.64 -0.21 L149.21 -0.19 L149.79 -0.18 L150.36 -0.16 L150.93 -0.15 L151.51 -0.13 L152.08 -0.12 L152.65 -0.1 L153.22 -0.09 L153.8 -0.08 L154.37 -0.07 L154.94 -0.06 L155.52 -0.05 L156.09 -0.04 L156.66 -0.03 L157.23 -0.02 L157.81 -0.02 L158.38 -0.01 L158.95 -0.01 L159.52 -0 L160.1 -0 L160.38 0Z" fill="#bdbdf6" stroke="#333" stroke-width="0.55" stroke-linejoin="round"/>
<path d="M59.71 0 L59.71 -0.01 L60.29 -0.02 L60.86 -0.02 L61.43 -0.03 L62.01 -0.04 L62.58 -0.06 L63.15 -0.07 L63.72 -0.1 L64.3 -0.13 L64.87 -0.17 L65.44 -0.22 L66.02 -0.29 L66.59 -0.37 L67.16 -0.46 L67.73 -0.58 L68.31 -0.72 L68.88 -0.88 L69.45 -1.07 L70.02 -1.3 L70.6 -1.56 L71.17 -1.85 L71.74 -2.18 L72.32 -2.55 L72.89 -2.96 L73.46 -3.41 L74.03 -3.89 L74.61 -4.41 L75.18 -4.96 L75.75 -5.54 L76.33 -6.15 L76.9 -6.77 L77.47 -7.4 L78.04 -8.04 L78.62 -8.67 L79.19 -9.28 L79.76 -9.88 L80.34 -10.46 L80.91 -11.02 L81.48 -11.54 L82.05 -12.03 L82.63 -12.49 L83.2 -12.9 L83.77 -13.28 L84.34 -13.61 L84.92 -13.91 L85.49 -14.17 L86.06 -14.39 L86.64 -14.58 L87.21 -14.74 L87.78 -14.87 L88.35 -14.98 L88.93 -15.06 L89.5 -15.12 L90.07 -15.17 L90.65 -15.2 L91.22 -15.21 L91.79 -15.22 L92.36 -15.22 L92.94 -15.22 L93.51 -15.2 L94.08 -15.19 L94.66 -15.17 L95.23 -15.14 L95.8 -15.12 L96.37 -15.09 L96.95 -15.06 L97.52 -15.03 L98.09 -15.01 L98.66 -14.98 L99.24 -14.95 L99.81 -14.92 L100.38 -14.88 L100.96 -14.85 L101.53 -14.82 L102.1 -14.79 L102.67 -14.76 L103.25 -14.73 L103.82 -14.7 L104.39 -14.67 L104.97 -14.64 L105.54 -14.61 L106.11 -14.58 L106.68 -14.55 L107.26 -14.52 L107.83 -14.48 L108.4 -14.45 L108.98 -14.42 L109.55 -14.39 L110.12 -14.36 L110.69 -14.33 L111.27 -14.3 L111.84 -14.27 L112.41 -14.24 L112.98 -14.21 L113.56 -14.18 L114.13 -14.15 L114.7 -14.11 L115.28 -14.08 L115.85 -14.05 L116.42 -14.02 L116.99 -13.99 L117.57 -13.96 L118.14 -13.93 L118.71 -13.9 L119.29 -13.87 L119.86 -13.84 L120.43 -13.81 L121 -13.77 L121.58 -13.74 L122.15 -13.71 L122.72 -13.68 L123.3 -13.65 L123.87 -13.62 L124.44 -13.58 L125.01 -13.55 L125.59 -13.52 L126.16 -13.48 L126.73 -13.45 L127.3 -13.41 L127.88 -13.38 L128.45 -13.34 L129.02 -13.29 L129.6 -13.25 L130.17 -13.2 L130.74 -13.15 L131.31 -13.1 L131.89 -13.04 L132.46 -12.97 L133.03 -12.89 L133.61 -12.81 L134.18 -12.72 L134.75 -12.62 L135.32 -12.51 L135.9 -12.38 L136.47 -12.24 L137.04 -12.08 L137.62 -11.91 L138.19 -11.72 L138.76 -11.51 L139.33 -11.28 L139.91 -11.04 L140.48 -10.77 L141.05 -10.48 L141.62 -10.18 L142.2 -9.85 L142.77 -9.5 L143.34 -9.14 L143.92 -8.76 L144.49 -8.37 L145.06 -7.97 L145.63 -7.55 L146.21 -7.13 L146.78 -6.71 L147.35 -6.28 L147.93 -5.87 L148.5 -5.46 L149.07 -5.05 L149.64 -4.66 L150.22 -4.27 L150.79 -3.9 L151.36 -3.54 L151.94 -3.2 L152.51 -2.88 L153.08 -2.57 L153.65 -2.29 L154.23 -2.02 L154.8 -1.78 L155.37 -1.55 L155.94 -1.35 L156.52 -1.17 L157.09 -1 L157.66 -0.86 L158.24 -0.73 L158.81 -0.62 L159.38 -0.52 L159.95 -0.43 L160.53 -0.36 L161.1 -0.29 L161.67 -0.24 L162.25 -0.2 L162.82 -0.16 L163.39 -0.13 L163.96 -0.1 L164.54 -0.08 L165.11 -0.06 L165.68 -0.05 L166.26 -0.04 L166.83 -0.03 L167.4 -0.02 L167.97 -0.02 L168.55 -0.01 L169.12 -0.01 L169.49 0Z" fill="#fff" />
<path d="M59.71 0 L59.71 -0.01 L60.29 -0.02 L60.86 -0.02 L61.43 -0.03 L62.01 -0.04 L62.58 -0.06 L63.15 -0.07 L63.72 -0.1 L64.3 -0.13 L64.87 -0.17 L65.44 -0.22 L66.02 -0.29 L66.59 -0.37 L67.16 -0.46 L67.73 -0.58 L68.31 -0.72 L68.88 -0.88 L69.45 -1.07 L70.02 -1.3 L70.6 -1.56 L71.17 -1.85 L71.74 -2.18 L72.32 -2.55 L72.89 -2.96 L73.46 -3.41 L74.03 -3.89 L74.61 -4.41 L75.18 -4.96 L75.75 -5.54 L76.33 -6.15 L76.9 -6.77 L77.47 -7.4 L78.04 -8.04 L78.62 -8.67 L79.19 -9.28 L79.76 -9.88 L80.34 -10.46 L80.91 -11.02 L81.48 -11.54 L82.05 -12.03 L82.63 -12.49 L83.2 -12.9 L83.77 -13.28 L84.34 -13.61 L84.92 -13.91 L85.49 -14.17 L86.06 -14.39 L86.64 -14.58 L87.21 -14.74 L87.78 -14.87 L88.35 -14.98 L88.93 -15.06 L89.5 -15.12 L90.07 -15.17 L90.65 -15.2 L91.22 -15.21 L91.79 -15.22 L92.36 -15.22 L92.94 -15.22 L93.51 -15.2 L94.08 -15.19 L94.66 -15.17 L95.23 -15.14 L95.8 -15.12 L96.37 -15.09 L96.95 -15.06 L97.52 -15.03 L98.09 -15.01 L98.66 -14.98 L99.24 -14.95 L99.81 -14.92 L100.38 -14.88 L100.96 -14.85 L101.53 -14.82 L102.1 -14.79 L102.67 -14.76 L103.25 -14.73 L103.82 -14.7 L104.39 -14.67 L104.97 -14.64 L105.54 -14.61 L106.11 -14.58 L106.68 -14.55 L107.26 -14.52 L107.83 -14.48 L108.4 -14.45 L108.98 -14.42 L109.55 -14.39 L110.12 -14.36 L110.69 -14.33 L111.27 -14.3 L111.84 -14.27 L112.41 -14.24 L112.98 -14.21 L113.56 -14.18 L114.13 -14.15 L114.7 -14.11 L115.28 -14.08 L115.85 -14.05 L116.42 -14.02 L116.99 -13.99 L117.57 -13.96 L118.14 -13.93 L118.71 -13.9 L119.29 -13.87 L119.86 -13.84 L120.43 -13.81 L121 -13.77 L121.58 -13.74 L122.15 -13.71 L122.72 -13.68 L123.3 -13.65 L123.87 -13.62 L124.44 -13.58 L125.01 -13.55 L125.59 -13.52 L126.16 -13.48 L126.73 -13.45 L127.3 -13.41 L127.88 -13.38 L128.45 -13.34 L129.02 -13.29 L129.6 -13.25 L130.17 -13.2 L130.74 -13.15 L131.31 -13.1 L131.89 -13.04 L132.46 -12.97 L133.03 -12.89 L133.61 -12.81 L134.18 -12.72 L134.75 -12.62 L135.32 -12.51 L135.9 -12.38 L136.47 -12.24 L137.04 -12.08 L137.62 -11.91 L138.19 -11.72 L138.76 -11.51 L139.33 -11.28 L139.91 -11.04 L140.48 -10.77 L141.05 -10.48 L141.62 -10.18 L142.2 -9.85 L142.77 -9.5 L143.34 -9.14 L143.92 -8.76 L144.49 -8.37 L145.06 -7.97 L145.63 -7.55 L146.21 -7.13 L146.78 -6.71 L147.35 -6.28 L147.93 -5.87 L148.5 -5.46 L149.07 -5.05 L149.64 -4.66 L150.22 -4.27 L150.79 -3.9 L151.36 -3.54 L151.94 -3.2 L152.51 -2.88 L153.08 -2.57 L153.65 -2.29 L154.23 -2.02 L154.8 -1.78 L155.37 -1.55 L155.94 -1.35 L156.52 -1.17 L157.09 -1 L157.66 -0.86 L158.24 -0.73 L158.81 -0.62 L159.38 -0.52 L159.95 -0.43 L160.53 -0.36 L161.1 -0.29 L161.67 -0.24 L162.25 -0.2 L162.82 -0.16 L163.39 -0.13 L163.96 -0.1 L164.54 -0.08 L165.11 -0.06 L165.68 -0.05 L166.26 -0.04 L166.83 -0.03 L167.4 -0.02 L167.97 -0.02 L168.55 -0.01 L169.12 -0.01 L169.49 0Z" fill="url(#hatch)" stroke="#333" stroke-width="0.55" stroke-linejoin="round"/>
<path d="M82.91 0 L82.91 -7.18 L83.49 -6.97 L84.06 -6.76 L84.63 -6.57 L85.2 -6.39 L85.78 -6.21 L86.35 -6.05 L86.92 -5.89 L87.5 -5.74 L88.07 -5.59 L88.64 -5.46 L89.21 -5.33 L89.79 -5.2 L90.36 -5.08 L90.93 -4.97 L91.5 -4.86 L92.08 -4.75 L92.65 -4.65 L93.22 -4.55 L93.8 -4.45 L94.37 -4.36 L94.94 -4.27 L95.51 -4.19 L96.09 -4.1 L96.66 -4.02 L97.23 -3.94 L97.81 -3.86 L98.38 -3.79 L98.95 -3.71 L99.52 -3.64 L100.1 -3.57 L100.67 -3.5 L101.24 -3.44 L101.82 -3.37 L102.39 -3.31 L102.96 -3.24 L103.53 -3.18 L104.11 -3.12 L104.68 -3.06 L105.25 -3 L105.82 -2.94 L106.4 -2.89 L106.97 -2.83 L107.54 -2.77 L108.12 -2.72 L108.69 -2.67 L109.26 -2.61 L109.83 -2.56 L110.41 -2.51 L110.98 -2.46 L111.55 -2.41 L112.13 -2.36 L112.7 -2.31 L113.27 -2.26 L113.84 -2.21 L114.42 -2.16 L114.99 -2.12 L115.56 -2.07 L116.14 -2.02 L116.71 -1.98 L117.28 -1.93 L117.85 -1.89 L118.43 -1.85 L119 -1.8 L119.57 -1.76 L120.14 -1.72 L120.72 -1.68 L121.29 -1.63 L121.86 -1.59 L122.44 -1.55 L123.01 -1.51 L123.58 -1.47 L124.15 -1.43 L124.73 -1.4 L125.3 -1.36 L125.87 -1.32 L126.45 -1.28 L127.02 -1.25 L127.59 -1.21 L128.16 -1.17 L128.74 -1.14 L129.31 -1.1 L129.88 -1.07 L130.46 -1.03 L131.03 -1 L131.6 -0.97 L132.17 -0.94 L132.75 -0.9 L133.32 -0.87 L133.89 -0.84 L134.46 -0.81 L135.04 -0.78 L135.61 -0.75 L136.18 -0.72 L136.76 -0.69 L137.33 -0.66 L137.9 -0.64 L138.47 -0.61 L139.05 -0.58 L139.62 -0.56 L140.19 -0.53 L140.77 -0.5 L141.34 -0.48 L141.91 -0.45 L142.48 -0.43 L143.06 -0.41 L143.63 -0.39 L144.2 -0.36 L144.78 -0.34 L145.35 -0.32 L145.92 -0.3 L146.49 -0.28 L147.07 -0.26 L147.64 -0.24 L148.21 -0.22 L148.78 -0.21 L149.36 -0.19 L149.93 -0.17 L150.5 -0.16 L151.08 -0.14 L151.65 -0.13 L152.22 -0.11 L152.79 -0.1 L153.37 -0.09 L153.94 -0.08 L154.51 -0.06 L155.09 -0.05 L155.66 -0.04 L156.23 -0.04 L156.8 -0.03 L157.38 -0.02 L157.95 -0.01 L158.52 -0.01 L159.1 -0 L159.67 -0 L160.24 -0 L160.38 0Z" fill="#b4b4f4" opacity="0.75"/>
<path d="M64.28 0 L64.28 -0.58 L64.86 -0.97 L65.43 -1.56 L66 -2.46 L66.57 -3.8 L67.15 -5.72 L67.72 -8.44 L68.29 -12.15 L68.86 -17.12 L69.44 -23.56 L70.01 -31.7 L70.58 -41.69 L71.16 -53.6 L71.73 -67.35 L72.3 -82.73 L72.87 -99.33 L73.45 -116.57 L74.02 -133.72 L74.59 -149.94 L75.17 -164.34 L75.74 -176.06 L76.31 -184.38 L76.88 -188.73 L77.46 -188.84 L78.03 -184.69 L78.6 -176.57 L79.18 -165 L79.75 -150.71 L80.32 -134.56 L80.89 -117.43 L81.47 -100.18 L82.04 -83.53 L82.61 -68.09 L83.18 -54.24 L83.76 -42.24 L84.33 -32.16 L84.9 -23.93 L85.48 -17.4 L86.05 -12.37 L86.62 -8.6 L87.19 -5.84 L87.77 -3.88 L88.34 -2.52 L88.91 -1.6 L89.49 -0.99 L90.06 -0.6 L90.09 0Z" fill="#fb0207" stroke="#333" stroke-width="0.55" stroke-linejoin="round"/>
<path d="M120.12 0 L120.12 -0.09 L120.69 -0.11 L121.26 -0.14 L121.83 -0.17 L122.41 -0.21 L122.98 -0.26 L123.55 -0.32 L124.13 -0.39 L124.7 -0.47 L125.27 -0.57 L125.84 -0.68 L126.42 -0.81 L126.99 -0.96 L127.56 -1.13 L128.14 -1.33 L128.71 -1.55 L129.28 -1.8 L129.85 -2.08 L130.43 -2.4 L131 -2.74 L131.57 -3.12 L132.14 -3.53 L132.72 -3.97 L133.29 -4.45 L133.86 -4.96 L134.44 -5.51 L135.01 -6.08 L135.58 -6.67 L136.15 -7.29 L136.73 -7.92 L137.3 -8.56 L137.87 -9.21 L138.45 -9.85 L139.02 -10.49 L139.59 -11.11 L140.16 -11.71 L140.74 -12.28 L141.31 -12.82 L141.88 -13.3 L142.46 -13.74 L143.03 -14.11 L143.6 -14.43 L144.17 -14.67 L144.75 -14.84 L145.32 -14.94 L145.89 -14.97 L146.46 -14.91 L147.04 -14.78 L147.61 -14.58 L148.18 -14.31 L148.76 -13.97 L149.33 -13.57 L149.9 -13.11 L150.47 -12.61 L151.05 -12.06 L151.62 -11.48 L152.19 -10.87 L152.77 -10.24 L153.34 -9.6 L153.91 -8.95 L154.48 -8.3 L155.06 -7.66 L155.63 -7.04 L156.2 -6.43 L156.78 -5.84 L157.35 -5.29 L157.92 -4.76 L158.49 -4.26 L159.07 -3.79 L159.64 -3.36 L160.21 -2.96 L160.78 -2.6 L161.36 -2.27 L161.93 -1.97 L162.5 -1.7 L163.08 -1.46 L163.65 -1.25 L164.22 -1.06 L164.79 -0.9 L165.37 -0.76 L165.94 -0.63 L166.51 -0.53 L167.09 -0.44 L167.66 -0.36 L168.23 -0.3 L168.8 -0.24 L169.38 -0.2 L169.95 -0.16 L170.52 -0.13 L171.1 -0.1 L171.44 0Z" fill="#f4060c" stroke="#333" stroke-width="0.55" stroke-linejoin="round"/>
<path d="M58.28 0 L58.28 -0.11 L58.86 -0.16 L59.43 -0.24 L60 -0.35 L60.57 -0.5 L61.15 -0.71 L61.72 -0.99 L62.29 -1.35 L62.86 -1.81 L63.44 -2.38 L64.01 -3.08 L64.58 -3.92 L65.16 -4.89 L65.73 -6 L66.3 -7.23 L66.87 -8.56 L67.45 -9.96 L68.02 -11.38 L68.59 -12.77 L69.17 -14.08 L69.74 -15.25 L70.31 -16.23 L70.88 -16.97 L71.46 -17.43 L72.03 -17.59 L72.6 -17.43 L73.18 -16.97 L73.75 -16.23 L74.32 -15.25 L74.89 -14.08 L75.47 -12.77 L76.04 -11.38 L76.61 -9.96 L77.18 -8.56 L77.76 -7.23 L78.33 -6 L78.9 -4.89 L79.48 -3.92 L80.05 -3.08 L80.62 -2.38 L81.19 -1.81 L81.77 -1.35 L82.34 -0.99 L82.91 -0.71 L83.49 -0.5 L84.06 -0.35 L84.63 -0.24 L85.2 -0.16 L85.78 -0.11 L85.78 0Z" fill="#e8788c" fill-opacity="0.62" stroke="#333" stroke-width="0.55" stroke-linejoin="round"/>
<path d="M59.71 0 L59.71 -0.01 L60.29 -0.02 L60.86 -0.02 L61.43 -0.03 L62.01 -0.04 L62.58 -0.06 L63.15 -0.07 L63.72 -0.1 L64.3 -0.13 L64.87 -0.17 L65.44 -0.22 L66.02 -0.29 L66.59 -0.37 L67.16 -0.46 L67.73 -0.58 L68.31 -0.72 L68.88 -0.88 L69.45 -1.07 L70.02 -1.3 L70.6 -1.56 L71.17 -1.85 L71.74 -2.18 L72.32 -2.55 L72.89 -2.96 L73.46 -3.41 L74.03 -3.89 L74.61 -4.41 L75.18 -4.96 L75.75 -5.54 L76.33 -6.15 L76.9 -6.77 L77.47 -7.4 L78.04 -8.04 L78.62 -8.67 L79.19 -9.28 L79.76 -9.88 L80.34 -10.46 L80.91 -11.02 L81.48 -11.54 L82.05 -12.03 L82.63 -12.49 L83.2 -12.9 L83.77 -13.28 L84.34 -13.61 L84.92 -13.91 L85.49 -14.17 L86.06 -14.39 L86.64 -14.58 L87.21 -14.74 L87.78 -14.87 L88.35 -14.98 L88.93 -15.06 L89.5 -15.12 L90.07 -15.17 L90.47 0Z" fill="url(#hatch2)" opacity="0.8"/>
<path d="M120.12 0 L120.12 -13.82 L120.69 -13.79 L121.26 -13.76 L121.83 -13.73 L122.41 -13.7 L122.98 -13.67 L123.55 -13.63 L124.13 -13.6 L124.7 -13.57 L125.27 -13.54 L125.84 -13.5 L126.42 -13.47 L126.99 -13.43 L127.56 -13.4 L128.14 -13.36 L128.71 -13.32 L129.28 -13.28 L129.85 -13.23 L130.43 -13.18 L131 -13.13 L131.57 -13.07 L132.14 -13.01 L132.72 -12.94 L133.29 -12.86 L133.86 -12.77 L134.44 -12.68 L135.01 -12.57 L135.58 -12.45 L136.15 -12.32 L136.73 -12.17 L137.3 -12.01 L137.87 -11.83 L138.45 -11.63 L139.02 -11.41 L139.59 -11.18 L140.16 -10.92 L140.74 -10.64 L141.31 -10.35 L141.88 -10.03 L142.46 -9.7 L143.03 -9.34 L143.6 -8.97 L144.17 -8.59 L144.75 -8.19 L145.32 -7.78 L145.89 -7.36 L146.46 -6.94 L147.04 -6.51 L147.61 -6.09 L148.18 -5.68 L148.76 -5.28 L149.33 -4.88 L149.9 -4.48 L150.47 -4.1 L151.05 -3.74 L151.62 -3.39 L152.19 -3.05 L152.77 -2.74 L153.34 -2.44 L153.91 -2.16 L154.48 -1.91 L155.06 -1.67 L155.63 -1.46 L156.2 -1.27 L156.78 -1.09 L157.35 -0.94 L157.92 -0.8 L158.49 -0.68 L159.07 -0.57 L159.64 -0.48 L160.21 -0.4 L160.78 -0.33 L161.36 -0.27 L161.93 -0.22 L162.5 -0.18 L163.08 -0.14 L163.65 -0.12 L164.22 -0.09 L164.79 -0.07 L165.37 -0.06 L165.94 -0.04 L166.51 -0.03 L167.09 -0.03 L167.66 -0.02 L168.23 -0.02 L168.8 -0.01 L169.38 -0.01 L169.49 0Z" fill="url(#hatch2)" opacity="0.8"/>
<path d="M59.71 -0.01 L60.43 -0.02 L61.15 -0.03 L61.86 -0.04 L62.58 -0.06 L63.29 -0.08 L64.01 -0.11 L64.73 -0.16 L65.44 -0.22 L66.16 -0.31 L66.87 -0.41 L67.59 -0.55 L68.31 -0.72 L69.02 -0.93 L69.74 -1.18 L70.45 -1.49 L71.17 -1.85 L71.89 -2.27 L72.6 -2.75 L73.32 -3.29 L74.03 -3.89 L74.75 -4.55 L75.47 -5.25 L76.18 -5.99 L76.9 -6.77 L77.61 -7.56 L78.33 -8.36 L79.05 -9.13 L79.76 -9.88 L80.48 -10.61 L81.19 -11.28 L81.91 -11.91 L82.63 -12.49 L83.34 -13 L84.06 -13.45 L84.77 -13.84 L85.49 -14.17 L86.21 -14.44 L86.92 -14.67 L87.64 -14.84 L88.35 -14.98 L89.07 -15.08 L89.79 -15.14 L90.5 -15.19 L91.22 -15.21 L91.93 -15.22 L92.65 -15.22 L93.37 -15.21 L94.08 -15.19 L94.8 -15.16 L95.51 -15.13 L96.23 -15.1 L96.95 -15.06 L97.66 -15.03 L98.38 -14.99 L99.09 -14.95 L99.81 -14.92 L100.53 -14.88 L101.24 -14.84 L101.96 -14.8 L102.67 -14.76 L103.39 -14.72 L104.11 -14.69 L104.82 -14.65 L105.54 -14.61 L106.25 -14.57 L106.97 -14.53 L107.69 -14.49 L108.4 -14.45 L109.12 -14.42 L109.83 -14.38 L110.55 -14.34 L111.27 -14.3 L111.98 -14.26 L112.7 -14.22 L113.41 -14.18 L114.13 -14.15 L114.85 -14.11 L115.56 -14.07 L116.28 -14.03 L116.99 -13.99 L117.71 -13.95 L118.43 -13.91 L119.14 -13.87 L119.86 -13.84 L120.57 -13.8 L121.29 -13.76 L122.01 -13.72 L122.72 -13.68 L123.44 -13.64 L124.15 -13.6 L124.87 -13.56 L125.59 -13.52 L126.3 -13.48 L127.02 -13.43 L127.73 -13.39 L128.45 -13.34 L129.17 -13.28 L129.88 -13.23 L130.6 -13.17 L131.31 -13.1 L132.03 -13.02 L132.75 -12.93 L133.46 -12.83 L134.18 -12.72 L134.89 -12.59 L135.61 -12.44 L136.33 -12.28 L137.04 -12.08 L137.76 -11.86 L138.47 -11.62 L139.19 -11.34 L139.91 -11.04 L140.62 -10.7 L141.34 -10.33 L142.05 -9.93 L142.77 -9.5 L143.49 -9.05 L144.2 -8.57 L144.92 -8.07 L145.63 -7.55 L146.35 -7.03 L147.07 -6.49 L147.78 -5.97 L148.5 -5.46 L149.21 -4.95 L149.93 -4.46 L150.65 -3.99 L151.36 -3.54 L152.08 -3.12 L152.79 -2.72 L153.51 -2.36 L154.23 -2.02 L154.94 -1.72 L155.66 -1.45 L156.37 -1.21 L157.09 -1 L157.81 -0.82 L158.52 -0.67 L159.24 -0.54 L159.95 -0.43 L160.67 -0.34 L161.39 -0.27 L162.1 -0.21 L162.82 -0.16 L163.53 -0.12 L164.25 -0.09 L164.97 -0.07 L165.68 -0.05 L166.4 -0.04 L167.11 -0.03 L167.83 -0.02 L168.55 -0.01 L169.26 -0.01" fill="none" stroke="#3a1030" stroke-width="0.45" opacity="0.85"/>
<path d="M6.01 -44.9 L6.87 -37.2 L7.73 -31.09 L8.59 -26.24 L9.45 -22.41 L10.31 -19.37 L11.17 -16.96 L12.03 -15.07 L12.89 -13.57 L13.75 -12.39 L14.61 -11.46 L15.47 -10.73 L16.32 -10.17 L17.18 -9.73 L18.04 -9.4 L18.9 -9.14 L19.76 -8.95 L20.62 -8.81 L21.48 -8.72 L22.34 -8.66 L23.2 -8.62 L24.06 -8.61 L24.92 -8.61 L25.78 -8.63 L26.64 -8.66 L27.49 -8.69 L28.35 -8.74 L29.21 -8.79 L30.07 -8.85 L30.93 -8.92 L31.79 -8.99 L32.65 -9.06 L33.51 -9.13 L34.37 -9.21 L35.23 -9.29 L36.09 -9.37 L36.95 -9.45 L37.8 -9.54 L38.66 -9.63 L39.52 -9.72 L40.38 -9.81 L41.24 -9.9 L42.1 -10 L42.96 -10.09 L43.82 -10.19 L44.68 -10.29 L45.54 -10.39 L46.4 -10.49 L47.26 -10.59 L48.12 -10.7 L48.97 -10.8 L49.83 -10.91 L50.69 -11.02 L51.55 -11.13 L52.41 -11.24 L53.27 -11.35 L54.13 -11.46 L54.99 -11.58 L55.85 -11.71 L56.71 -11.84 L57.57 -11.99 L58.43 -12.17 L59.28 -12.39 L60.14 -12.69 L60.57 -12.88 L61 -13.11 L61.43 -13.37 L61.86 -13.69 L62.29 -14.07 L62.72 -14.53 L63.15 -15.08 L63.58 -15.72 L64.01 -16.5 L64.44 -17.42 L64.87 -18.51 L65.3 -19.8 L65.73 -21.34 L66.16 -23.16 L66.59 -25.32 L67.02 -27.87 L67.45 -30.87 L67.88 -34.41 L68.31 -38.55 L68.74 -43.39 L69.17 -48.98 L69.6 -55.42 L70.02 -62.76 L70.45 -71.04 L70.88 -80.27 L71.31 -90.44 L71.74 -101.48 L72.17 -113.28 L72.6 -125.68 L73.03 -138.26 L73.46 -150.61 L73.89 -162.79 L74.32 -174.47 L74.75 -185.29 L75.18 -194.91 L75.61 -202.99 L76.04 -209.22 L76.47 -213.36 L76.9 -215.25 L77.33 -214.78 L77.76 -211.97 L78.19 -206.88 L78.62 -199.69 L79.05 -190.65 L79.48 -180.06 L79.91 -168.27 L80.34 -155.64 L80.76 -142.55 L81.19 -129.34 L81.62 -116.35 L82.05 -103.85 L82.48 -92.07 L82.91 -81.19 L83.34 -71.32 L83.77 -62.53 L84.2 -54.82 L84.63 -48.19 L85.06 -42.56 L85.49 -37.86 L85.92 -33.99 L86.35 -30.85 L86.78 -28.35 L87.21 -26.37 L87.64 -24.83 L88.07 -23.64 L88.5 -22.73 L88.93 -22.04 L89.36 -21.51 L89.79 -21.11 L90.22 -20.81 L90.65 -20.57 L91.08 -20.38 L91.5 -20.23 L91.93 -20.1 L92.36 -19.99 L92.79 -19.88 L93.22 -19.78 L93.65 -19.69 L94.08 -19.6 L94.51 -19.52 L95.37 -19.35 L96.23 -19.18 L97.09 -19.02 L97.95 -18.86 L98.81 -18.7 L99.67 -18.55 L100.53 -18.4 L101.39 -18.25 L102.24 -18.11 L103.1 -17.97 L103.96 -17.83 L104.82 -17.69 L105.68 -17.56 L106.54 -17.43 L107.4 -17.3 L108.26 -17.17 L109.12 -17.04 L109.98 -16.92 L110.84 -16.79 L111.7 -16.67 L112.56 -16.55 L113.41 -16.43 L114.27 -16.32 L115.13 -16.21 L115.99 -16.1 L116.85 -15.99 L117.71 -15.89 L118.57 -15.79 L119.43 -15.7 L120.29 -15.61 L121.15 -15.54 L122.01 -15.49 L122.87 -15.45 L123.72 -15.43 L124.58 -15.44 L125.44 -15.48 L126.3 -15.55 L127.16 -15.67 L128.02 -15.84 L128.88 -16.06 L129.74 -16.34 L130.6 -16.69 L131.46 -17.1 L132.32 -17.57 L133.18 -18.11 L134.04 -18.7 L134.89 -19.34 L135.75 -20.01 L136.61 -20.69 L137.47 -21.37 L138.33 -22.01 L139.19 -22.6 L140.05 -23.11 L140.91 -23.5 L141.77 -23.76 L142.63 -23.87 L143.49 -23.81 L144.35 -23.56 L145.2 -23.12 L146.06 -22.49 L146.92 -21.68 L147.78 -20.71 L148.64 -19.61 L149.5 -18.38 L150.36 -17.05 L151.22 -15.66 L152.08 -14.23 L152.94 -12.79 L153.8 -11.37 L154.66 -10.01 L155.52 -8.71 L156.37 -7.5 L157.23 -6.38 L158.09 -5.38 L158.95 -4.48 L159.81 -3.69 L160.67 -3.01 L161.53 -2.43 L162.39 -1.94 L163.25 -1.53 L164.11 -1.19 L164.97 -0.92 L165.83 -0.7 L166.68 -0.53 L167.54 -0.4 L168.4 -0.29 L169.26 -0.21 L170.12 -0.16 L170.98 -0.11 L171.84 -0.08 L172.7 -0.05 L173.56 -0.04 L174.42 -0.03 L175.28 -0.02 L176.14 -0.01 L177 -0.01 L177.85 -0.01 L178.71 -0 L179.57 -0 L180.43 -0 L181.29 -0 L182.15 -0 L183.01 -0 L183.87 -0 L184.73 -0 L185.59 -0" fill="none" stroke="#222" stroke-width="0.6" stroke-linejoin="round"/>
<path d="M0 -3.74 L0.29 -8.27 L0.57 -12.69 L0.86 -17.32 L1.15 -22.45 L1.43 -28.83 L1.72 -35.99 L2 -42.42 L2.29 -46.86 L2.58 -49.79 L2.86 -51.57 L3.15 -52.38 L3.44 -52.19 L3.72 -51.09 L4.01 -49.51 L4.3 -47.89 L4.58 -45.97 L4.87 -43.64 L5.16 -41.56 L5.44 -40.41 L5.73 -40.43 L6.01 -41.25 L6.3 -42.58 L6.59 -44.15 L6.87 -46.71 L7.16 -49.86 L7.45 -51.63 L7.73 -51.02 L8.02 -49.03 L8.31 -46.77 L8.59 -44.61 L8.88 -42.25 L9.16 -39.81 L9.45 -37.42 L9.88 -32.91 L10.31 -29.15 L10.74 -25.99 L11.17 -23.33 L11.6 -21.1 L12.03 -19.21 L12.46 -17.62 L12.89 -16.29 L13.32 -15.2 L13.75 -14.44 L14.18 -14.15 L14.61 -14.45 L15.04 -15.17 L15.47 -15.73 L15.9 -15.46 L16.32 -14.25 L16.75 -12.6 L17.18 -11.17 L17.61 -10.24 L18.04 -9.73 L18.47 -9.46 L18.9 -9.15 L19.9 -8.51 L20.91 -8.92 L21.91 -8.67 L22.91 -7.88 L23.91 -8.2 L24.92 -8.28 L25.92 -8.29 L26.92 -9.34 L27.92 -9.36 L28.93 -7.73 L29.93 -8.73 L30.93 -9.32 L31.93 -9.65 L32.94 -9.6 L33.94 -8.55 L34.94 -9.43 L35.94 -9.45 L36.95 -10.07 L37.95 -9.94 L38.95 -9.19 L39.95 -10.37 L40.96 -9.6 L41.96 -10.36 L42.96 -10.39 L43.96 -10.09 L44.96 -9.41 L45.97 -9.84 L46.97 -10.03 L47.97 -10.46 L48.97 -10.66 L49.98 -11.54 L50.98 -11.42 L51.98 -11.79 L52.98 -11.34 L53.99 -13 L54.99 -16.97 L55.99 -18.9 L56.99 -16.4 L58 -13.2 L59 -12.05 L60 -13.25 L61 -13.63 L62.01 -18.38 L63.01 -24.81 L64.01 -21.45 L65.01 -19.67 L66.02 -26.47 L67.02 -38.57 L67.38 -41.55 L67.73 -43.08 L68.09 -43.78 L68.45 -44.7 L68.81 -46.69 L69.17 -50.06 L69.52 -54.69 L69.88 -60.34 L70.24 -66.82 L70.6 -74.03 L70.96 -81.92 L71.31 -90.46 L71.67 -99.62 L72.03 -109.34 L72.39 -119.53 L72.75 -130.1 L73.1 -140.63 L73.46 -151.08 L73.82 -161.48 L74.18 -171.66 L74.54 -181.4 L74.89 -190.5 L75.25 -198.74 L75.61 -205.9 L75.97 -211.79 L76.33 -216.2 L76.68 -218.99 L77.04 -220.04 L77.4 -219.28 L77.76 -216.72 L78.12 -212.41 L78.47 -206.47 L78.83 -199.07 L79.19 -190.42 L79.55 -180.75 L79.91 -170.32 L80.26 -159.35 L80.62 -148.09 L80.98 -136.75 L81.34 -125.53 L81.7 -114.59 L82.05 -104.08 L82.41 -94.12 L82.77 -84.8 L83.13 -76.17 L83.49 -68.3 L83.84 -61.18 L84.2 -54.83 L84.56 -49.22 L84.92 -44.33 L85.28 -40.1 L85.63 -36.48 L85.99 -33.42 L86.35 -30.85 L86.71 -28.73 L87.07 -26.98 L87.42 -25.55 L87.78 -24.39 L88.14 -25.59 L89.14 -24.34 L90.14 -21.29 L91.15 -19.9 L92.15 -19.46 L93.15 -22.28 L94.15 -20.7 L95.16 -19.7 L96.16 -20.87 L97.16 -18.53 L98.16 -18.18 L99.17 -17.97 L100.17 -18.52 L101.17 -16.83 L102.17 -17.11 L103.18 -18.18 L104.18 -16.79 L105.18 -16.22 L106.18 -17.98 L107.19 -16.38 L108.19 -16.94 L109.19 -18.4 L110.19 -17.77 L111.19 -19.91 L112.2 -17.75 L113.2 -15 L114.2 -16.74 L115.2 -16.97 L116.21 -17.72 L117.21 -14.76 L118.21 -15.63 L119.21 -17.55 L120.22 -16.83 L121.22 -17.83 L122.22 -15.53 L123.22 -16.46 L124.23 -16.11 L125.23 -18.22 L126.23 -15.39 L127.23 -17.71 L128.24 -17.24 L129.24 -17.17 L130.24 -16.53 L131.24 -16.25 L132.25 -16.26 L133.25 -19.58 L134.25 -19.75 L135.25 -23.79 L136.25 -25.13 L137.26 -26.63 L138.26 -28.93 L139.26 -28.63 L140.26 -30.36 L141.27 -27.35 L142.27 -27.94 L143.27 -29.62 L144.27 -27.77 L145.28 -28.71 L146.28 -25.76 L147.28 -22.38 L148.28 -23.28 L149.29 -20.56 L150.29 -18 L151.29 -16.16 L152.29 -13.4 L153.3 -11.95 L154.3 -11.99 L155.3 -8.87 L156.3 -7.7 L157.31 -5.62 L158.31 -5.37 L159.31 -5.32 L160.31 -4.75 L161.31 -2.91 L162.32 -1.71 L163.32 -1.5 L164.32 -1.36 L165.32 -1.07 L166.33 -1.41 L167.33 -0.71 L168.33 -0.24 L169.33 -0.11 L170.34 -0.38 L171.34 0 L172.34 0 L173.34 0 L174.35 0 L175.35 -0.15 L176.35 -0.33 L177.35 -0.27 L178.36 -0.36 L179.36 0 L180.36 -0.41 L181.36 -0.6 L182.37 0 L183.37 0 L184.37 -0.09 L185.37 -0.23 L186.37 -0.43 L187.38 -0.18 L188.38 0 L189.38 0 L190.38 -0.32 L191.39 -0.1 L192.39 0 L193.39 0 L194.39 -0.14 L195.4 -0.04 L196.4 -0.18 L197.4 -0.19 L198.4 -0.06 L199.41 0 L200.41 0 L201.41 -0.18 L202.41 0 L203.42 -0.26 L204.42 -0.61 L205.42 -0.4 L206.42 -0.22 L207.43 -0.09 L208.43 0 L209.43 -0.36 L210.43 -0.01 L211.43 0 L212.44 -0.43 L213.44 -0.41 L214.44 0 L215.44 -0.07 L216.45 -0.12 L217.45 -0.26 L218.45 0 L219.45 0 L220.46 0" fill="none" stroke="#1a1a1a" stroke-width="0.65" stroke-linejoin="round"/>
<g stroke="#2e2e2e" stroke-width="1" fill="none"><path d="M-9 0H221.24"/><path d="M0 0V-224.5"/><path d="M-9 0H0M-5.3 -7.48H0M-5.3 -14.97H0M-5.3 -22.45H0M-5.3 -29.93H0M-9 -37.42H0M-5.3 -44.9H0M-5.3 -52.38H0M-5.3 -59.87H0M-5.3 -67.35H0M-9 -74.83H0M-5.3 -82.32H0M-5.3 -89.8H0M-5.3 -97.28H0M-5.3 -104.77H0M-9 -112.25H0M-5.3 -119.73H0M-5.3 -127.22H0M-5.3 -134.7H0M-5.3 -142.18H0M-9 -149.67H0M-5.3 -157.15H0M-5.3 -164.63H0M-5.3 -172.12H0M-5.3 -179.6H0M-9 -187.08H0M-5.3 -194.57H0M-5.3 -202.05H0M-5.3 -209.53H0M-5.3 -217.02H0M-9 -224.5H0"/><path d="M0 0V8.7M7.16 0V5.2M14.32 0V5.2M21.48 0V5.2M28.64 0V8.7M35.8 0V5.2M42.96 0V5.2M50.12 0V5.2M57.28 0V8.7M64.44 0V5.2M71.6 0V5.2M78.76 0V5.2M85.92 0V8.7M93.08 0V5.2M100.24 0V5.2M107.4 0V5.2M114.56 0V8.7M121.72 0V5.2M128.88 0V5.2M136.04 0V5.2M143.2 0V8.7M150.36 0V5.2M157.52 0V5.2M164.68 0V5.2M171.84 0V8.7M179 0V5.2M186.16 0V5.2M193.32 0V5.2M200.48 0V8.7M207.64 0V5.2M214.8 0V5.2"/></g>
<g font-size="6.9" fill="#333" text-anchor="middle"><text x="0" y="19">0</text><text x="28.64" y="19">200</text><text x="57.28" y="19">400</text><text x="85.92" y="19">600</text><text x="114.56" y="19">800</text><text x="143.2" y="19">1000</text><text x="171.84" y="19">1200</text><text x="200.48" y="19">1400</text><text transform="translate(-13.3 0) rotate(-90)">0</text><text transform="translate(-13.3 -37.42) rotate(-90)">100</text><text transform="translate(-13.3 -74.83) rotate(-90)">200</text><text transform="translate(-13.3 -112.25) rotate(-90)">300</text><text transform="translate(-13.3 -149.67) rotate(-90)">400</text><text transform="translate(-13.3 -187.08) rotate(-90)">500</text><text transform="translate(-13.3 -224.5) rotate(-90)">600</text></g>
<text x="110.69" y="30.8" font-size="7.6" fill="#3a3a3a" text-anchor="middle">Propidium Iodide-A</text>
<text x="221.24" y="30.8" font-size="6.9" fill="#3a3a3a" text-anchor="end">(x 100)</text>
<text transform="translate(-24.5 -112.25) rotate(-90)" font-size="7.2" fill="#3a3a3a" text-anchor="middle">Number</text>
<path d="M77.18 1.2L80.78 7.6H73.58Z" fill="#000"/>
<path d="M137.33 1.2L140.93 7.6H133.73Z" fill="#000"/>
<rect x="176.6" y="-230.2" width="7.4" height="7.2" fill="#c3c3f8" stroke="#555" stroke-width="0.7"/>
<text x="188" y="-224.2" font-size="6.3" fill="#4848d8">Debris</text>
<rect x="176.6" y="-221.3" width="7.4" height="7.2" fill="#fb0207" stroke="#555" stroke-width="0.7"/>
<text x="188" y="-215.3" font-size="6.3" fill="#4848d8">G0G1</text>
<rect x="176.6" y="-212.4" width="7.4" height="7.2" fill="#fb0207" stroke="#555" stroke-width="0.7"/>
<text x="188" y="-206.4" font-size="6.3" fill="#4848d8">G2M</text>
<rect x="176.6" y="-203.5" width="7.4" height="7.2" fill="#fff"/>
<rect x="176.6" y="-203.5" width="7.4" height="7.2" fill="url(#hatchL)" stroke="#555" stroke-width="0.7"/>
<text x="188" y="-197.5" font-size="6.3" fill="#4848d8">S-Phase</text>
</g>
</g>
<g font-family="'Liberation Sans', sans-serif" font-weight="bold" fill="#111" font-size="17.8" text-anchor="middle">
<text x="24.8" y="16.23">(A1)</text>
<text x="50.9" y="40.63">(a)</text>
<text x="326.7" y="41.73">(b)</text>
<text x="609.1" y="41.03">(c)</text>
<text x="883.4" y="41.43">(d)</text>
<text x="242.2" y="336.37" font-size="16.8">(A2)</text>
</g>
<g stroke="#1c1c1c" stroke-width="2.8" fill="none" stroke-linecap="round">
<path d="M303.2 334V632.7"/>
<path d="M294.7 632.7H755.9"/>
<path d="M294.7 334H303.2M294.7 408.68H303.2M294.7 483.35H303.2M294.7 558.03H303.2"/>
<path d="M378.3 632.7V640.7M528.2 632.7V640.7M678.3 632.7V640.7"/>
</g>
<g font-family="'Liberation Serif', serif" font-weight="bold" fill="#1c1c1c" font-size="24.3" letter-spacing="0.9" text-anchor="end">
<text x="292" y="343">80</text>
<text x="292" y="417.68">60</text>
<text x="292" y="492.35">40</text>
<text x="292" y="567.03">20</text>
<text x="292" y="641.7">0</text>
</g>
<text transform="translate(248.8 623.3) rotate(-90)" font-family="'Liberation Serif', serif" font-weight="bold" font-size="24.8" textLength="279.5" lengthAdjust="spacing" fill="#1c1c1c">Distribution of phase (%)</text>
<g font-family="'Liberation Serif', serif" font-weight="bold" fill="#1c1c1c" font-size="24.5" text-anchor="end">
<text transform="translate(387.8 669.3) rotate(-45)">G0/G1</text>
<text transform="translate(537.7 669.3) rotate(-45)">S</text>
<text transform="translate(687.8 669.3) rotate(-45)">G2/M</text>
</g>
<g transform="translate(322.1 369.25)" stroke="#f28e2b" stroke-linejoin="round" stroke-linecap="round">
<path d="M2.3 -5.35H12.9M7.6 -5.35V-2.3" stroke-width="4.2" fill="none"/>
<path d="M-2.95 262.85V-2.3H18.15V262.85" fill="url(#pO)" stroke-width="4.3" stroke-linecap="butt"/>
<path d="M152.35 239.55H162.95M157.65 239.55V240.7" stroke-width="4.2" fill="none"/>
<path d="M147.1 262.85V240.7H168.2V262.85" fill="url(#pO)" stroke-width="4.3" stroke-linecap="butt"/>
<path d="M302.3 179.85H312.9M307.6 179.85V180.7" stroke-width="4.2" fill="none"/>
<path d="M297.05 262.85V180.7H318.15V262.85" fill="url(#pO)" stroke-width="4.3" stroke-linecap="butt"/>
</g>
<g transform="translate(357.4 414.7)" stroke="#3a8c55" stroke-linejoin="round" stroke-linecap="round">
<path d="M-1 -9.3H9.6M4.3 -9.3V-5.85" stroke-width="4.2" fill="none"/>
<path d="M-6.25 217.4V-5.85H14.85V217.4" fill="url(#pG)" stroke-width="4.3" stroke-linecap="butt"/>
<path d="M149.05 178.3H159.65M154.35 178.3V179.15" stroke-width="4.2" fill="none"/>
<path d="M143.8 217.4V179.15H164.9V217.4" fill="url(#pG)" stroke-width="4.3" stroke-linecap="butt"/>
<path d="M299 104.3H309.6M304.3 104.3V108.85" stroke-width="4.2" fill="none"/>
<path d="M293.75 217.4V108.85H314.85V217.4" fill="url(#pG)" stroke-width="4.3" stroke-linecap="butt"/>
</g>
<g transform="translate(0 402.2)" stroke="#45297f" stroke-linejoin="round" stroke-linecap="round">
<path d="M388.4 -31.9H399M393.7 -31.9V-30.15" stroke-width="4.2" fill="none"/>
<path d="M383.15 229.9V-30.15H404.25V229.9" fill="url(#pP)" stroke-width="4.3" stroke-linecap="butt"/>
<path d="M538.45 201.3H549.05M543.75 201.3V207.35" stroke-width="4.2" fill="none"/>
<path d="M533.2 229.9V207.35H554.3V229.9" fill="url(#pP)" stroke-width="4.3" stroke-linecap="butt"/>
<path d="M688.4 137.4H699M693.7 137.4V143.25" stroke-width="4.2" fill="none"/>
<path d="M683.15 229.9V143.25H704.25V229.9" fill="url(#pP)" stroke-width="4.3" stroke-linecap="butt"/>
</g>
<g transform="translate(0 0)" stroke="#e2405f" stroke-linejoin="round" stroke-linecap="round">
<path d="M420.4 404.3H431M425.7 404.3V410.35" stroke-width="4.2" fill="none"/>
<path d="M415.15 632.1V410.35H436.25V632.1" fill="#fff" stroke-width="4.3" stroke-linecap="butt"/>
<path d="M425.9 410.35V632.1" stroke="#e6607a" stroke-width="1.5" stroke-linecap="butt"/>
<path d="M570.45 597H581.05M575.75 597V597.95" stroke-width="4.2" fill="none"/>
<path d="M565.2 632.1V597.95H586.3V632.1" fill="#fff" stroke-width="4.3" stroke-linecap="butt"/>
<path d="M575.95 597.95V632.1" stroke="#e6607a" stroke-width="1.5" stroke-linecap="butt"/>
<path d="M720.4 511H731M725.7 511V517.75" stroke-width="4.2" fill="none"/>
<path d="M715.15 632.1V517.75H736.25V632.1" fill="#fff" stroke-width="4.3" stroke-linecap="butt"/>
<path d="M725.9 517.75V632.1" stroke="#e6607a" stroke-width="1.5" stroke-linecap="butt"/>
</g>
<g font-family="'Liberation Serif', serif" font-size="17" fill="#4d4a48" text-anchor="middle" font-weight="bold">
<text x="363.1" y="404.8">***</text>
<text x="393.6" y="366.5">*</text>
<text x="429.4" y="404.8">***</text>
<text x="513.3" y="588.8">***</text>
<text x="576.4" y="588.8">***</text>
<text x="661" y="514.5">***</text>
<text x="725.1" y="506">*</text>
</g>
<g transform="translate(789.7 349.6)">
<rect x="-2.15" y="-2.75" width="32.4" height="16.5" rx="1.6" fill="url(#pO)" stroke="#f28e2b" stroke-width="4.3"/>
</g>
<g transform="translate(793.4 387.1)">
<rect x="-5.85" y="-5.75" width="32.4" height="16.5" rx="1.6" fill="url(#pG)" stroke="#3a8c55" stroke-width="4.3"/>
</g>
<g transform="translate(0 421.9)">
<rect x="787.55" y="-6.55" width="32.4" height="16.5" rx="1.6" fill="url(#pP)" stroke="#45297f" stroke-width="4.3"/>
</g>
<g transform="translate(0 0)">
<rect x="787.55" y="449.75" width="32.4" height="16.5" rx="1.6" fill="#fff" stroke="#e2405f" stroke-width="4.3"/>
<path d="M795.6 451.9V464.1M803.9 451.9V464.1M812 451.9V464.1" stroke="#e2405f" stroke-width="1.5"/>
</g>
<g font-family="'Liberation Serif', serif" font-size="25.4" fill="#222">
<text x="837.6" y="363.8">Con</text>
<text x="837.6" y="398.3">NIC</text>
<text x="837.6" y="432.3">JS</text>
<text x="837.6" y="466.7">ZY</text>
</g>
<g fill="#fff" stroke="url(#wg)" stroke-width="0.95" stroke-linejoin="round" filter="url(#wsh3)">
<path d="M906.4 668.7c-7.9 0-14.3 5.7-14.3 12.8 0 4.1 2.2 7.8 5.6 10.1l-1.7 4.8 6.1-3.3c1.4.4 2.8.6 4.3.6 7.9 0 14.3-5.7 14.3-12.8s-6.4-12.2-14.3-12.2z"/>
<path d="M920 679.1c-7.1 0-12.9 5.3-12.9 11.8s5.8 11.8 12.9 11.8c1.7 0 3.4-.3 4.9-.9l5 2.4-1.3-4.5c2.6-2.1 4.3-5.3 4.3-8.8 0-6.5-5.8-11.8-12.9-11.8z"/>
</g>
<path d="M899.9 678.2a1.6 1.6 0 0 1 3.2 0M911.3 678.2a1.6 1.6 0 0 1 3.2 0M914.2 687.8a1.5 1.5 0 0 1 3 0M923.6 687.8a1.5 1.5 0 0 1 3 0" fill="none" stroke="#9a9a9a" stroke-width="0.9" stroke-linecap="round"/>
<text x="940" y="696.2" font-family="'Liberation Sans', 'Noto Sans CJK SC', sans-serif" font-size="26.6" fill="#fff" filter="url(#wsh)">开泰生物</text>
</svg>
</body></html>
